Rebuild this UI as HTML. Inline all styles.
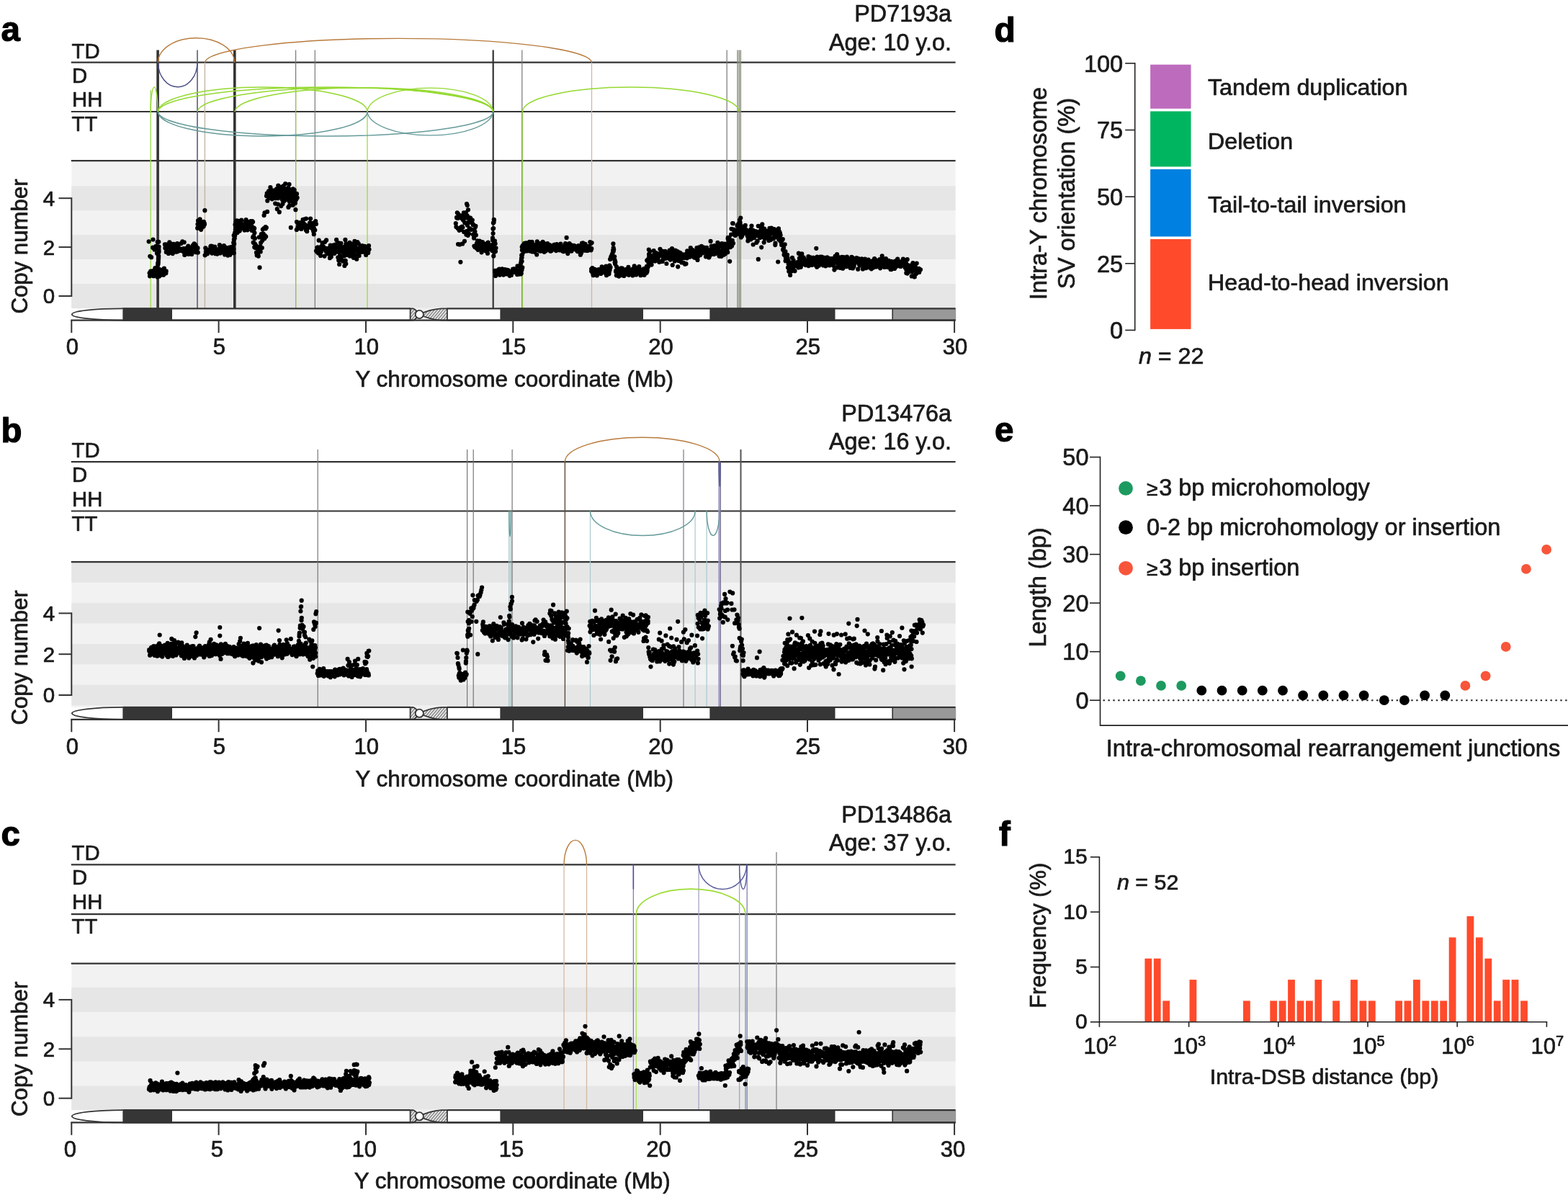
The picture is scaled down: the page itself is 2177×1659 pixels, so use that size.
<!DOCTYPE html>
<html lang="en"><head><meta charset="utf-8"><title>Figure</title>
<style>
html,body{margin:0;padding:0;background:#fff;}
body{width:2177px;height:1659px;overflow:hidden;}
svg{display:block;font-family:'Liberation Sans', Arial, Helvetica, sans-serif;}
text{stroke:#1a1a1a;stroke-width:.7px;stroke-linejoin:round;}
text.pl{stroke:#000;stroke-width:1.2px;}
</style></head><body>
<svg width="2177" height="1659" viewBox="0 0 2177 1659">
<defs>
<pattern id="hat" width="3.1" height="3.1" patternUnits="userSpaceOnUse" patternTransform="rotate(40)">
<rect width="3.1" height="3.1" fill="#ececec"/><line x1="0.8" y1="0" x2="0.8" y2="3.1" stroke="#7a7a7a" stroke-width="1.3"/>
</pattern>
</defs>
<rect width="2177" height="1659" fill="#fff"/>

<rect x="99.3" y="223.2" width="1227.3" height="205.1" fill="#f2f2f2"/>
<rect x="99.3" y="394" width="1227.3" height="34" fill="#e6e6e6"/>
<rect x="99.3" y="326.1" width="1227.3" height="33.9" fill="#e6e6e6"/>
<rect x="99.3" y="258.2" width="1227.3" height="33.9" fill="#e6e6e6"/>
<line x1="98.8" y1="86.7" x2="1326.6" y2="86.7" stroke="#333" stroke-width="2.2"/>
<line x1="98.8" y1="155" x2="1326.6" y2="155" stroke="#333" stroke-width="2.2"/>
<line x1="98.8" y1="223.2" x2="1326.6" y2="223.2" stroke="#333" stroke-width="2.2"/>
<line x1="209.2" y1="125" x2="209.2" y2="428.3" stroke="#a2dc55" stroke-width="1.4" opacity="1"/>
<line x1="274" y1="69.5" x2="274" y2="428.3" stroke="#5c5c72" stroke-width="1.6" opacity="1"/>
<line x1="284.4" y1="86.7" x2="284.4" y2="428.3" stroke="#c4b4a2" stroke-width="1.4" opacity="1"/>
<line x1="410.6" y1="69.5" x2="410.6" y2="428.3" stroke="#777" stroke-width="1.2" opacity="1"/>
<line x1="410.6" y1="121" x2="410.6" y2="428.3" stroke="#94d930" stroke-width="1.2" opacity="0.8"/>
<line x1="437.3" y1="69.5" x2="437.3" y2="428.3" stroke="#777" stroke-width="1.2" opacity="1"/>
<line x1="510" y1="155" x2="510" y2="428.3" stroke="#94d930" stroke-width="1.2" opacity="1"/>
<line x1="724.8" y1="69.5" x2="724.8" y2="428.3" stroke="#777" stroke-width="1.2" opacity="1"/>
<line x1="725.6" y1="155" x2="725.6" y2="428.3" stroke="#94d930" stroke-width="1.2" opacity="0.8"/>
<line x1="821.5" y1="86.7" x2="821.5" y2="428.3" stroke="#d0b8a0" stroke-width="1.3" opacity="1"/>
<line x1="1009.2" y1="69.5" x2="1009.2" y2="428.3" stroke="#777" stroke-width="1.2" opacity="1"/>
<line x1="1024" y1="69.5" x2="1024" y2="428.3" stroke="#8a9080" stroke-width="1.5" opacity="1"/>
<line x1="1026.3" y1="69.5" x2="1026.3" y2="428.3" stroke="#8a9080" stroke-width="1.5" opacity="1"/>
<line x1="1028.3" y1="69.5" x2="1028.3" y2="428.3" stroke="#8a9080" stroke-width="1.5" opacity="1"/>
<line x1="219.1" y1="69.5" x2="219.1" y2="428.3" stroke="#333" stroke-width="3.6" opacity="1"/>
<line x1="325.8" y1="69.5" x2="325.8" y2="428.3" stroke="#333" stroke-width="3.6" opacity="1"/>
<line x1="684.7" y1="69.5" x2="684.7" y2="428.3" stroke="#333" stroke-width="2.2" opacity="1"/>
<path d="M219.5,86.7 A53,34 0 0 1 325.5,86.7" fill="none" stroke="#b87a3c" stroke-width="1.4" opacity="1"/>
<path d="M284.4,86.7 A268.6,34 0 0 1 821.5,86.7" fill="none" stroke="#b87a3c" stroke-width="1.4" opacity="1"/>
<path d="M219.5,86.7 A27.2,34 0 0 0 274,86.7" fill="none" stroke="#484c84" stroke-width="1.4" opacity="1"/>
<path d="M209.2,155 A4.9,34 0 0 1 219,155" fill="none" stroke="#94d930" stroke-width="1.4" opacity="1"/>
<path d="M219.5,155 A232.6,34 0 0 1 684.7,155" fill="none" stroke="#94d930" stroke-width="1.4" opacity="1"/>
<path d="M274,155 A205.4,34 0 0 1 684.7,155" fill="none" stroke="#94d930" stroke-width="1.4" opacity="1"/>
<path d="M326,155 A179.4,34 0 0 1 684.7,155" fill="none" stroke="#94d930" stroke-width="1.4" opacity="1"/>
<path d="M219.5,155 A145.2,34 0 0 1 510,155" fill="none" stroke="#94d930" stroke-width="1.4" opacity="1"/>
<path d="M510,155 A87.4,34 0 0 1 684.7,155" fill="none" stroke="#94d930" stroke-width="1.4" opacity="1"/>
<path d="M725.6,155 A150.2,34 0 0 1 1026,155" fill="none" stroke="#94d930" stroke-width="1.4" opacity="1"/>
<path d="M219.5,155 A145.2,34 0 0 0 510,155" fill="none" stroke="#649a99" stroke-width="1.4" opacity="1"/>
<path d="M510,155 A87.4,34 0 0 0 684.7,155" fill="none" stroke="#649a99" stroke-width="1.4" opacity="1"/>
<path d="M219.5,155 A232.6,34 0 0 0 684.7,155" fill="none" stroke="#649a99" stroke-width="1.4" opacity="1"/>
<path d="M206.6,335.3h0M208.3,355.8h0M210.1,357.2h0M212.1,343.7h0M212.5,332.5h0M214.5,346.5h0M216.5,341.9h0M218,351.7h0M218.7,335.9h0M207.6,379h0M208,383.3h0M208.5,378.7h0M208.8,377.6h0M209.2,376.7h0M209.7,379h0M210,377h0M210.4,379.2h0M210.7,376.5h0M211.4,380.7h0M211.5,378.4h0M212.2,376.2h0M212.3,378.1h0M212.8,378.6h0M213.1,383.2h0M213.7,378.2h0M213.9,379.1h0M214.4,375.2h0M214.7,379.7h0M214.9,376.8h0M215.4,372.2h0M215.7,381.1h0M216.3,378.3h0M216.5,380.1h0M217.1,375.8h0M217.4,379.5h0M217.5,375.1h0M217.9,379.3h0M218.5,384.5h0M218.8,375.5h0M219.4,374.2h0M219.7,382.3h0M219.9,378.4h0M220.4,373.6h0M220.8,378.1h0M221.1,383.6h0M221.4,379.1h0M222,374.6h0M222.4,382.2h0M222.8,380.5h0M223,377.5h0M223.3,374.6h0M223.7,379.6h0M224.2,379.6h0M224.5,376.8h0M225,379.7h0M225.3,379.7h0M225.6,376.8h0M226.2,375.4h0M226.6,375.6h0M227,381.7h0M227.2,374.8h0M227.5,380.5h0M227.9,372.5h0M228.3,376.6h0M228.7,378.8h0M229,378.8h0M229.4,378.7h0M229.9,377.3h0M230.4,379.3h0M230.7,376.4h0M219.1,377.9h0M219.1,368.1h0M219.2,365.2h0M219.3,372.6h0M219.4,366.2h0M219.5,367h0M219.6,364.9h0M219.7,365h0M219.8,364.1h0M219.9,359.5h0M219.9,361h0M220,356.3h0M220.1,359h0M220.2,355h0M220.2,356.5h0M220.3,335.8h0M220.4,345.8h0M220.5,349.9h0M220.6,348.6h0M220.6,342.5h0M228.9,339.3h0M229.4,344.5h0M229.7,342.5h0M230.4,339.4h0M230.8,349.9h0M231.1,346.4h0M231.5,348h0M232,349.8h0M232.5,347.8h0M233.2,348.9h0M233.6,340.5h0M233.9,352h0M234.5,351.4h0M235.3,336.3h0M235.6,344.8h0M236.3,340.6h0M236.8,350.5h0M237.2,339.6h0M237.6,343.4h0M238.2,346.4h0M238.4,342.1h0M239,338.8h0M239.7,352.1h0M240,350.5h0M240.5,348.1h0M241.1,338.8h0M241.8,344.6h0M242.1,347.5h0M242.4,344.7h0M243.3,345.8h0M243.7,344.5h0M244.1,349.2h0M244.7,349.7h0M244.9,342.7h0M245.3,347h0M246.1,338.2h0M246.8,349.1h0M247.2,345.4h0M247.7,340.5h0M247.8,345.7h0M248.3,345.3h0M248.9,346.9h0M249.8,347.8h0M249.8,345.3h0M250.4,346.2h0M251.2,347.9h0M251.4,338h0M251.9,347.7h0M252.4,347.9h0M253.1,345.9h0M253.3,335.4h0M253.9,345.4h0M254.5,349.3h0M254.8,345.1h0M255.7,336.3h0M255.8,348.1h0M256.3,354h0M257,353.3h0M257.5,347.7h0M258,348.7h0M258.3,346.1h0M258.8,344.6h0M259.7,351.4h0M260,344.4h0M260.6,348.7h0M260.8,344.1h0M261.3,341.5h0M261.8,352.8h0M262.3,351h0M262.9,347.5h0M263.3,343.3h0M263.7,345.8h0M264.4,344.8h0M264.9,345.5h0M265.3,345h0M266.1,350.4h0M266.2,352.9h0M266.7,346.2h0M267.6,343.1h0M268.1,340.3h0M268.5,346.9h0M268.9,344.5h0M269.5,348.3h0M269.7,338.4h0M270.5,342.9h0M271,345.5h0M271.5,340.1h0M271.9,350.2h0M272.4,344.4h0M272.6,342.5h0M273.4,347.6h0M273.6,348.7h0M274.5,344.4h0M274.8,350.6h0M274.2,316.7h0M274.5,311.3h0M275,306.4h0M275.5,311.6h0M276.1,308.8h0M276.4,311h0M276.9,313h0M277.6,304.4h0M278.1,315h0M278.4,314.6h0M279.1,318.8h0M279.6,312.6h0M280.2,312.9h0M280.6,315.7h0M281.1,311.8h0M281.7,308.1h0M282.4,309.5h0M282.7,314.3h0M282.9,307.9h0M283.9,310.3h0M284,311.6h0M284.6,354.3h0M285.3,344.4h0M285.8,349.5h0M286.3,352.7h0M286.9,350.7h0M287.4,348.6h0M287.5,347.5h0M288,352.3h0M288.4,349.2h0M289.2,347.2h0M289.6,349.9h0M290,346.6h0M290.8,347.6h0M291.3,348.6h0M291.8,348.7h0M292.3,342.3h0M292.8,341.5h0M293.2,347.8h0M293.8,350.4h0M294.3,351.6h0M294.5,341.9h0M294.9,347.4h0M295.7,344.7h0M296.3,342.7h0M296.5,343h0M296.8,347.3h0M297.6,343.7h0M297.8,345h0M298.3,342.7h0M299.1,352.2h0M299.3,350.9h0M299.9,349.4h0M300.5,347.3h0M300.8,349.2h0M301.6,352.6h0M302.2,350.7h0M302.6,347.7h0M303.1,349.9h0M303.3,348.1h0M303.7,345.8h0M304.5,348.3h0M304.9,340.2h0M305.6,347.9h0M305.7,351.5h0M306.3,346.5h0M306.9,349.4h0M307.1,342.8h0M307.9,349.6h0M308.3,345.5h0M309,348.3h0M309.4,350.5h0M309.8,346.4h0M310.2,346.2h0M310.9,341.2h0M311.3,351.3h0M312.1,353.5h0M312.3,344.8h0M312.9,343.3h0M313.1,346.7h0M313.9,350h0M314,347.2h0M314.7,350h0M315.5,344.8h0M315.8,347.3h0M316.4,354.6h0M316.8,346.6h0M317.3,351.9h0M317.8,351h0M318.3,343.5h0M319,345h0M319.4,353.7h0M319.9,349.3h0M320.1,348.7h0M320.8,343.1h0M321,349.9h0M321.9,350.7h0M322,346.1h0M322.7,346.6h0M323.1,350.5h0M323.7,342h0M324.4,345.9h0M324.7,351.2h0M324.2,336.9h0M324.4,337.3h0M324.7,326.8h0M324.9,332.7h0M325.2,338.6h0M325.5,330.4h0M325.8,330.8h0M326,323.3h0M326.3,326.8h0M326.4,324.5h0M326.8,319h0M327.1,317.1h0M327.3,309.3h0M326.5,311.9h0M327.1,313.6h0M327.4,314.7h0M328,307.9h0M328.5,310.2h0M328.7,306.3h0M329.6,322.9h0M330,309h0M330.4,313.3h0M330.7,306.9h0M331.2,313.8h0M332,317.4h0M332.2,314.5h0M332.8,320.6h0M333.2,317.5h0M333.6,309.6h0M334.2,306.8h0M335,310.8h0M335.2,305.7h0M336,311.5h0M336.6,316.6h0M337,316.1h0M337.1,314h0M337.8,315.3h0M338.3,315.4h0M338.7,311.3h0M339.5,319.6h0M339.7,311.9h0M340.4,316.6h0M341,307.7h0M341.6,305.1h0M342,311h0M342.2,318.3h0M343,309.3h0M343.3,307.6h0M343.6,319.3h0M344.5,311h0M344.9,313.4h0M345.1,315.6h0M345.8,312h0M346.5,312.7h0M346.6,314.5h0M347.5,310.1h0M347.6,312.8h0M348.1,307h0M348.9,312.8h0M349.4,309.9h0M349.7,320h0M350.3,307.2h0M350.6,315.4h0M351.1,308.1h0M351.7,316.7h0M352.3,319.7h0M352.5,316.4h0M353.2,317h0M351,318.6h0M351.2,329.4h0M351.7,336.7h0M352.1,327.9h0M352.6,337.2h0M352.6,317.4h0M353.3,343.2h0M353.4,323.3h0M353.9,331h0M354.2,338.9h0M354.7,344.1h0M355,340.4h0M355.5,343.1h0M356,341.9h0M356,350.7h0M356.7,354.4h0M356.9,351.3h0M357.4,353.3h0M357.9,344.4h0M358.2,342.6h0M358.5,354.8h0M358.8,355.6h0M359.2,348.5h0M359.8,329.3h0M359.9,346.7h0M360.5,371.4h0M360.9,329.1h0M361.3,342h0M361.7,349.4h0M362.1,337h0M362.3,328.5h0M362.8,325h0M363.2,326h0M363.3,324.9h0M363.8,344h0M364.2,334h0M364.8,318.6h0M365.1,331.5h0M365.6,324.5h0M365.8,324.9h0M366.4,317.2h0M366.6,299h0M367.2,331.2h0M367.5,295.3h0M367.9,327h0M368,329.5h0M368.7,315.2h0M369,317.3h0M369.2,328.5h0M369.8,316.1h0M370,272.1h0M370.6,271h0M370.7,268.4h0M371.3,278.7h0M371.4,272.3h0M371.9,268h0M372.2,269.5h0M372.7,268.1h0M373,265.3h0M373.5,270h0M373.7,268.2h0M374.4,270h0M374.7,270.5h0M374.8,275h0M375.4,260.1h0M375.7,262.2h0M376.3,272.6h0M376.6,275.2h0M376.9,264.3h0M377.4,265.4h0M377.8,276.3h0M378.2,268.1h0M378.5,264.4h0M378.9,274.3h0M379.1,268.6h0M379.7,266h0M379.7,274.9h0M380.4,271.5h0M380.6,267.2h0M381.1,265.3h0M381.4,268h0M382,268.4h0M382.2,282.6h0M382.6,274.4h0M383,270.3h0M383.5,262.8h0M383.8,269.8h0M384,270.3h0M384.5,262.1h0M384.9,265h0M385.3,268.7h0M385.8,268.9h0M385.9,275.2h0M386.3,257.6h0M386.8,272.8h0M387.3,258.9h0M387.5,273.1h0M387.9,266.8h0M388.4,273.4h0M388.6,271.4h0M388.9,263.2h0M389.3,269.2h0M389.7,267.8h0M390.1,263.8h0M390.5,274h0M391.1,268.7h0M391.4,261.9h0M391.8,277h0M392.1,264.6h0M392.5,282.9h0M392.9,267.7h0M393,258.7h0M393.5,258.2h0M393.8,268.6h0M394.5,262.3h0M394.7,270.2h0M394.9,278.7h0M395.5,261.7h0M395.9,268.7h0M396.2,255h0M396.5,273.4h0M397,275.7h0M397.2,264.7h0M397.7,269.7h0M398.2,262.5h0M398.6,266.8h0M398.7,276.6h0M399.2,270.9h0M399.7,272.6h0M400.2,260.8h0M400.3,261.6h0M400.7,265.7h0M401.2,270.8h0M401.5,255.9h0M401.8,279.7h0M402.3,263.4h0M402.6,273h0M403.2,272.1h0M403.3,263.4h0M404,275.6h0M404.4,279.2h0M404.5,274.5h0M405.1,270.3h0M405.5,268.3h0M405.8,264.6h0M406.1,266.4h0M406.5,266.3h0M406.9,262.4h0M407.3,270.6h0M407.5,272.7h0M408.1,266.7h0M408.3,267.8h0M408.7,263.9h0M409.1,271.7h0M409.7,271.1h0M410,270.8h0M410.2,269.4h0M410.7,275.1h0M411.2,276.9h0M411.3,273.9h0M411.7,268.9h0M412,269.2h0M382.4,275.2h0M384.8,290.2h0M385.9,283.6h0M387.8,294.4h0M390.3,286.1h0M391.5,272.3h0M394.8,278.5h0M395.8,277.5h0M399.7,267.5h0M400.4,287.7h0M401.8,285.7h0M404.5,276h0M407.4,275.4h0M409.3,277.1h0M406.4,279.2h0M406.7,284.7h0M407.5,275.6h0M408.3,278.8h0M409.9,281.9h0M410.4,291.2h0M411,277.1h0M412,308h0M412.7,274.6h0M413.8,315.1h0M411.8,319h0M412.5,318h0M412.9,308.9h0M413.3,317.5h0M413.7,314.7h0M414.5,316.3h0M414.6,316.7h0M415.3,311.3h0M415.7,310h0M416.3,312.7h0M416.8,309.2h0M417.3,314.4h0M417.7,311.5h0M418.3,318h0M418.9,314.2h0M419.4,313.2h0M419.7,313.7h0M420.4,307.4h0M420.6,304.8h0M421.4,311h0M421.9,304.6h0M422.2,310.8h0M422.9,314.5h0M423.2,314.9h0M423.8,312h0M424.1,316.7h0M424.8,319.6h0M425,303.6h0M425.8,315.8h0M426.2,321.2h0M426.7,316.3h0M427.4,316.6h0M427.9,315.6h0M428.2,314.1h0M428.7,313.9h0M429,313h0M429.5,313.1h0M430,309.7h0M430.6,309h0M431.1,303.6h0M431.8,314h0M432.4,311.7h0M432.9,316h0M433.1,316.9h0M433.5,314.7h0M434.3,309.8h0M434.9,315h0M435.1,321h0M435.8,325.2h0M436,317h0M436.6,311.5h0M437.3,319.5h0M437.8,310.8h0M438.2,307.1h0M438.9,311h0M439,348.3h0M439.6,349.2h0M440.3,343.8h0M440.9,345h0M441.1,343.3h0M441.7,347.4h0M441.9,351.4h0M442.7,333.7h0M443.3,350.2h0M443.6,343.5h0M444.2,345.3h0M444.6,348h0M445.1,354.9h0M445.8,349.6h0M445.9,346.5h0M446.3,343.1h0M446.9,341.4h0M447.6,337.2h0M448.2,345.5h0M448.8,342h0M449.2,343.9h0M449.5,345.1h0M450.1,345.7h0M450.5,355.6h0M451,336h0M451.7,344.5h0M452.2,347.1h0M452.4,348.6h0M453.1,333.4h0M453.3,349.7h0M454,349.9h0M454.6,345.2h0M455.2,346h0M455.5,352.3h0M456,348.4h0M456.6,345.6h0M456.7,347.8h0M457.5,348.6h0M458,358.2h0M458.3,343h0M458.7,340.7h0M459.3,346h0M459.8,356.6h0M460.5,352.8h0M460.8,350h0M461.4,346h0M461.8,342.4h0M462.3,340.5h0M462.7,342.9h0M463.2,349h0M463.9,340h0M464.4,351.8h0M464.9,346.2h0M465.2,342.5h0M465.7,345.8h0M466.1,339.4h0M466.6,344.9h0M467.4,341.6h0M467.8,343.1h0M468.5,339.9h0M468.8,349.4h0M469.1,346.4h0M469.8,337.2h0M470,340.8h0M470.9,350.3h0M471.3,339.8h0M471.5,346.7h0M472.1,345.3h0M472.7,346.4h0M473.4,337.8h0M473.6,343h0M474.3,347.8h0M474.6,346.9h0M475.3,345.3h0M475.5,348.7h0M476.3,343.9h0M476.7,350.9h0M477,350.2h0M477.4,342.8h0M478.3,348.5h0M478.9,346.4h0M479.3,346.5h0M479.7,344.7h0M480.1,341.5h0M480.4,338.4h0M481.3,349.1h0M481.5,342.5h0M482.2,346h0M482.5,342.3h0M482.9,344.7h0M483.7,348.8h0M484.1,340.9h0M484.4,349.5h0M485.2,350.4h0M485.5,336.9h0M486.2,354.9h0M486.5,345.1h0M487.2,342.6h0M487.3,349.8h0M487.8,346.8h0M488.4,342.1h0M489.2,350.3h0M489.7,338.7h0M489.7,340.7h0M490.4,356.2h0M491,340.4h0M491.3,350.7h0M491.8,345.2h0M492.4,334.9h0M493.1,354.4h0M493.2,340.3h0M494.1,347.8h0M494.3,338.4h0M494.8,336.3h0M495.2,359.7h0M496.1,344.9h0M496.3,336.1h0M497,345.2h0M497.4,353.2h0M497.8,338.3h0M498.6,355h0M498.8,348.3h0M499.3,348.4h0M499.7,347.1h0M500.4,342.5h0M501,348h0M501.5,344h0M502.1,349.8h0M502.4,346.9h0M502.8,345.9h0M503,341.2h0M503.7,347.4h0M504.3,349h0M504.8,349.7h0M505.3,341.8h0M505.8,349.2h0M506.4,341.9h0M506.7,344.7h0M507.1,342.6h0M507.5,346.5h0M508.1,353.9h0M509,345.3h0M509.4,345.8h0M509.5,345.7h0M510.3,343.2h0M510.9,348.3h0M511.2,350.9h0M511.5,347.8h0M512,341.2h0M512.5,346.3h0M469.4,357.4h0M470.2,361.6h0M471.1,367h0M471.9,355h0M473.2,344.1h0M473.4,357.9h0M474.4,344.4h0M475.1,361.6h0M476.2,362.7h0M476.7,347.4h0M477.8,355.4h0M478.4,368.9h0M479.7,361.9h0M480.3,366.3h0M481.6,353.8h0M481.8,351.7h0M483,350.9h0M483.5,350.9h0M484.2,348.7h0M485.8,355.5h0M486.4,351.2h0M486.7,339.2h0M488.3,348.9h0M488.8,352.7h0M489.2,353.4h0M490.7,356.2h0M490.8,357.8h0M632.8,310.2h0M633.4,315.1h0M634,301.8h0M634.2,302.5h0M634.8,295.3h0M635.6,317h0M635.6,302.9h0M636.1,297.1h0M636.9,299h0M637.6,319.8h0M637.8,300.5h0M638.1,318.9h0M639,299h0M639.6,299.7h0M639.9,315.7h0M640.3,319h0M640.9,302.9h0M641.5,314.5h0M642,301.1h0M642.4,315.8h0M643,305.6h0M643.4,304h0M643.9,295.4h0M644.1,322h0M644.7,297.8h0M645.3,309.2h0M645.9,322.3h0M646.3,309.4h0M646.8,295.2h0M647.2,301.3h0M647.9,302.4h0M648.4,301.5h0M648.7,299.3h0M647.2,298.3h0M647.6,321.1h0M648,283.1h0M648.8,285.1h0M649,312.8h0M649.7,326.8h0M650,291.3h0M650.5,309.1h0M651.3,318.5h0M651.6,307.1h0M652,317.1h0M652.6,302.3h0M653.3,302.9h0M653.8,306.1h0M654.2,318.8h0M654.5,318.3h0M655,308.7h0M655.8,305.6h0M656.2,310.8h0M656.7,311.9h0M657,325.7h0M657.3,312h0M658,330.6h0M658.6,319.6h0M659,323.5h0M659.4,321.6h0M660.1,315h0M660.4,313.8h0M660.8,326.4h0M636,339h0M638.2,339.4h0M639.4,363.8h0M642.2,338.4h0M645,334.8h0M647.4,325.7h0M651,324.6h0M658.4,341.5h0M659.3,343.1h0M659.8,342.6h0M660.2,342.9h0M660.5,342.5h0M661,343h0M661.5,344.6h0M662,337.8h0M662.5,340.9h0M663,334.3h0M663.6,346.8h0M664.1,342h0M664.4,340.6h0M665.2,337.4h0M665.5,338.9h0M665.9,334.6h0M666.7,341.3h0M667.2,344.8h0M667.4,339.7h0M668,342.1h0M668.6,350.3h0M669.1,340.4h0M669.4,341h0M669.9,336.2h0M670.8,341.9h0M670.9,345.9h0M671.4,346h0M671.8,341.6h0M672.4,341.7h0M673,339.3h0M673.7,346.3h0M674.2,348.2h0M674.5,346h0M675.2,341.6h0M675.7,338.1h0M675.8,346.2h0M676.3,340.4h0M677,351.7h0M677.7,336.5h0M677.9,346.2h0M678.5,345.7h0M679,339.6h0M679.2,341.3h0M680,341.2h0M680.6,343.7h0M680.9,345.5h0M681.5,341.9h0M682,341.8h0M682.3,344.7h0M683.1,345.2h0M683.3,348h0M684.1,340.7h0M684.6,339.4h0M684.7,348.6h0M685.3,355.4h0M686,345.8h0M686.3,350h0M686.9,334.3h0M687.6,338.3h0M688,349h0M688.5,344.3h0M684,330.4h0M684,333.4h0M684.5,317.7h0M684.6,324h0M684.9,309.4h0M685.2,317h0M685.6,308.8h0M685.8,304.8h0M686,305.5h0M687.2,375.9h0M687.5,378h0M688,382.9h0M688.5,377.4h0M689,379.8h0M689.4,377.8h0M689.7,380.3h0M690,376.5h0M690.5,375.4h0M691,376.2h0M691.2,376.6h0M691.7,375.5h0M692,379.4h0M692.7,374.2h0M693.2,373.7h0M693.3,375h0M693.8,381.7h0M694.3,379.4h0M694.9,374.7h0M695.1,376.8h0M695.3,374.6h0M695.9,376.2h0M696.2,374.9h0M696.8,376.1h0M697.2,373.3h0M697.7,377.1h0M698,379.8h0M698.2,376.7h0M698.6,380h0M699,381.6h0M699.5,378.2h0M700.2,375h0M700.3,378.1h0M701,374.1h0M701.2,377.6h0M701.6,377.7h0M702.3,376.5h0M702.6,374.6h0M702.9,380.4h0M703.4,378.8h0M703.7,378.7h0M704.2,374.9h0M704.6,375.1h0M705,379h0M705.5,375.1h0M705.9,377.4h0M706.1,377.1h0M706.6,377.8h0M707.1,378.9h0M707.6,382.8h0M707.9,377.5h0M708.3,377h0M708.7,377.1h0M709.1,378.7h0M709.3,377.8h0M709.9,382h0M710.4,378.3h0M710.6,379h0M711.3,378.1h0M711.6,375.8h0M712.1,373.7h0M712.6,378h0M712.7,377.4h0M713.1,377h0M713.8,373.4h0M714.1,375.6h0M714.7,375.7h0M714.8,377.1h0M715.5,377.9h0M715.9,375.5h0M716.2,378.3h0M716.5,373.8h0M716.9,378.6h0M717.4,377.6h0M718,381.1h0M718.1,379.7h0M718.5,369.4h0M718.9,376.7h0M719.4,379.5h0M719.9,380.7h0M720.2,375.9h0M720.8,379.7h0M720.9,377.3h0M721.5,378.3h0M721.9,375.8h0M722.5,374.4h0M722.6,374.5h0M723.1,370.1h0M723.5,373h0M723.8,379.5h0M724.4,375.1h0M724.8,372.8h0M725.3,371.3h0M722.6,368.2h0M723,380.4h0M723.1,365.2h0M723.3,379.6h0M723.7,361.8h0M724,358.7h0M724.2,354.4h0M724.6,357.5h0M724.6,362.8h0M724.9,347.2h0M725.1,353.6h0M725.5,347.7h0M725.8,340.9h0M724.7,342.8h0M725.2,343h0M725.8,345.1h0M726.1,341h0M726.8,349.7h0M727.2,341.7h0M727.8,346.2h0M728.1,337.9h0M728.8,347.7h0M729.3,342.4h0M729.8,346.6h0M730.5,337.3h0M730.8,347.8h0M731.2,348.4h0M731.8,348h0M732.2,342.8h0M732.7,343.2h0M733.1,341h0M733.7,343.6h0M734.4,337.2h0M734.8,348.1h0M735.1,335.8h0M735.6,348.4h0M736.1,346.9h0M736.8,341.9h0M737,346.3h0M737.6,345.6h0M738,349.1h0M738.6,335.9h0M739.2,349.4h0M739.7,342.3h0M739.9,346.1h0M740.6,348.3h0M741,339.8h0M741.5,343.2h0M742,345.3h0M742.4,349.8h0M743.3,345.1h0M743.6,341.3h0M744,340.6h0M744.6,346.9h0M745.2,353.5h0M745.3,338.3h0M745.8,335.3h0M746.7,340.1h0M746.8,340.3h0M747.3,347.2h0M748,337.9h0M748.3,341.4h0M748.8,341.1h0M749.3,348.2h0M750.1,343.7h0M750.2,348.6h0M750.7,344.8h0M751.3,338.6h0M751.8,337.6h0M752.2,348.4h0M753,343.1h0M753.5,341.5h0M753.6,335.8h0M754.4,337h0M754.7,341.9h0M755.5,341.2h0M755.6,349.8h0M756.2,339h0M757,340.1h0M757.3,347h0M757.6,348.4h0M758.2,347.5h0M758.7,338.6h0M759.2,346.2h0M759.5,344.6h0M760.1,338.2h0M760.7,343h0M761.3,344.9h0M761.9,344.3h0M762.3,339.8h0M762.8,343.6h0M763.1,340h0M763.7,348.3h0M764.4,342.9h0M764.4,348.7h0M765.1,345.5h0M765.7,348.1h0M766,342.2h0M766.7,346.2h0M767.1,343.3h0M767.4,343.2h0M768,344.7h0M768.4,343.6h0M769.2,339.8h0M769.5,344.3h0M770.1,339.9h0M770.6,341.1h0M771.3,346.7h0M771.5,347.5h0M772.2,348.1h0M772.6,344.4h0M773,339.1h0M773.7,341.7h0M773.9,342.3h0M774.7,342.8h0M774.8,344.7h0M775.5,345.1h0M776.2,343.5h0M776.5,340.5h0M777,347.3h0M777.2,345.2h0M778,344.7h0M778.4,338.6h0M778.8,340.4h0M779.6,343.9h0M779.9,346.7h0M780.2,344.4h0M781,348.6h0M781.2,342.4h0M781.8,347.3h0M782.4,349.2h0M782.8,345.8h0M783.3,348.5h0M783.9,344.3h0M784.1,342.5h0M785,338.2h0M785.2,348.2h0M785.9,342.6h0M786.2,348.4h0M786.6,329.9h0M787.4,344h0M787.7,344.8h0M788.3,352.1h0M788.5,339.1h0M789.3,344.5h0M789.8,339.9h0M790,342.1h0M790.6,338.1h0M791.2,345.2h0M791.5,345.8h0M792.2,348.5h0M792.7,340.1h0M793.2,345.6h0M793.6,348.6h0M794,346.8h0M794.4,342.9h0M795.1,343h0M795.5,343.3h0M795.9,346h0M796.8,340.8h0M797.2,341.9h0M797.6,344h0M798.1,341.7h0M798.4,341.9h0M799.3,346.1h0M799.3,346.2h0M800,345.8h0M800.5,342.9h0M801.1,346h0M801.3,348.4h0M802,349.1h0M802.6,346h0M803.2,341h0M803.7,343.1h0M804.2,346.4h0M804.4,341.5h0M804.8,346.3h0M805.3,347.6h0M805.9,353.7h0M806.2,347h0M807,351.2h0M807.1,346.3h0M808,337.7h0M808.6,338.3h0M809,347.8h0M809.3,337.4h0M809.8,342.4h0M810.5,338.7h0M810.9,338.3h0M811.5,345h0M811.8,347.7h0M812.1,343.5h0M812.6,338.8h0M813.2,347h0M814,347.8h0M814.2,347.5h0M814.9,345.1h0M815.3,341.8h0M815.6,344.5h0M816.1,347.8h0M816.6,347.4h0M817.1,346.2h0M817.9,345.5h0M818,343.3h0M818.8,345.9h0M819.3,336.1h0M819.4,346.6h0M820.2,338.3h0M820.6,347.3h0M821.3,345.2h0M821.6,337.1h0M821.1,373.5h0M821.1,376.4h0M821.8,373.9h0M822.2,377.6h0M822.4,372.2h0M822.9,376.2h0M823.1,379.8h0M823.6,382.2h0M824.2,377.5h0M824.4,376.4h0M824.8,377.9h0M825.4,374.9h0M825.8,373.9h0M826,381.4h0M826.6,375.6h0M827,378.5h0M827.6,379.9h0M827.7,380.2h0M828.4,375.9h0M828.5,379.1h0M828.8,382.5h0M829.6,376.4h0M829.7,377h0M830.2,375.4h0M830.5,375.3h0M831.2,374.1h0M831.6,378.8h0M832.1,378.7h0M832.2,375.2h0M832.8,376.6h0M833.2,377.8h0M833.6,375.3h0M833.9,376.2h0M834.2,379.9h0M834.6,376.7h0M835.3,373.8h0M835.6,370.3h0M836,376.6h0M836.4,376.3h0M836.7,375.2h0M837.3,375.3h0M837.6,378.2h0M837.9,376.7h0M838.5,377h0M839,376h0M839.2,376.8h0M839.6,376.9h0M839.9,371.6h0M840.4,373.9h0M841,379.2h0M841.4,369.6h0M841.5,375.8h0M842,382.2h0M842.7,376.2h0M842.7,376.7h0M843.2,376.7h0M843.9,374.1h0M844,375.3h0M844.4,377.4h0M845,375h0M845.5,380.3h0M845.7,377.7h0M845.2,377.7h0M845.8,370.3h0M845.9,369h0M846.3,368.6h0M846.6,374.7h0M847.1,359.9h0M847.4,359.7h0M847.5,371.2h0M848.1,358h0M848.3,356.7h0M848.6,356h0M849.1,355.8h0M849.5,354h0M849.7,354.4h0M849.9,358.3h0M850.2,352.3h0M850.5,351.7h0M851.1,347.5h0M851.4,338.4h0M851.7,344.1h0M851.8,348.7h0M852.2,346.3h0M852.8,356.5h0M853.2,356.3h0M853.6,361.2h0M853.6,364.4h0M854.1,366.4h0M854.4,363.9h0M855,377h0M855.2,375.9h0M855.8,382.3h0M856,370.3h0M856.4,378h0M856.9,377.9h0M857.3,376.7h0M857.6,378.1h0M858.1,372.8h0M858.6,375.3h0M858.9,376.5h0M859.3,383.6h0M859.7,373.9h0M860,379.7h0M860.5,376.5h0M860.8,382.3h0M861.2,378.7h0M861.8,381h0M862.1,382.2h0M862.4,372.4h0M862.9,375.9h0M863.4,376.9h0M863.8,376.2h0M864,372.7h0M864.5,380.1h0M865,380.6h0M865.5,381h0M866,376.3h0M866.3,382.9h0M866.4,379.5h0M866.8,374.8h0M867.5,376.5h0M867.9,377.3h0M868.4,377.5h0M868.6,374.6h0M869.2,377.6h0M869.6,373.8h0M869.9,376.6h0M870.5,376.7h0M870.6,374.3h0M870.9,380.7h0M871.4,378h0M872.1,375.9h0M872.4,370.8h0M873,381.8h0M873.2,375.1h0M873.7,379.8h0M873.9,375.3h0M874.3,376.1h0M874.9,377.5h0M875.3,375.5h0M875.8,374.6h0M876,380.3h0M876.3,377.2h0M877.1,377.1h0M877.2,379.3h0M877.8,374.7h0M878,379.6h0M878.4,382.5h0M879,378.6h0M879.2,373.1h0M879.6,376.6h0M880.3,372.2h0M880.7,369.4h0M880.8,372h0M881.2,376.6h0M881.6,378.3h0M882,375.9h0M882.6,379.7h0M882.8,381h0M883.2,381.5h0M883.7,376.3h0M884.2,372.6h0M884.8,373.3h0M885.2,377.9h0M885.6,376.3h0M885.8,378.7h0M886.3,374.7h0M886.8,379h0M886.9,376.2h0M887.3,370.1h0M887.7,378.7h0M888.3,373.5h0M888.9,377.6h0M889,378h0M889.4,382.2h0M889.8,375.2h0M890.4,377.7h0M890.9,378.2h0M891.1,381.6h0M891.7,375.3h0M892,375h0M892.5,376h0M892.7,376.8h0M893.1,374.6h0M893.6,378.6h0M894,373.1h0M894.6,381.8h0M894.7,380.7h0M895.4,380.1h0M895.7,378.7h0M895.9,376.7h0M896.3,377.8h0M896.8,372.8h0M897.3,378h0M897.9,369.8h0M898,378h0M896.4,374.8h0M896.7,376.1h0M897.1,378.1h0M897.3,375h0M897.7,378.7h0M898.2,361.5h0M898.5,376.9h0M898.7,374.9h0M899,370.4h0M899.5,361.7h0M899.8,370.6h0M899.9,359.8h0M900.4,365.3h0M900.7,366.4h0M901.1,352.8h0M900.8,346.5h0M901.2,355.5h0M901.6,356.3h0M902,360.9h0M902.3,349.1h0M903.1,360.3h0M903.6,355.4h0M904.1,359.1h0M904.6,367.6h0M904.9,362.9h0M905.6,355.8h0M906.2,361.1h0M906.5,354.9h0M906.9,354.4h0M907.7,348.1h0M908.1,361.6h0M908.5,360.5h0M909.2,361.5h0M909.4,362.4h0M910.1,351.9h0M910.6,353h0M910.8,351h0M911.3,356.6h0M911.7,355.9h0M912.5,355.9h0M913.1,358.6h0M913.4,356.2h0M913.7,357.8h0M914.5,355.5h0M915,355.8h0M915.2,363.8h0M915.7,352.2h0M916.5,345.9h0M916.9,363.2h0M917.5,353.2h0M918,351.4h0M918.5,352.4h0M918.8,348.8h0M919.3,354.4h0M919.7,363h0M920.5,348.8h0M920.6,360h0M921,358.3h0M921.6,357.4h0M922.5,352.8h0M922.7,355.3h0M923.5,348.8h0M923.7,359h0M924.1,353.2h0M924.8,357.1h0M925.4,366h0M925.9,357h0M926.1,356.9h0M926.7,358.3h0M927.3,357h0M927.8,351.9h0M928,354.1h0M928.5,357.5h0M929.2,355.2h0M929.6,347.6h0M930,358.7h0M930.7,360.6h0M931,352.7h0M931.6,355h0M932,354h0M932.5,347.8h0M933,345.1h0M933.7,368h0M933.9,356.1h0M934.7,358.3h0M935,355.3h0M935.4,351.5h0M936.1,353.2h0M936.7,362.4h0M936.9,357.5h0M937.5,347.5h0M938.2,358.6h0M938.4,357.3h0M939.2,351.1h0M939.3,359.8h0M939.8,348.6h0M940.6,359.3h0M940.9,354.7h0M941.6,357.1h0M942.1,362h0M942.3,350h0M943.2,352.3h0M943.4,357.9h0M944.1,359.5h0M944.5,351h0M945.2,356h0M945.4,359.8h0M945.7,353.1h0M946.3,364.5h0M946.9,358.2h0M947.2,353h0M947.9,353.4h0M948.5,357h0M949,364.8h0M949.3,358.1h0M949.9,353.7h0M950.4,355h0M951,366.7h0M951.3,354.3h0M951.8,353.9h0M952.5,366.2h0M952.9,355.2h0M953.3,352.2h0M953.6,358.5h0M954.2,348.3h0M954.9,356.8h0M955.2,353.7h0M955.7,354h0M956.5,349h0M956.8,356.9h0M957.1,352.9h0M957.9,354.3h0M958.2,350.4h0M958.8,344.1h0M959.2,356h0M959.6,351.5h0M960.2,353.4h0M960.9,354.8h0M961.1,346.9h0M961.6,347h0M962.3,347.8h0M962.5,348.5h0M963.1,351.7h0M963.6,353.3h0M963.9,357.6h0M964.4,354.5h0M965.3,350.6h0M965.7,349.3h0M966,357.9h0M966.8,352.1h0M966.9,348.5h0M967.5,344.1h0M968.2,353.2h0M968.5,360.9h0M969.3,346.7h0M969.5,355.7h0M969.9,353.8h0M970.6,343.3h0M971,346h0M971.6,349.8h0M972.3,353.9h0M972.8,352.2h0M973.1,350.1h0M973.6,348.5h0M973.9,341.8h0M974.4,344.2h0M975.1,346.4h0M975.6,351.2h0M975.8,345.9h0M976.3,349.8h0M976.7,346.3h0M977.4,343.7h0M977.7,349.1h0M978.4,347h0M979,347.6h0M979.2,347.8h0M980,356.3h0M980.4,349.6h0M980.9,352.3h0M981.2,343.8h0M981.9,348.6h0M982.6,347.8h0M983.1,349.9h0M983.3,351h0M983.7,347h0M984.3,357.5h0M984.9,350.9h0M985.2,355.6h0M985.7,353.2h0M986.2,348.6h0M986.6,334.9h0M987.4,352.9h0M987.8,341.7h0M988.1,343.8h0M988.5,352.3h0M989.1,345.4h0M989.6,343.7h0M990.3,351.1h0M990.6,350.3h0M991.3,353h0M991.9,341.1h0M992.3,343.1h0M992.9,348.4h0M993.2,342.5h0M993.6,352h0M994.1,343.1h0M994.5,351h0M995.2,345.4h0M995.6,345h0M996.3,343.7h0M996.4,336.8h0M997.1,338.7h0M997.7,345.8h0M998.3,341.6h0M998.6,355.6h0M999.1,350.2h0M999.5,349.3h0M1000.1,353.6h0M1000.4,339.1h0M1001.2,348.4h0M1001.6,355.8h0M1002.2,338.1h0M1002.4,338.3h0M1003.1,342.4h0M1003.7,342.7h0M1004,346.3h0M1004.3,348h0M1005,353.7h0M1005.7,345h0M1006,338.7h0M1006.4,346.7h0M1007,348h0M1007.3,351.9h0M1008.2,344.7h0M1008.4,344.3h0M1009.1,340.1h0M1009.6,342.6h0M1009.8,345.2h0M1010.3,350.2h0M1009.1,339.1h0M1009.6,341.2h0M1010,341.1h0M1010.6,331.3h0M1010.8,329.8h0M1011.3,335.3h0M1012.1,338.3h0M1012.5,330.4h0M1013.2,362.8h0M1013.8,343.1h0M1014.2,343.1h0M1014.3,338h0M1015.1,325.6h0M1015.5,317.8h0M1016.1,341.6h0M1016.8,333.9h0M1017.1,310.1h0M1017.7,310.2h0M1018,337.8h0M1018.6,318.6h0M1019.2,321.1h0M1019.8,322.8h0M1020.3,319.3h0M1020.7,327h0M1021.1,324.8h0M1021.4,320.8h0M1022.1,323.6h0M1022.6,319.7h0M1022.9,321.9h0M1023.4,324.8h0M1024,320.9h0M1024.5,314h0M1024.8,320.9h0M1025.4,315.8h0M1025.9,322.9h0M1026.6,322.4h0M1026.9,323.1h0M1027.5,320.9h0M1028.1,312.5h0M1028.2,326.9h0M1028.9,329.4h0M1029.4,322.7h0M1030.1,327.7h0M1030.6,326.3h0M1030.9,316.5h0M1031.6,323.1h0M1032,320.5h0M1032.2,314.6h0M1033,317.3h0M1033.2,316.5h0M1033.7,323.6h0M1034.4,317.8h0M1034.8,312.9h0M1035.5,318.5h0M1035.8,318.8h0M1036.5,322.5h0M1037,322.1h0M1037.5,320.9h0M1037.7,327.5h0M1038.4,334.4h0M1038.9,330.5h0M1039.1,329.6h0M1039.9,323.3h0M1040.4,321.4h0M1041,323.5h0M1041,330.7h0M1041.7,321.3h0M1042.2,318.5h0M1042.5,332.3h0M1043.3,326.4h0M1043.5,313.6h0M1044.1,328.5h0M1044.9,322.3h0M1045.3,319.5h0M1045.4,324.7h0M1046,323.8h0M1046.5,320.8h0M1046.9,330.2h0M1047.7,324h0M1047.9,328.5h0M1048.7,321.2h0M1049,325.7h0M1049.5,322.8h0M1049.8,324.7h0M1050.4,336.8h0M1050.8,321.5h0M1051.7,334.6h0M1052.3,326.2h0M1052.6,324.5h0M1052.8,313.8h0M1053.7,327.9h0M1054.2,322.6h0M1054.5,327.8h0M1054.9,321.9h0M1055.3,329.9h0M1055.8,325.3h0M1056.2,319.8h0M1057,317.8h0M1057.6,318.2h0M1058.1,315.8h0M1058.3,311.4h0M1059.1,328.8h0M1059.4,323h0M1059.7,327h0M1060.2,329.2h0M1060.7,336.6h0M1061.2,317.5h0M1061.7,331.6h0M1062.1,325.7h0M1062.6,321.2h0M1063.1,324.2h0M1063.8,326.7h0M1064.4,326.1h0M1064.6,329.3h0M1065.2,328.6h0M1065.7,321.1h0M1066.3,324.7h0M1066.6,325.4h0M1067.4,333.9h0M1067.5,325.3h0M1068.5,316.8h0M1068.6,325.3h0M1069.3,322.7h0M1069.9,333h0M1070.1,321.4h0M1070.5,330.9h0M1071,316.6h0M1071.6,319.9h0M1072.1,319.2h0M1072.7,319.5h0M1073,323.9h0M1073.8,331.5h0M1074.2,329.9h0M1074.8,323.8h0M1074.9,318h0M1075.7,320h0M1076.3,340.1h0M1076.5,337.7h0M1076.9,327.7h0M1077.5,329.1h0M1078,328.6h0M1078.6,320.7h0M1078.8,322.4h0M1079.6,328.8h0M1079.9,322.8h0M1080.4,323h0M1080.9,329.7h0M1081.3,332.5h0M1082.1,328.3h0M1023.6,313.4h0M1024,312.4h0M1025.6,310.3h0M1027,305.5h0M1027.6,308.9h0M1028.3,302.5h0M1045.7,339.5h0M1052.8,359.9h0M1057.2,343.3h0M1060.4,321.1h0M1064.9,320.8h0M1069.3,329.8h0M1080.5,320.4h0M1080.8,321.1h0M1081,317.4h0M1081.5,326.1h0M1081.9,321.4h0M1082.3,327.1h0M1082.5,326.4h0M1083,323.6h0M1083.5,334.7h0M1083.6,326.4h0M1084.1,333.4h0M1084.5,336h0M1085.1,339.9h0M1085.3,339.4h0M1085.5,339.7h0M1086.1,333.2h0M1086.4,339.6h0M1086.8,332.1h0M1087.1,346.7h0M1087.5,345.7h0M1088.1,344.1h0M1088.4,348.8h0M1088.6,353.7h0M1089.2,349.5h0M1089.7,339.3h0M1090.1,351.5h0M1090.4,349h0M1090.6,362.2h0M1090.9,358.1h0M1091.4,355.3h0M1092,357.5h0M1092.2,361.7h0M1092.5,362.3h0M1093.1,353.8h0M1093.5,363h0M1093.6,358.4h0M1094,371.5h0M1094.6,361.9h0M1094.8,366.4h0M1095.4,370h0M1095.7,367.3h0M1096,364.4h0M1096.3,365.6h0M1094.7,366.6h0M1095.3,376.8h0M1095.6,376.8h0M1095.8,370.8h0M1096.2,375.8h0M1096.8,373.1h0M1097.1,382h0M1097.6,372.5h0M1098.2,372.7h0M1098.6,369.6h0M1098.9,374.4h0M1099.3,376.3h0M1099.7,368.4h0M1100,357.8h0M1100.5,364.3h0M1101.2,375.2h0M1101.5,371.9h0M1101.6,361.3h0M1102.4,375.6h0M1102.8,367h0M1103.1,365.4h0M1103.5,376.2h0M1104.1,368.3h0M1104.4,365.6h0M1104.9,368.8h0M1105.1,367.1h0M1105.5,365.1h0M1106.1,366h0M1106.4,366h0M1106.9,369.5h0M1107.2,367h0M1107.8,363.6h0M1108,369.1h0M1108.5,371.4h0M1109,366.1h0M1109.5,366.8h0M1109.8,364h0M1110,366.6h0M1110.7,368.7h0M1108.9,351.7h0M1109.5,365.7h0M1109.9,358.5h0M1110.7,364.2h0M1111.2,353.8h0M1111.4,359.3h0M1111.8,370.8h0M1112.7,365.7h0M1113.1,360.4h0M1113.3,352.4h0M1113.7,361.1h0M1114.5,366.8h0M1115.1,364.7h0M1115.6,357.4h0M1116.1,362.1h0M1116.3,359.2h0M1116.7,359.3h0M1117.3,365.9h0M1117.9,363h0M1118.5,368.1h0M1118.7,362.2h0M1119.1,366.1h0M1119.9,362.5h0M1120.1,367.8h0M1121,361.7h0M1121.1,361.3h0M1122,364.7h0M1122.4,356h0M1122.6,369.1h0M1123.2,366.2h0M1123.8,365.2h0M1124.4,362.2h0M1124.9,359.8h0M1125.2,357.3h0M1125.6,359.9h0M1126.3,358.4h0M1126.9,361.2h0M1127.2,367.9h0M1127.7,358h0M1128.2,360.5h0M1128.8,357.9h0M1128.9,365.5h0M1129.5,357.8h0M1130.3,361.3h0M1130.6,361.1h0M1131,359.4h0M1131.6,366.1h0M1132.2,363.5h0M1132.7,368.5h0M1133.2,366.5h0M1133.4,362.2h0M1134.2,370.7h0M1134.5,356.5h0M1135.2,365.7h0M1135.5,362.6h0M1136.1,365.3h0M1136.4,366.9h0M1136.9,368.7h0M1137.7,367h0M1138,367.1h0M1138.6,357.2h0M1139.1,356.6h0M1139.4,360.6h0M1140,363.6h0M1140.2,363.6h0M1140.7,356.7h0M1141.5,359.4h0M1141.7,359.4h0M1142.5,363.7h0M1143,368.4h0M1143.6,357.7h0M1143.8,366.3h0M1144.5,360.4h0M1144.9,363.3h0M1145.4,363.4h0M1145.7,363.2h0M1146.2,369.3h0M1146.6,365h0M1147.6,365.9h0M1147.8,367.3h0M1148.4,357.3h0M1148.9,362.8h0M1149.1,368.2h0M1149.6,358.2h0M1150,364.2h0M1150.6,361.5h0M1151.3,362h0M1152,368.3h0M1152.4,366.1h0M1152.5,359.3h0M1153.1,367.5h0M1153.8,361.5h0M1154.2,359.2h0M1154.5,361.5h0M1155.1,365.1h0M1155.7,364.3h0M1156.1,362.3h0M1156.6,362.3h0M1157.4,368.9h0M1157.5,358.6h0M1158.4,374.6h0M1158.5,358.5h0M1159.1,360.1h0M1159.7,355.6h0M1160,358.1h0M1160.8,360.8h0M1161.1,364h0M1161.5,361.3h0M1162.1,353.2h0M1162.8,371.4h0M1163.1,365.1h0M1163.4,366.4h0M1164.1,370.7h0M1164.5,357h0M1165.2,362h0M1165.3,360.1h0M1166.1,363.2h0M1166.5,360.9h0M1167,372h0M1167.5,366.8h0M1167.8,367.5h0M1168.6,364.9h0M1168.9,356.8h0M1169.5,362.5h0M1170.1,372.7h0M1170.3,360.3h0M1171,371.6h0M1171.2,357.2h0M1171.8,365.2h0M1172.3,362.1h0M1172.8,370h0M1173.6,358.4h0M1174,364.9h0M1174.4,367h0M1174.9,357.7h0M1175.5,370.1h0M1175.9,356.7h0M1176.4,362.1h0M1177,368.4h0M1177.5,359.2h0M1177.6,365.6h0M1178.1,363.9h0M1178.7,362.6h0M1179.3,363h0M1180,364.8h0M1180.2,362.3h0M1180.6,372h0M1181.3,364.9h0M1181.9,368.4h0M1182.4,356.8h0M1182.6,364.2h0M1183.4,357.5h0M1183.7,362h0M1184,372.5h0M1184.6,364.4h0M1185.1,359h0M1185.5,370.1h0M1186.1,367h0M1186.5,363.3h0M1186.9,362.8h0M1187.5,361.2h0M1188.2,362.4h0M1188.8,363.3h0M1189.1,361.9h0M1189.3,358h0M1189.9,362.3h0M1190.5,361.8h0M1191.2,373.7h0M1191.7,364.8h0M1191.8,359.2h0M1192.4,360.5h0M1193,367.5h0M1193.7,368.6h0M1193.7,365.2h0M1194.3,363.6h0M1195.2,360.1h0M1195.3,364.2h0M1196.1,361.7h0M1196.4,359.4h0M1197.1,360.8h0M1197.6,362.8h0M1197.9,373.4h0M1198.6,361.1h0M1199,368.2h0M1199.3,363.2h0M1200.1,363.3h0M1200.4,364.2h0M1201,359.7h0M1201.5,366h0M1201.8,372.2h0M1202.2,366h0M1202.9,366.4h0M1203.2,364.8h0M1203.9,363.5h0M1204.4,371.3h0M1204.7,366.9h0M1205.2,361.6h0M1205.7,360.6h0M1206.1,369.6h0M1206.6,371.2h0M1207.3,364.6h0M1207.7,370.4h0M1208.1,368.1h0M1208.9,366.7h0M1209,363.7h0M1209.8,373.3h0M1210.4,364.3h0M1210.5,364.4h0M1211.2,371.6h0M1211.9,363.5h0M1212.1,361.8h0M1212.5,371.5h0M1213.1,371h0M1213.4,366.1h0M1214.1,359.2h0M1214.4,365.7h0M1215,360.6h0M1215.4,367.1h0M1216.3,364.3h0M1216.5,370.5h0M1217,364.8h0M1217.7,363h0M1217.9,361.8h0M1218.3,366.8h0M1219.1,369.3h0M1219.5,364.1h0M1219.8,365.4h0M1220.5,368.6h0M1220.9,363.9h0M1221.4,360.1h0M1222.1,372.3h0M1222.6,363h0M1223.1,363.2h0M1223.3,366.2h0M1224.1,367.8h0M1224.3,366.4h0M1224.7,355.4h0M1225.6,366.9h0M1225.7,362.8h0M1226.2,369.2h0M1226.8,362.9h0M1227.1,359.9h0M1227.9,371h0M1228.2,363.2h0M1228.7,362.2h0M1229.2,364.7h0M1229.9,359.2h0M1230.2,360.8h0M1230.9,367.9h0M1231.4,370.6h0M1231.7,365.1h0M1232.1,362.6h0M1232.5,367.5h0M1233.1,370.9h0M1233.7,361.8h0M1234.1,364.9h0M1234.6,367h0M1235.4,370.7h0M1235.5,365.3h0M1236.2,367.3h0M1236.5,373.9h0M1237.2,362.8h0M1237.5,374.1h0M1238,363h0M1238.6,368.5h0M1239.3,365.9h0M1239.7,364.1h0M1240.2,364.6h0M1240.7,367.1h0M1240.9,371.4h0M1241.6,369.3h0M1242,372.9h0M1242.8,362.5h0M1243,366.6h0M1243.5,370.8h0M1244.1,369.9h0M1244.5,369.3h0M1245.2,369.3h0M1245.3,361.5h0M1246.2,359.7h0M1246.3,364.6h0M1247.1,362.9h0M1247.3,366.4h0M1247.9,367.1h0M1248.5,367.1h0M1248.9,363.7h0M1249.2,369.5h0M1249.8,363.3h0M1250.4,369.9h0M1250.8,367.2h0M1251.4,364.5h0M1251.7,365.2h0M1252.3,364.9h0M1253.1,366.4h0M1253.6,365.7h0M1253.9,359.7h0M1254.3,368.1h0M1254.8,362.5h0M1255.2,366.7h0M1255.8,363.2h0M1256.5,371.2h0M1256.9,365.6h0M1257.3,368.4h0M1258,365.5h0M1258.3,374.2h0M1258.6,372.1h0M1259.4,367.5h0M1259.7,360.2h0M1258.3,379h0M1258.8,371.8h0M1259.1,373.9h0M1259.7,379.6h0M1260.2,370.8h0M1260.6,372.5h0M1261.2,373.7h0M1261.6,373.9h0M1262,373.1h0M1262.5,377.1h0M1263.2,373.6h0M1263.8,368.7h0M1264.3,371.4h0M1264.9,371.4h0M1265,374.3h0M1265.8,383.4h0M1266.2,376.9h0M1266.8,369.5h0M1267,374.1h0M1267.5,365h0M1268.1,369.9h0M1268.8,373.4h0M1269.1,382.4h0M1269.8,384.4h0M1270.3,371.8h0M1270.9,370.8h0M1271.1,375.9h0M1271.4,371.8h0M1272,380.1h0M1272.7,365.6h0M1273.4,378.4h0M1273.6,375h0M1274,374.6h0M1274.5,375.4h0M1275.4,375.4h0M1275.7,372.9h0M1276.2,377.9h0M1276.9,373.9h0M1277,374.1h0M1277.5,374.8h0M1278,374.3h0M284.4,292.2h0M403.8,315.9h0M479.4,332.9h0M467.1,332.9h0M941.2,370.3h0M1133.3,344.8h0M1055.7,314.2h0M1080.2,363.5h0M371.1,293.9h0" stroke="#000" stroke-width="6.2" stroke-linecap="round" fill="none"/>
<rect x="170.4" y="428.3" width="1156.2" height="16.3" fill="#fff"/>
<rect x="170.4" y="428.3" width="67.8" height="16.3" fill="#363636" stroke="#333" stroke-width="1.6"/>
<rect x="695.2" y="428.3" width="197" height="16.3" fill="#363636" stroke="#333" stroke-width="1.6"/>
<rect x="986.2" y="428.3" width="172.5" height="16.3" fill="#363636" stroke="#333" stroke-width="1.6"/>
<rect x="1239.2" y="428.3" width="88" height="16.3" fill="#999"/>
<line x1="1239.2" y1="428.3" x2="1239.2" y2="444.6" stroke="#333" stroke-width="1.6"/>
<rect x="569.6" y="427.1" width="51.3" height="17.5" fill="#efefef"/>
<path d="M569.6,428.3 L573.6,428.3 Q577.3,429.3 582.3,436.5 Q577.3,443.6 573.6,444.6 L569.6,444.6 Z" fill="url(#hat)" stroke="#333" stroke-width="1.8"/>
<path d="M620.9,428.3 L612.9,428.3 Q596.3,429.3 582.3,436.5 Q596.3,443.6 612.9,444.6 L620.9,444.6 Z" fill="url(#hat)" stroke="#333" stroke-width="1.8"/>
<circle cx="582.3" cy="436.5" r="5.6" fill="#fff" stroke="#333" stroke-width="1.8"/>
<path d="M170.4,428.3 L569.6,428.3 M620.9,428.3 L1326.6,428.3 M170.4,444.6 L569.6,444.6 M620.9,444.6 L1326.6,444.6" stroke="#333" stroke-width="2.2" fill="none"/>
<path d="M170.4,428.3 A70.514,8.150 0 0 0 170.4,444.6" fill="#fff" stroke="#333" stroke-width="1.8"/>
<line x1="98.3" y1="444.6" x2="1326.6" y2="444.6" stroke="#333" stroke-width="2.2"/>
<line x1="99.3" y1="444.6" x2="99.3" y2="462" stroke="#333" stroke-width="2"/>
<text x="100.3" y="491.6" font-size="31" text-anchor="middle" font-weight="normal" font-style="normal" fill="#1a1a1a" >0</text>
<line x1="303.6" y1="444.6" x2="303.6" y2="462" stroke="#333" stroke-width="2"/>
<text x="304.4" y="491.6" font-size="31" text-anchor="middle" font-weight="normal" font-style="normal" fill="#1a1a1a" >5</text>
<line x1="508" y1="444.6" x2="508" y2="462" stroke="#333" stroke-width="2"/>
<text x="508.8" y="491.6" font-size="31" text-anchor="middle" font-weight="normal" font-style="normal" fill="#1a1a1a" >10</text>
<line x1="712.3" y1="444.6" x2="712.3" y2="462" stroke="#333" stroke-width="2"/>
<text x="713.1" y="491.6" font-size="31" text-anchor="middle" font-weight="normal" font-style="normal" fill="#1a1a1a" >15</text>
<line x1="916.7" y1="444.6" x2="916.7" y2="462" stroke="#333" stroke-width="2"/>
<text x="917.5" y="491.6" font-size="31" text-anchor="middle" font-weight="normal" font-style="normal" fill="#1a1a1a" >20</text>
<line x1="1121" y1="444.6" x2="1121" y2="462" stroke="#333" stroke-width="2"/>
<text x="1121.8" y="491.6" font-size="31" text-anchor="middle" font-weight="normal" font-style="normal" fill="#1a1a1a" >25</text>
<line x1="1325.1" y1="444.6" x2="1325.1" y2="462" stroke="#333" stroke-width="2"/>
<text x="1325.9" y="491.6" font-size="31" text-anchor="middle" font-weight="normal" font-style="normal" fill="#1a1a1a" >30</text>
<text x="714.2" y="537.3" font-size="31.6" text-anchor="middle" font-weight="normal" font-style="normal" fill="#1a1a1a" >Y chromosome coordinate (Mb)</text>
<line x1="99.3" y1="274.2" x2="99.3" y2="412" stroke="#333" stroke-width="2"/>
<line x1="81.5" y1="411" x2="99.3" y2="411" stroke="#333" stroke-width="2"/>
<text x="76.1" y="421.4" font-size="29.5" text-anchor="end" font-weight="normal" font-style="normal" fill="#1a1a1a" >0</text>
<line x1="81.5" y1="343.1" x2="99.3" y2="343.1" stroke="#333" stroke-width="2"/>
<text x="76.1" y="353.5" font-size="29.5" text-anchor="end" font-weight="normal" font-style="normal" fill="#1a1a1a" >2</text>
<line x1="81.5" y1="275.2" x2="99.3" y2="275.2" stroke="#333" stroke-width="2"/>
<text x="76.1" y="285.6" font-size="29.5" text-anchor="end" font-weight="normal" font-style="normal" fill="#1a1a1a" >4</text>
<text transform="translate(38.3,342) rotate(-90)" font-size="31.2" text-anchor="middle" fill="#1a1a1a" >Copy number</text>
<text x="99.6" y="80.5" font-size="29.3" text-anchor="start" font-weight="normal" font-style="normal" fill="#1a1a1a" >TD</text>
<text x="100.1" y="114.7" font-size="29.3" text-anchor="start" font-weight="normal" font-style="normal" fill="#1a1a1a" >D</text>
<text x="100.1" y="148.2" font-size="29.3" text-anchor="start" font-weight="normal" font-style="normal" fill="#1a1a1a" >HH</text>
<text x="99.6" y="182.2" font-size="29.3" text-anchor="start" font-weight="normal" font-style="normal" fill="#1a1a1a" >TT</text>
<text x="1.5" y="57.3" font-size="47.5" text-anchor="start" font-weight="bold" font-style="normal" fill="#000" class="pl">a</text>
<text x="1321" y="30.3" font-size="32.3" text-anchor="end" font-weight="normal" font-style="normal" fill="#1a1a1a" >PD7193a</text>
<text x="1321" y="69.7" font-size="32.3" text-anchor="end" font-weight="normal" font-style="normal" fill="#1a1a1a" >Age: 10 y.o.</text>
<rect x="99.3" y="780.2" width="1227.3" height="201.6" fill="#f2f2f2"/>
<rect x="99.3" y="950.8" width="1227.3" height="28.4" fill="#e6e6e6"/>
<rect x="99.3" y="894" width="1227.3" height="28.4" fill="#e6e6e6"/>
<rect x="99.3" y="837.2" width="1227.3" height="28.4" fill="#e6e6e6"/>
<rect x="99.3" y="780.4" width="1227.3" height="28.4" fill="#e6e6e6"/>
<line x1="98.8" y1="641.2" x2="1326.6" y2="641.2" stroke="#333" stroke-width="2.2"/>
<line x1="98.8" y1="709.5" x2="1326.6" y2="709.5" stroke="#333" stroke-width="2.2"/>
<line x1="98.8" y1="780.2" x2="1326.6" y2="780.2" stroke="#333" stroke-width="2.2"/>
<line x1="441.2" y1="624" x2="441.2" y2="981.8" stroke="#777" stroke-width="1.2" opacity="1"/>
<line x1="648.6" y1="624" x2="648.6" y2="981.8" stroke="#777" stroke-width="1.2" opacity="1"/>
<line x1="657.2" y1="624" x2="657.2" y2="981.8" stroke="#777" stroke-width="1.2" opacity="1"/>
<line x1="711.1" y1="624" x2="711.1" y2="981.8" stroke="#777" stroke-width="1.2" opacity="1"/>
<line x1="949" y1="624" x2="949" y2="981.8" stroke="#7a7a8a" stroke-width="1.2" opacity="1"/>
<line x1="706.8" y1="709.5" x2="706.8" y2="981.8" stroke="#9fc0c4" stroke-width="1.2" opacity="1"/>
<line x1="709.3" y1="709.5" x2="709.3" y2="981.8" stroke="#9fc0c4" stroke-width="1.2" opacity="1"/>
<line x1="819.5" y1="709.5" x2="819.5" y2="981.8" stroke="#a9c9cc" stroke-width="1.2" opacity="1"/>
<line x1="965.1" y1="709.5" x2="965.1" y2="981.8" stroke="#a9c9cc" stroke-width="1.2" opacity="1"/>
<line x1="981.2" y1="709.5" x2="981.2" y2="981.8" stroke="#a9c9cc" stroke-width="1.2" opacity="1"/>
<line x1="784.4" y1="641.2" x2="784.4" y2="981.8" stroke="#5a4a3a" stroke-width="1.4" opacity="1"/>
<line x1="998.2" y1="641.2" x2="998.2" y2="981.8" stroke="#9a96c0" stroke-width="1.6" opacity="1"/>
<line x1="1000.2" y1="641.2" x2="1000.2" y2="981.8" stroke="#77749a" stroke-width="1.6" opacity="1"/>
<line x1="1028.5" y1="624" x2="1028.5" y2="981.8" stroke="#555" stroke-width="2" opacity="1"/>
<path d="M784.4,641.2 A107.3,34 0 0 1 999,641.2" fill="none" stroke="#b87a3c" stroke-width="1.4" opacity="1"/>
<path d="M819.5,709.5 A72.8,34 0 0 0 965.1,709.5" fill="none" stroke="#649a99" stroke-width="1.4" opacity="1"/>
<path d="M981.2,709.5 A8.9,34 0 0 0 999,709.5" fill="none" stroke="#649a99" stroke-width="1.4" opacity="1"/>
<path d="M706.8,709.5 A1.2,34 0 0 0 709.3,709.5" fill="none" stroke="#649a99" stroke-width="1.4" opacity="1"/>
<path d="M998.2,641.2 A1,34 0 0 0 1000.2,641.2" fill="none" stroke="#484c84" stroke-width="1.4" opacity="1"/>
<path d="M207.2,902h0M207.2,903.8h0M207.9,903.9h0M208.1,909.7h0M208.6,907.8h0M208.9,906.9h0M209.4,908.7h0M210,899.1h0M210.4,907.8h0M210.5,904.6h0M210.8,898.7h0M211.3,902.6h0M211.8,899.3h0M212.2,906.6h0M212.5,899.6h0M212.9,902.8h0M213.4,897h0M213.7,903.4h0M214.4,901.4h0M214.8,910h0M215.1,902.4h0M215.6,907.2h0M216,899.6h0M216.3,897.3h0M216.6,908.2h0M217.2,904.3h0M217.4,901.4h0M218,906.8h0M218.4,908.7h0M218.8,902h0M219.1,906.4h0M219.3,903.1h0M219.9,898.7h0M220.1,895.3h0M220.8,907.3h0M221.1,893.4h0M221.4,909.5h0M221.9,904.1h0M222.1,902h0M222.8,898.4h0M223.1,896.3h0M223.5,899.8h0M224,900.8h0M224.1,896.8h0M224.7,903.8h0M225.2,900.4h0M225.3,911.6h0M225.7,904.5h0M226.1,900.1h0M226.7,906.4h0M226.8,905.1h0M227.5,901.4h0M227.7,902.4h0M228.3,903.6h0M228.4,903.7h0M228.9,895.6h0M229.3,904.9h0M229.7,907.3h0M230.4,902.7h0M230.6,902.4h0M231.1,903.5h0M231.4,905.5h0M231.7,910.3h0M232.3,901.1h0M232.8,903.1h0M233.1,911.9h0M233.4,902.4h0M233.8,897.2h0M234.1,911.6h0M234.5,900.6h0M235.1,907.4h0M235.3,900.2h0M236,903.7h0M236.2,897.6h0M236.5,905.6h0M236.9,904.2h0M237.3,902.4h0M237.9,901.7h0M238.3,893.5h0M238.9,904.4h0M239,906.4h0M239.5,902.3h0M239.9,901.3h0M240.2,909.7h0M240.6,903.8h0M240.9,903.4h0M241.4,898.1h0M241.8,899h0M242.1,902.1h0M242.6,900.6h0M243.1,906.9h0M243.5,902.6h0M243.8,894.3h0M244.4,909.4h0M244.6,909h0M244.9,903.8h0M245.4,906h0M245.7,903.8h0M246.4,906.8h0M246.8,899.5h0M247.1,906.4h0M247.4,891.5h0M247.7,904.1h0M248.2,905.2h0M248.8,903.7h0M249.1,904h0M249.5,906.3h0M249.9,903.1h0M250.1,904.3h0M250.9,899.4h0M250.9,903.3h0M251.5,906.2h0M251.8,910.3h0M252.3,901.7h0M252.5,902.1h0M253.2,902.2h0M253.6,897h0M253.7,905h0M254.4,902.2h0M254.7,910.1h0M255,910.7h0M255.4,901.3h0M255.9,913.9h0M256.4,901.9h0M256.9,901.5h0M257,906.4h0M257.5,903.6h0M258,898.9h0M258.5,910.1h0M258.5,907.4h0M259.1,901h0M259.5,903.4h0M259.7,895.6h0M260.5,898.7h0M260.8,900.9h0M261,900.8h0M261.6,905.3h0M261.9,907.5h0M262.2,913.5h0M262.8,906h0M263,910.1h0M263.4,904.1h0M264.1,909.8h0M264.3,901.8h0M264.9,902.2h0M265,908.8h0M265.5,897.7h0M266.1,902.3h0M266.2,908.3h0M266.7,903.7h0M267.2,897.2h0M267.5,906h0M268.1,906.8h0M268.4,897.2h0M268.8,901.6h0M269.2,905.8h0M269.5,909.2h0M270,913.5h0M270.1,909.9h0M270.9,901.9h0M271.2,903.1h0M271.7,904.1h0M272,910.6h0M272.5,909.1h0M272.6,900.5h0M273,910h0M273.6,905.8h0M274.1,904.8h0M274.2,906.8h0M274.6,906.3h0M275.2,906.2h0M275.7,902.8h0M275.8,898.5h0M276.5,903.3h0M276.8,903.2h0M277.2,908.3h0M277.5,903.9h0M277.8,898.4h0M278.2,903.3h0M278.9,906h0M279.3,908.6h0M279.7,899.8h0M280.1,901.7h0M280.3,901.5h0M280.7,903.5h0M281.2,902.8h0M281.7,906.9h0M281.9,899.4h0M282.3,900.9h0M282.8,906h0M283.2,912.5h0M283.4,905.6h0M284.1,905.4h0M284.5,897.6h0M284.8,909.8h0M285,898.3h0M285.6,907.4h0M286.1,900.1h0M286.5,905.9h0M286.7,906h0M287.2,903h0M287.8,900h0M287.8,901.6h0M288.3,907.2h0M288.7,899.2h0M289,901.2h0M289.6,905.7h0M290.1,894.6h0M290.4,909.6h0M290.7,910.9h0M291,903.2h0M291.7,900.6h0M291.9,908.1h0M292.3,897.4h0M292.9,906.3h0M293.3,906.6h0M293.5,896.3h0M294,910.1h0M294.5,896.7h0M294.9,905.6h0M295.3,896.8h0M295.8,906.2h0M295.9,907.9h0M296.3,907.8h0M296.8,898.5h0M297.1,893.8h0M297.6,901.2h0M298.2,905.1h0M298.2,899.5h0M298.7,902.7h0M299.4,898h0M299.6,908.2h0M300,902.7h0M300.4,895.3h0M300.7,904.9h0M301.1,905.2h0M301.8,901.4h0M301.9,902h0M302.3,906.2h0M302.7,901.8h0M303.1,903h0M303.5,897.5h0M304,903.2h0M304.3,904.9h0M305,910.1h0M305.1,900.2h0M305.6,901.2h0M306.1,906.6h0M306.5,914.9h0M306.8,894.3h0M307.2,906.1h0M307.8,905.9h0M308.1,907.9h0M308.6,906.2h0M309,900.8h0M309.2,907.3h0M309.6,901.4h0M310.2,902.8h0M310.3,897.4h0M311,905.8h0M311.1,906h0M311.4,896.2h0M311.9,904.9h0M312.3,901.3h0M312.9,893.9h0M313.3,897.2h0M313.5,900.8h0M314,905.3h0M314.5,900.1h0M314.7,899.5h0M315.1,896.5h0M315.6,907.2h0M316.1,901.7h0M316.4,905h0M316.7,901.9h0M317.1,902h0M317.5,902.5h0M318.1,899.3h0M318.6,897.8h0M318.8,907.2h0M319.4,902.3h0M319.8,901.7h0M320.1,902.3h0M320.4,899.4h0M320.8,907.2h0M321.4,901.5h0M321.8,907.8h0M322,905.2h0M322.6,900.3h0M322.9,903.6h0M323.3,904h0M323.7,904.3h0M323.9,901.5h0M324.5,898.1h0M324.9,903.7h0M325.3,910h0M325.5,902.3h0M326.2,911.2h0M326.5,900.6h0M326.7,902.7h0M327.3,906h0M327.8,904.1h0M328.3,899.5h0M328.4,906.2h0M328.8,900.4h0M329.2,909.3h0M329.8,907.4h0M330,905.2h0M330.6,909.4h0M330.7,901.6h0M331.4,904.7h0M331.6,894.1h0M332,907.5h0M332.5,904.4h0M333,901.2h0M333.4,896.4h0M333.8,907.8h0M334,901.9h0M334.5,903.5h0M334.9,900.6h0M335.2,908.8h0M335.6,902.3h0M336,910h0M336.4,908.6h0M336.9,908.2h0M337.4,910.8h0M337.6,901.2h0M338,895.5h0M338.3,901.4h0M338.8,905.4h0M339.2,903.6h0M339.6,896.5h0M340.1,910.4h0M340.3,899.5h0M340.9,901.7h0M341.3,901.6h0M341.6,898.2h0M342.3,901.1h0M342.6,911h0M343.1,903.2h0M343.2,906.7h0M343.9,892.9h0M344,905.9h0M344.5,911.7h0M345,906.5h0M345.2,903.8h0M345.5,904.5h0M346.2,905.4h0M346.5,913.8h0M346.9,899h0M347.3,905.5h0M347.6,901.3h0M348.1,902.6h0M348.7,905.1h0M349,897.1h0M349.3,901.2h0M349.7,899.3h0M350.1,900.4h0M350.6,909.2h0M351,906.6h0M351.2,898.6h0M351.6,902.6h0M352,905.7h0M352.6,898.6h0M353,901.5h0M353.3,904.1h0M353.6,905.6h0M354,907.4h0M354.5,905.9h0M355.1,907.5h0M355.3,908.5h0M355.8,895.2h0M356,902.5h0M356.7,907.3h0M357,900.3h0M357.3,911.9h0M357.9,899.5h0M358.3,902.8h0M358.3,910.9h0M359,917.6h0M359.5,898.7h0M359.8,900.9h0M360.1,910h0M360.4,899.7h0M360.8,912.6h0M361.5,909.5h0M361.8,905.9h0M362,894.5h0M362.4,901.2h0M362.9,912.2h0M363.5,899h0M363.6,899.7h0M364,903.2h0M364.5,902.9h0M365,904.6h0M365.2,897.3h0M365.8,907.6h0M366.3,904.1h0M366.4,907.6h0M366.9,901.3h0M367.5,908h0M367.7,905.6h0M368.1,896.1h0M368.6,905.7h0M368.8,905.2h0M369.3,904.6h0M369.6,906.6h0M370.2,914.6h0M370.6,903.4h0M371,898.8h0M371.3,903.7h0M371.9,900.4h0M372.3,900.8h0M372.4,908.7h0M372.9,897.2h0M373.4,913h0M373.8,904.6h0M374.3,906.3h0M374.5,900.7h0M375,907.3h0M375.4,908h0M376,904.4h0M376.3,907.8h0M376.7,900.9h0M377.1,909.5h0M377.2,912.2h0M377.8,906.7h0M378.4,906.7h0M378.8,907.9h0M379.1,899.6h0M379.5,908.3h0M379.7,897.6h0M380,906.5h0M380.6,908.7h0M381,895.7h0M381.4,904h0M382,907.3h0M382.3,905.2h0M382.7,898.3h0M383.1,907.2h0M383.4,898.8h0M383.6,902.2h0M384.4,907.1h0M384.7,899h0M384.9,901.5h0M385.2,906.6h0M385.8,911.2h0M386.2,897.9h0M386.4,902.3h0M387,903.2h0M387.5,899.8h0M387.8,902.2h0M388.4,894.8h0M388.7,905h0M389,902.4h0M389.3,897.6h0M389.7,900.7h0M390.3,908.2h0M390.6,904.3h0M391,898.4h0M391.3,896.6h0M391.7,913.3h0M392.1,900.8h0M392.5,909.7h0M393.1,902.7h0M393.5,894.9h0M393.8,901.1h0M394.2,899.7h0M394.6,902.2h0M395.1,900.8h0M395.6,900.1h0M395.9,908.3h0M396.1,901.7h0M396.4,896.9h0M396.9,902.9h0M397.3,906.1h0M397.8,903.1h0M398.4,903.9h0M398.6,907.7h0M398.9,905.5h0M399.6,899.9h0M400,896.5h0M400.2,901.9h0M400.5,903.8h0M401,896.5h0M401.4,899.9h0M402,903.6h0M402.4,902.4h0M402.5,905.3h0M403.1,902.3h0M403.4,903h0M403.8,902.2h0M404.4,901.6h0M404.7,900.8h0M405.1,901.3h0M405.6,909.1h0M405.7,902.5h0M406.1,903.9h0M406.5,902.6h0M407.2,908.4h0M407.6,897.8h0M407.8,905.1h0M408.4,903.7h0M408.7,906.2h0M408.9,897.3h0M409.5,902.7h0M410,903.3h0M410.4,905.7h0M410.8,905.5h0M411,907.7h0M411.3,911.1h0M411.7,911.1h0M412.4,900.2h0M412.8,905.8h0M412.9,905.1h0M413.6,898.1h0M413.9,895.1h0M414.3,898.1h0M414.8,902.9h0M414.9,899.6h0M415.3,907.4h0M415.9,901.7h0M416.4,908.3h0M416.7,895h0M417,899.1h0M417.5,893.6h0M417.7,905h0M418.2,907.2h0M418.8,902.8h0M419.1,900.1h0M419.6,896.5h0M420,899.2h0M420.1,906.5h0M420.8,908.4h0M421.1,905.3h0M421.4,898.7h0M421.9,905.1h0M422.2,902.2h0M422.6,907.7h0M423.2,900h0M423.4,907h0M423.8,904.7h0M424.1,893.8h0M424.8,905.8h0M425,902.2h0M425.4,901.7h0M425.9,898.9h0M426.4,903.2h0M426.8,903.3h0M427.2,903.1h0M427.4,904.3h0M427.8,901.1h0M428.2,903.5h0M428.7,900.3h0M429.2,905h0M429.5,899.3h0M430,902.1h0M430.2,915.7h0M430.8,904.9h0M431.1,898h0M431.5,904.1h0M431.7,901.9h0M432.5,899.8h0M432.5,906.5h0M433.2,908.2h0M433.6,903.4h0M433.8,901.8h0M434.4,895.7h0M434.9,913.8h0M435.3,898.7h0M435.5,901.4h0M435.7,905h0M436.4,900.1h0M436.8,899.4h0M437.2,902h0M437.3,896h0M437.9,899.1h0M438.2,906.6h0M214.2,900.1h0M218.3,910.7h0M223.1,910.1h0M225.7,904.2h0M229.2,899.2h0M232.7,892.8h0M240,910.9h0M242,889.1h0M249.9,896.1h0M252.3,892.4h0M259.9,903.1h0M261,904.6h0M264.9,911.2h0M271.3,884.1h0M277,896.6h0M279.9,899.8h0M285,897.2h0M290.8,891.4h0M292.8,900.3h0M299.8,903.9h0M302.2,896.4h0M309.8,905.4h0M315,899.5h0M316.8,899h0M324.2,905.2h0M326.5,908h0M333.2,890.1h0M336.2,903.7h0M338.6,893.5h0M346,898h0M351.2,896.4h0M352,913h0M356.6,898.3h0M363.7,896.9h0M369.9,895.6h0M373.3,900.3h0M377.9,902.3h0M380.5,904.4h0M388,889h0M391.1,904.7h0M393.3,899.1h0M398.8,893.1h0M403.3,903.5h0M407.7,907.6h0M415.6,880.5h0M418.8,898.2h0M423.6,900.4h0M429.3,887.6h0M430.8,889.8h0M349.2,909.4h0M351.4,920.4h0M354.3,916.5h0M357,907.7h0M360.3,911.4h0M363,919.3h0M366.4,907.2h0M369,912h0M414.9,889.8h0M415.5,883.5h0M415.9,878.7h0M416.6,871.8h0M416.8,868.5h0M417.4,848.5h0M417.8,842.6h0M418.1,842.2h0M418.7,833.7h0M418.5,861.2h0M418.8,857.8h0M419.5,867.9h0M420,873h0M420.7,871.3h0M421.5,869.8h0M422.1,877.4h0M422.9,881.9h0M423,877.5h0M424.1,884.3h0M424.8,892.7h0M425.3,902.1h0M432.4,894.1h0M433.3,889.4h0M434,900.3h0M434.7,896.7h0M435.3,873.9h0M436,863.4h0M436.6,864.4h0M437,866.5h0M437.6,869.9h0M438.4,852.2h0M439,864.9h0M439.2,849.1h0M427.2,910.6h0M427.8,911.3h0M429.9,905.5h0M431.2,912.8h0M432.5,904.3h0M434.2,925.5h0M434.9,902.2h0M436.2,908.1h0M438.2,911.5h0M440.7,934.9h0M441.3,931h0M442,937.9h0M442.2,937.5h0M442.7,937.4h0M443.3,933h0M443.7,928.8h0M444.2,935h0M444.9,935.6h0M445.2,937.5h0M445.8,932h0M446.3,930.5h0M446.6,937.1h0M447.2,933.2h0M447.7,934.4h0M448.1,934.8h0M448.5,933h0M449.2,928.1h0M449.7,938.8h0M450.2,933.1h0M450.6,935.1h0M451.2,933.7h0M451.6,935.8h0M451.9,937.5h0M452.6,932.1h0M452.8,934.3h0M453.3,934.5h0M454.1,932.1h0M454.6,934.8h0M454.8,936.1h0M455.2,933.7h0M455.9,938.5h0M456.2,935.4h0M456.8,932h0M457.2,933.7h0M458,932.1h0M458.3,934.4h0M458.8,940.2h0M459.5,933.4h0M459.6,936.4h0M460.3,932h0M460.8,933.3h0M461.2,934.8h0M461.9,933h0M462.3,932.4h0M462.5,935h0M463,934.1h0M463.6,933h0M464.2,937.2h0M464.7,939.3h0M465.2,929.5h0M465.7,932h0M466.2,933h0M466.8,934h0M467.2,934.6h0M467.4,935.1h0M467.8,934.7h0M468.7,937.2h0M469.1,933.5h0M469.6,935.7h0M470,932.6h0M470.4,934.1h0M470.9,929.1h0M471.6,935h0M472.1,936.3h0M472.4,928.8h0M473,933.6h0M473.5,931.5h0M473.9,935h0M474.4,932.3h0M475,935.3h0M475.6,933.8h0M475.7,933.3h0M476.4,932.4h0M476.6,927.7h0M477.5,937.3h0M477.7,929.2h0M478.1,934.7h0M479,935.7h0M479.4,933.9h0M479.8,930.8h0M480.4,934h0M480.7,930.5h0M481.2,936.3h0M481.6,934.7h0M482.1,930.7h0M482.5,933.9h0M483.1,933.4h0M483.4,937.6h0M484.1,938.5h0M484.5,932.3h0M485.3,933.6h0M485.6,934.2h0M486.1,937.4h0M486.4,937.7h0M487.2,928.9h0M487.4,933.5h0M487.8,931.1h0M488.6,940h0M489.1,935.3h0M489.5,932.6h0M490.1,934h0M490.3,931.3h0M490.8,933.6h0M491.2,934h0M491.7,933h0M492.5,937h0M493,931.2h0M493.1,936h0M493.6,934.9h0M494.2,933.1h0M494.7,927.2h0M495.4,934.4h0M495.7,934.6h0M496.3,933.3h0M496.6,938.4h0M497.2,934.7h0M497.8,931.5h0M498.2,939h0M498.6,931.4h0M499.1,935.7h0M499.8,929h0M500.1,939.3h0M500.5,933.8h0M501,931.6h0M501.8,934.3h0M501.9,934.4h0M502.4,931.5h0M503.2,934.2h0M503.4,931.7h0M503.9,928h0M504.5,936h0M505.2,934.2h0M505.7,933.5h0M506,931.6h0M506.5,936.7h0M506.9,937h0M507.7,934.4h0M507.9,933.6h0M508.5,931.6h0M509,929h0M509.4,934.1h0M509.8,932.4h0M510.5,935.3h0M510.6,937.3h0M511.5,935.1h0M511.9,937.4h0M482.6,914.9h0M483.4,923.8h0M484.9,919.1h0M486.6,929.6h0M487.3,924.7h0M489,923.6h0M489.6,929.9h0M492.2,922.5h0M493,917.7h0M493.7,923h0M495.8,923.1h0M497.2,914.9h0M506.5,918.9h0M507.1,921.5h0M507.8,919h0M508.4,919.7h0M509.3,906.9h0M509.5,911.4h0M510.3,911.9h0M511.1,911.1h0M511.6,903.8h0M512.3,903.5h0M634.3,906.8h0M634.8,907.2h0M635.5,913h0M635.9,921.2h0M636.4,923.1h0M637.4,926.9h0M637.7,928.6h0M638.3,934.2h0M636.8,937.9h0M637.3,940.7h0M637.7,935.2h0M637.9,937.5h0M638.2,937.2h0M638.6,939.5h0M639,936.8h0M639.2,936.5h0M639.7,944.4h0M640.2,944.6h0M640.3,937h0M640.6,938.3h0M641.1,939.3h0M641.2,940.8h0M641.7,940.3h0M642.2,937.9h0M642.5,935.8h0M642.8,936.7h0M643.2,941.3h0M643.5,943.4h0M643.8,936.4h0M644.2,940.7h0M644.5,938h0M644.8,941.6h0M645.3,941.3h0M645.7,936.2h0M645.9,935.1h0M646.1,934.1h0M646.5,935.7h0M646.9,937.4h0M647.4,937h0M647.7,936.1h0M646.1,933.6h0M646.8,920.6h0M646.9,918h0M647.3,913.2h0M647.8,906.8h0M648,904.3h0M648.3,902.6h0M648.8,903.8h0M649.1,881.6h0M649.4,883.7h0M649.8,875.4h0M650.2,874.3h0M650.5,876h0M650.9,865.4h0M649.3,849.6h0M649.7,862.9h0M650.3,878.2h0M651,861.1h0M651.2,872.6h0M651.9,851h0M652.4,851.8h0M653.1,881.5h0M653.6,849.3h0M654.3,844.4h0M654.5,863h0M655.1,847.4h0M655.8,856h0M656.4,826.3h0M656.7,845.1h0M657.5,843.9h0M657.8,841.6h0M658.6,839.7h0M658.8,833h0M661.7,834.8h0M662.3,833.5h0M662.9,832.7h0M663.6,827h0M665,826.5h0M665,826.2h0M665.8,828h0M666.5,826h0M667.6,822.4h0M668.3,819.2h0M669.1,815.6h0M669.8,875h0M670.2,866.9h0M670.6,870.3h0M670.9,863.4h0M671.2,871.5h0M671.9,877.7h0M672.1,869.7h0M672.7,872.7h0M673.1,878.8h0M673.6,879.5h0M673.9,871.1h0M674.3,869.9h0M674.8,873.3h0M675.1,872.1h0M675.7,870h0M676,874.7h0M676.6,870.9h0M677,871h0M677.3,871.6h0M677.7,876.7h0M678.1,875.9h0M678.7,873.5h0M679.1,872.4h0M679.3,880.8h0M679.9,869.2h0M680.2,878.3h0M680.7,869.5h0M681.2,883.5h0M681.7,872.7h0M681.8,875h0M682.4,876.6h0M683,875.5h0M683.3,877.2h0M683.8,889.5h0M684.2,879.8h0M684.7,880.6h0M685.1,878.5h0M685.3,866.2h0M685.9,872.2h0M686.4,877.4h0M686.7,875.9h0M686.9,878.6h0M687.4,884.9h0M688,882h0M688.4,880.2h0M688.9,871.2h0M689.4,880.1h0M689.6,868.9h0M690,870.4h0M690.6,873.7h0M691,884.3h0M691.4,872.6h0M691.9,887.9h0M692.2,880.1h0M692.6,875h0M693.2,880h0M693.4,871.7h0M694,870h0M694.3,878.3h0M694.8,857h0M695.3,881.5h0M695.5,872.2h0M695.9,871.5h0M696.4,882.6h0M696.9,877.4h0M697.4,876.3h0M698,877.9h0M698,881.1h0M698.6,882.8h0M699.2,879.6h0M699.4,864.3h0M699.9,866.8h0M700.5,884.7h0M700.8,882.6h0M701.3,884.4h0M701.7,885.5h0M702.2,878.7h0M702.3,873.7h0M702.9,883.3h0M703.3,878.4h0M703.9,876.1h0M704.2,875.1h0M704.7,875.1h0M704.9,866.7h0M705.6,888.1h0M705.9,871.1h0M706.4,872.5h0M706.9,864.8h0M707,878.3h0M707.7,877.1h0M708.1,867.7h0M708.4,880.4h0M708.9,873.2h0M709.3,874.6h0M709.8,875.8h0M709.9,874.7h0M710.5,883.7h0M711.1,867.1h0M711.6,875.3h0M711.9,883.9h0M712.1,875.2h0M712.7,882.6h0M713.1,885.4h0M713.7,872.2h0M713.8,871.3h0M714.2,880.7h0M714.9,871.3h0M715.2,879.5h0M715.6,873.2h0M716.1,869.3h0M716.6,877.5h0M717.1,878.5h0M717.3,878.4h0M717.8,873.6h0M718.3,873.5h0M718.6,885.3h0M719.1,879.6h0M719.3,879.1h0M720,870.6h0M720.5,879.2h0M720.6,880.2h0M721.3,878.3h0M721.6,876.2h0M722,879.1h0M722.4,880.4h0M723.1,872.8h0M723.3,878.2h0M723.8,876.6h0M724.3,879.5h0M724.6,888.5h0M725,865.2h0M725.7,886.4h0M725.7,877h0M726.2,878.4h0M726.9,870.5h0M727.1,880.7h0M727.6,877.1h0M727.9,871.6h0M728.6,872.4h0M729,877h0M729.4,876.2h0M729.7,879.6h0M730.3,879.3h0M730.4,887.5h0M730.9,879.4h0M731.6,871.5h0M732,871.7h0M732.4,882.4h0M732.9,873.8h0M733.3,868.2h0M733.4,880.4h0M734.1,873.8h0M734.4,872.2h0M734.9,871.6h0M735.3,865.8h0M735.6,873.8h0M735.9,881.2h0M736.6,881.2h0M736.8,867h0M737.4,874.4h0M737.6,877.6h0M738.2,876.4h0M738.8,874.7h0M739.2,870.1h0M739.4,876.9h0M740,876.8h0M740.3,891.3h0M740.9,868.4h0M741.1,873.9h0M741.6,880.7h0M742,868.3h0M742.5,861.5h0M742.8,874.7h0M743.3,877.9h0M743.6,860.4h0M744.2,872.2h0M744.7,872.4h0M744.9,871.4h0M745.6,862.8h0M746.1,874.9h0M746.2,876.3h0M746.6,872.3h0M747.2,886.6h0M747.6,877.3h0M747.9,878.4h0M748.3,874.2h0M748.8,874.4h0M749.5,877.5h0M749.9,868.3h0M750.1,875.8h0M750.7,871.6h0M751.2,870.3h0M751.5,875.2h0M752,878.9h0M752.2,879.1h0M752.9,869.3h0M753,877.3h0M753.5,866.4h0M754,868.6h0M754.6,860.6h0M754.8,864.3h0M755.2,875.9h0M755.5,877.1h0M756,883h0M756.4,878.4h0M757.1,863.3h0M757.5,876.9h0M758,879.6h0M758.3,868.9h0M758.8,878.8h0M759.3,867.1h0M759.7,876.5h0M759.9,877.2h0M760.3,871.7h0M761,877.4h0M761.1,871.9h0M761.8,870.4h0M762,877.9h0M762.6,872.3h0M762.9,880h0M763.3,883.3h0M764,877.3h0M764.2,868.3h0M764.6,877.3h0M765.2,875.1h0M765.7,868.8h0M766.1,871.3h0M766.4,880.6h0M766.9,875.1h0M767.3,861.6h0M767.6,886.2h0M767.9,883.1h0M768.4,874.3h0M769,876.7h0M769.3,875.5h0M769.7,873.8h0M770.1,881.2h0M770.7,883.6h0M770.9,887.7h0M771.4,877.4h0M772,874.7h0M772.3,871h0M772.9,879h0M773.2,876.4h0M773.4,876.3h0M774,882.4h0M774.5,879.4h0M774.9,870.6h0M775.4,870.6h0M775.9,862.6h0M776,871.9h0M776.7,877.8h0M776.9,868.6h0M777.5,883.8h0M777.9,875.3h0M778.2,883.2h0M778.8,870h0M779.3,879.4h0M779.5,883.3h0M779.9,872.9h0M780.5,874.5h0M780.8,879.1h0M781.4,877h0M781.8,875.7h0M782,887h0M782.7,873.2h0M783.1,871.5h0M783.2,875.1h0M784,874.8h0M784.3,872.4h0M784.8,876.9h0M785.3,882h0M785.6,865.6h0M785.7,873.2h0M786.6,882.2h0M786.7,879.2h0M787.4,880.1h0M787.5,870.1h0M788.2,871.5h0M788.6,881.8h0M789,885.1h0M789.2,879h0M789.7,872.6h0M706.8,862.7h0M707.2,854.9h0M707.5,856.5h0M708.4,842.3h0M708.8,845.7h0M709.4,838.4h0M709.8,838.1h0M710.9,828.9h0M711,834.5h0M763.4,851.7h0M764.1,847.6h0M765.2,855h0M765.5,848.2h0M766.4,859.8h0M766.7,870.5h0M767.5,860.2h0M768.1,839.7h0M768.8,864.4h0M769.7,853h0M770.3,851.3h0M771,877.4h0M771,861.3h0M772.1,857h0M772.3,858.9h0M773,865.3h0M773.7,855.4h0M774.2,863.8h0M775.2,860.5h0M775.7,849.5h0M776.5,865.5h0M776.7,859.6h0M777.8,858.8h0M778.3,853.6h0M779.1,864.1h0M779.4,854.1h0M780.1,850.4h0M780.8,864.6h0M781.2,864h0M782.2,851.8h0M782.9,856.9h0M783.5,864.1h0M783.7,863.1h0M784.3,851h0M785.1,855.1h0M786.1,860h0M786.3,858.8h0M786.8,848.7h0M787.5,858h0M755.9,908.8h0M756.4,905h0M757.5,916.8h0M758.3,909.1h0M759.2,909h0M759.9,911.8h0M760.6,917.2h0M788.1,903h0M788.7,898h0M788.9,889.5h0M789.3,892.5h0M790,903.6h0M790.3,903.6h0M790.7,897.9h0M791.3,898.4h0M791.6,897.4h0M791.9,898.6h0M792.3,899.2h0M793,893.1h0M793.3,902h0M793.7,899.5h0M793.9,900.1h0M794.4,902.8h0M795.1,888.1h0M795.4,896.9h0M796,901h0M796.3,898.5h0M796.6,899.2h0M797.2,899h0M797.7,903.2h0M798,900.8h0M798.3,889h0M798.8,901.6h0M799.4,899.3h0M799.7,888.7h0M799.9,902.8h0M800.6,903.8h0M800.8,906.6h0M801.4,890.9h0M801.8,901.6h0M802.1,902.8h0M802.6,904.2h0M803.1,896.7h0M803.3,903.2h0M804,892.8h0M804.4,894.8h0M804.6,899.4h0M805.1,902.1h0M805.6,887.5h0M806,898h0M806.6,899.4h0M806.8,904.5h0M807.2,901.4h0M807.6,898h0M808.2,911.1h0M808.6,908.8h0M808.9,898.5h0M809.4,904.1h0M810.1,908h0M810.3,898.1h0M810.9,903.9h0M811,909.7h0M811.7,902h0M811.8,904.6h0M812.5,906.5h0M813.1,905.4h0M813.2,905.6h0M813.7,900.8h0M814,908.2h0M814.7,906.7h0M815,919.2h0M815.5,903.3h0M815.6,907.8h0M816.4,912.9h0M816.8,913h0M817,907.5h0M817.6,897.1h0M818.1,905.9h0M818.3,907.1h0M818.6,868.8h0M819.3,862.9h0M819.5,877.3h0M820.1,869.4h0M820.4,872.4h0M820.6,868.2h0M820.9,863.8h0M821.3,870h0M821.7,864.3h0M822.2,861.8h0M822.6,870.5h0M823,874.2h0M823.4,862.3h0M823.6,870.6h0M824,872.8h0M824.4,882h0M825,863.2h0M825.1,872.4h0M825.8,870h0M826,847.7h0M826.4,872.1h0M826.7,868.6h0M827,872.9h0M827.5,869.1h0M827.9,857.8h0M828.3,875.6h0M828.8,879.7h0M829.1,861.6h0M829.5,861.9h0M829.9,876.8h0M830,861.8h0M830.5,872.6h0M830.8,873h0M831.2,861h0M831.5,871.5h0M832.2,865.6h0M832.3,871.4h0M833,880.9h0M833.3,870.5h0M833.7,878.8h0M834.1,887.5h0M834.3,869.7h0M834.7,871.6h0M835.1,859.4h0M835.4,876.3h0M836,867.7h0M836.1,861.4h0M836.6,865.2h0M836.8,872.4h0M837.2,867.6h0M837.8,864.1h0M838.1,868.3h0M838.6,867.1h0M838.9,877.2h0M839.4,880.8h0M839.6,871.8h0M839.9,864.4h0M840.4,871.1h0M840.8,875.5h0M841,868.5h0M841.5,860.9h0M841.9,864.5h0M842.1,873.5h0M842.6,862.7h0M843.2,869.4h0M843.2,865.9h0M843.6,870.1h0M844.1,867.8h0M844.7,869.1h0M844.9,857.4h0M845.2,869.7h0M845.6,867.9h0M845.9,862.6h0M846.4,863.1h0M846.7,865.1h0M847.4,863.6h0M847.7,868.9h0M847.9,866.8h0M848.5,867.1h0M848.7,846.7h0M849,863.1h0M849.5,865.6h0M849.8,876.7h0M850.2,860.6h0M850.4,856.3h0M850.8,860.6h0M851.3,875.5h0M851.7,886.1h0M852.2,877.6h0M852.5,876.6h0M852.8,877.7h0M853.1,870.6h0M853.7,874.7h0M854,866.2h0M854.3,881.7h0M854.7,852.5h0M855.1,862.1h0M855.6,867.8h0M855.9,874.3h0M856.3,882.3h0M856.8,864.7h0M857.1,871.5h0M857.2,877.8h0M857.9,879.5h0M858.3,878.8h0M858.4,873.1h0M858.8,864.6h0M859.4,865.8h0M859.5,866.9h0M860.2,873.2h0M860.6,858.7h0M860.9,865.2h0M861.2,859.4h0M861.6,866.4h0M862,862.8h0M862.1,860.1h0M862.6,871.7h0M863,860.5h0M863.4,864.5h0M863.7,868.8h0M864.3,873.4h0M864.7,854.7h0M865,872.1h0M865.4,872.6h0M865.9,872.2h0M866.3,872.2h0M866.3,866.9h0M866.8,884.8h0M867.3,861.8h0M867.8,862.8h0M867.8,865.7h0M868.2,863.4h0M868.6,857.9h0M869.1,869.8h0M869.6,877.7h0M869.8,883.3h0M870.3,862.1h0M870.8,870.5h0M871,874h0M871.3,865.1h0M871.7,870.8h0M872.2,880.4h0M872.4,875.9h0M873,872.3h0M873.2,859h0M873.6,863.7h0M874.2,865.3h0M874.5,869h0M874.8,874h0M875.3,863.5h0M875.4,852h0M875.9,872.5h0M876.5,863.4h0M876.7,877h0M877.2,877.9h0M877.4,872.6h0M877.8,866.8h0M878.3,866.4h0M878.6,865.9h0M879.1,853.7h0M879.4,871.9h0M879.8,869.8h0M880,879.4h0M880.5,869.4h0M881,863.1h0M881.2,873.7h0M881.5,869.5h0M882.1,865.9h0M882.3,863.1h0M882.7,864.8h0M883.1,871.2h0M883.4,870.8h0M883.9,875h0M884.2,866.9h0M884.7,859.8h0M885.1,867.1h0M885.4,868h0M885.9,873.3h0M886.3,869.3h0M886.4,877.7h0M887,867.8h0M887.4,870.2h0M887.8,859.9h0M887.9,869.9h0M888.3,857.9h0M889,865.5h0M889.1,869.9h0M889.7,866.7h0M889.9,869h0M890.4,853.4h0M890.7,866.9h0M891.2,869.8h0M891.5,870.6h0M891.8,870.4h0M892.1,873.8h0M892.6,863.9h0M893,872.8h0M893.5,871.7h0M893.6,873h0M894.2,875.3h0M894.4,866.4h0M894.9,854.8h0M895.2,862.7h0M895.5,872.9h0M896,863.2h0M896.6,854.4h0M896.8,868.6h0M897.3,867.2h0M897.7,860.2h0M897.7,875.8h0M898.2,875.3h0M898.5,864.9h0M899.2,877h0M899.6,865.1h0M899.7,862.4h0M900,856.8h0M845.2,890.9h0M847.1,902.5h0M847.6,916.8h0M848.6,903.9h0M849.6,911.4h0M851,902.4h0M851.9,904h0M853.1,904.7h0M853.8,898.8h0M855,918.2h0M855.7,915.1h0M857.2,914.3h0M890.6,862.7h0M893.5,890h0M894.2,886.2h0M896.5,884.6h0M898.1,889.8h0M900.3,899.1h0M900.6,905h0M901.1,908.2h0M901.6,905h0M901.7,905.7h0M902.3,912h0M902.6,911.3h0M903.1,915h0M903.5,925.6h0M903.9,913.1h0M904.4,916.2h0M905,910.9h0M905.2,916.4h0M905.8,917h0M906.1,915.4h0M906.6,910h0M906.9,901.6h0M907.4,901.7h0M907.8,907.9h0M908.3,911.7h0M908.7,909.3h0M909.1,907.6h0M909.3,902h0M910.1,908.8h0M910.6,912.1h0M911,914.1h0M911.4,906.5h0M911.5,910.5h0M912.1,911.5h0M912.3,918.5h0M912.9,908.4h0M913.3,911h0M913.7,908.5h0M914.1,910.5h0M914.5,908.2h0M915,904.1h0M915.4,905.9h0M916,918.2h0M916.4,913.8h0M916.7,911.3h0M917.3,912h0M917.7,906.5h0M917.9,912.9h0M918.6,906.2h0M918.8,901.2h0M919.5,906.9h0M919.9,908.7h0M920,911.4h0M920.6,915.7h0M920.9,910.1h0M921.5,900.1h0M921.7,908.5h0M922.2,909.4h0M922.6,914.9h0M923.3,911.3h0M923.4,917.8h0M924.1,910.5h0M924.4,912.6h0M924.8,912.7h0M925.4,904.2h0M925.9,909.6h0M926.3,904.3h0M926.6,894.5h0M926.8,908.1h0M927.6,916.3h0M927.7,908h0M928.1,914.2h0M928.6,908.7h0M929.2,921.6h0M929.6,914.3h0M929.9,908.5h0M930.2,908h0M931,907.5h0M931.4,912.7h0M931.5,898.1h0M932.2,905.3h0M932.7,906h0M933.1,913.4h0M933.5,917.2h0M933.8,904h0M934.3,915.5h0M934.6,907.3h0M934.9,922.6h0M935.5,913.6h0M936.1,919h0M936.3,918.6h0M937,908.7h0M937.1,900.3h0M937.5,909.3h0M937.9,910.7h0M938.7,909.7h0M938.7,904.9h0M939.3,907.5h0M939.9,909.5h0M940.4,911h0M940.4,912.8h0M940.9,907.4h0M941.3,908.7h0M941.8,914.5h0M942.5,912.4h0M942.6,908.3h0M943.1,903.2h0M943.6,907.3h0M944.1,911.8h0M944.7,909.5h0M945,912.5h0M945.4,911.5h0M945.8,910.6h0M946.2,911.8h0M946.8,907.5h0M946.9,917.2h0M947.5,911.7h0M948.1,913.6h0M948.2,904.7h0M948.9,907.8h0M949.2,910.4h0M949.8,904.9h0M950.2,915.6h0M950.3,908.2h0M950.9,906.4h0M951.4,913h0M951.7,912.9h0M952.2,917.7h0M952.4,908.4h0M952.9,910.3h0M953.3,912.6h0M954,915h0M954.1,909.3h0M954.6,909.5h0M955.3,913.8h0M955.5,905.1h0M955.9,909.9h0M956.4,910.1h0M957,912.2h0M957.3,904.4h0M957.6,906.4h0M957.9,900.6h0M958.4,911.7h0M958.8,909.6h0M959.5,907.8h0M960,915.7h0M960.4,910.3h0M960.8,914.7h0M961,911.7h0M961.3,907.1h0M962.1,908.2h0M962.3,919.5h0M962.9,913.1h0M963.2,912.1h0M963.5,906.3h0M963.9,917h0M964.6,910.2h0M965.1,911.4h0M965.6,914.6h0M965.6,909.3h0M966.3,910.2h0M966.4,913.2h0M967,908.4h0M967.5,914h0M968,906.9h0M968.2,903.5h0M968.9,920.5h0M969.2,908.1h0M969.6,914.8h0M914.8,887.7h0M916.2,878.7h0M918.6,889.7h0M921.4,895.9h0M924.4,882.4h0M929.1,896.9h0M930.2,872.5h0M932.2,885.5h0M935.1,897.3h0M939.5,887.9h0M942.5,898h0M946.1,891.2h0M948.9,877.5h0M949.8,887.3h0M953.7,892.2h0M956,889h0M959.3,899h0M960.4,881.7h0M964.9,896.2h0M968.1,882.6h0M968.6,865.8h0M968.8,853.9h0M969.6,857.9h0M969.8,870.8h0M970.6,853.6h0M970.9,856.2h0M971.3,860.3h0M971.6,871.8h0M972.2,873.4h0M972.7,850.9h0M973.1,852.1h0M973.5,856.2h0M974.3,871.9h0M974.7,865.1h0M975.1,886.3h0M975.3,873.4h0M976,867.6h0M976.7,850.6h0M977,865.6h0M977.1,873h0M977.7,860.9h0M978.5,847.7h0M979,860.8h0M979.2,854.7h0M979.5,862h0M980.4,868.9h0M980.7,864.1h0M981.1,868.9h0M981.8,865.1h0M982.2,851h0M982.7,873.4h0M982.8,861.6h0M983.3,871.4h0M984,869.3h0M998.7,846.1h0M999.2,858.3h0M999.9,852.8h0M1000.2,849.6h0M1001.1,841h0M1001.6,844.7h0M1001.9,837.6h0M1002.2,853.6h0M1002.8,855.3h0M1003.4,855h0M1003.8,863.9h0M1004.7,836.3h0M1005.4,856h0M1005.5,837.5h0M1006.1,824.9h0M1006.8,856.7h0M1007,847.9h0M1007.5,831.2h0M1008.1,836.8h0M1008.8,837.5h0M1009.5,836.8h0M1010.1,846.5h0M1010.3,860.3h0M1013.4,821.6h0M1015.4,837.9h0M1016.5,846.5h0M1017.2,823.4h0M1019.5,846.3h0M1020.1,865.2h0M1022.4,860.3h0M1016.9,896.8h0M1018.1,908.3h0M1018.8,906h0M1020.1,912.4h0M1020.7,911.6h0M1021.8,916.9h0M1022.9,917.5h0M1023.4,853.5h0M1023.7,854.1h0M1023.9,863.6h0M1024.5,861.4h0M1025,857.8h0M1025.6,867h0M1025.9,870.8h0M1026.6,872.7h0M1026.7,885.9h0M1027.3,903.2h0M1027.7,900.1h0M1028.2,897.5h0M1028.6,899h0M1029.1,890.4h0M1029.8,887.6h0M1030.1,895.5h0M1030.4,909.1h0M1031,900.6h0M1031.6,917.2h0M1031.9,910.1h0M1032.5,906.1h0M1032.8,930.9h0M1031.4,935.8h0M1031.6,930.7h0M1032.4,937.5h0M1032.9,931.7h0M1033,930.4h0M1033.5,939.2h0M1034.2,933.3h0M1034.6,934.3h0M1034.9,935.3h0M1035.4,933.6h0M1036.1,934.2h0M1036.2,931.2h0M1036.8,933.1h0M1037.2,931.5h0M1037.7,936.3h0M1038,936.2h0M1038.6,928.7h0M1039.1,934h0M1039.6,934.1h0M1039.9,933.2h0M1040.6,936.1h0M1040.8,932h0M1041.1,934.8h0M1041.9,934.1h0M1042.3,932.4h0M1042.5,932.6h0M1043,934.4h0M1043.6,931.3h0M1043.9,931.3h0M1044.8,934.7h0M1044.8,936.1h0M1045.4,938.3h0M1046,934.1h0M1046.2,929.8h0M1047,931.9h0M1047.1,934.7h0M1047.8,935.4h0M1048.1,930.7h0M1048.8,937.5h0M1049.1,937.3h0M1049.6,932.1h0M1050.1,938.5h0M1050.4,936.5h0M1050.8,936.9h0M1051.2,935.2h0M1051.9,935.1h0M1052,934.1h0M1052.5,934.5h0M1053,934.5h0M1053.7,932.7h0M1054.2,935h0M1054.7,934.9h0M1055.2,939.2h0M1055.5,930.1h0M1055.7,932.3h0M1056.6,933.5h0M1056.7,930.5h0M1057.4,936.4h0M1057.8,933.6h0M1057.9,929.3h0M1058.5,936.3h0M1059,930.1h0M1059.4,932.6h0M1059.9,932.6h0M1060.4,927h0M1060.9,933.7h0M1061.2,940.6h0M1061.6,939.4h0M1062,933.9h0M1062.9,930.4h0M1063.2,930.7h0M1063.8,931.3h0M1064.1,932.7h0M1064.6,930.5h0M1065,935.1h0M1065.4,930.8h0M1066,931.3h0M1066.5,930.6h0M1066.7,933.9h0M1067.2,931.8h0M1067.7,935.3h0M1068.1,934h0M1068.5,933.3h0M1069.1,931.4h0M1069.5,933.7h0M1069.8,933.2h0M1070.5,935h0M1070.8,935.1h0M1071.4,930.9h0M1071.8,931.7h0M1072.1,935h0M1072.7,934.3h0M1073.1,932.7h0M1073.8,931.3h0M1074.2,938.4h0M1074.6,934.1h0M1075,933.4h0M1075.4,931.7h0M1075.7,936.3h0M1076.4,935.3h0M1076.6,930.6h0M1077.3,935.8h0M1077.6,934.1h0M1078.3,935.5h0M1078.4,935.9h0M1079.3,933.7h0M1079.4,934.6h0M1080.1,934.3h0M1080.6,934.1h0M1080.8,934.8h0M1081.1,938.1h0M1081.6,931h0M1082,935.8h0M1082.5,931.6h0M1083.1,932.8h0M1083.5,936.4h0M1084.1,934.7h0M1051,913.2h0M1054.6,904.7h0M1082.4,937.9h0M1083.5,928.9h0M1084.1,935.6h0M1084.7,928.1h0M1085.4,929.7h0M1086.4,916.5h0M1086.5,928.2h0M1087.5,910.8h0M1088.3,916.1h0M1089.1,921.6h0M1089.7,920h0M1090.6,914h0M1090.8,907.2h0M1091.6,916.8h0M1092.4,913.1h0M1093.2,924.2h0M1094.1,912.7h0M1094.4,904.2h0M1095.5,912.7h0M1095.7,912.4h0M1096.7,903.5h0M1097.7,900.2h0M1097.9,902.4h0M1099,909.3h0M1099.6,901.4h0M1100,907.6h0M1088.6,911.2h0M1088.7,915.7h0M1089,905.3h0M1089.5,901.9h0M1089.7,892.8h0M1090.1,902.7h0M1090.3,907h0M1090.8,906.1h0M1091,899.6h0M1091.4,898.8h0M1091.5,915.8h0M1091.9,894.2h0M1092.3,902.1h0M1092.4,893.5h0M1092.9,903.6h0M1093.3,888.2h0M1093.5,903.6h0M1093.7,890.3h0M1093.9,901h0M1094.4,912.6h0M1094.6,897.2h0M1095,906.9h0M1095.2,914.4h0M1095.7,914.6h0M1095.9,888.4h0M1096.2,914.3h0M1096.4,906h0M1096.9,911.4h0M1097.1,887.3h0M1097.4,920.1h0M1097.9,907.4h0M1098.2,897.5h0M1098.5,911.2h0M1098.7,920.6h0M1098.9,905.8h0M1099.4,920.3h0M1099.7,905.1h0M1099.8,906.7h0M1100.3,907.6h0M1100.7,914.3h0M1101,907.9h0M1101.1,904.4h0M1101.6,907.2h0M1101.7,899.2h0M1102.1,911.8h0M1102.4,908h0M1102.6,928.2h0M1103.1,897.1h0M1103.2,894.3h0M1103.6,903.2h0M1103.9,892.4h0M1104.4,904.6h0M1104.8,910h0M1105,907.2h0M1105.2,919.7h0M1105.5,916.4h0M1105.9,881.7h0M1106.1,905.1h0M1106.5,893.6h0M1106.7,901.6h0M1107,901.2h0M1107.3,910.1h0M1107.8,895h0M1108,908.5h0M1108.2,901.5h0M1108.8,902.8h0M1108.9,894.6h0M1109.1,911.4h0M1109.4,916.1h0M1109.9,899h0M1110.2,910.2h0M1110.6,909h0M1110.8,922.8h0M1111.2,908.5h0M1111.4,901.5h0M1111.7,908.1h0M1111.9,885.8h0M1112.4,908.3h0M1112.8,897.8h0M1113,916h0M1113.2,918.5h0M1113.5,892.6h0M1114,896h0M1114.3,909.1h0M1114.5,907.4h0M1114.9,890.4h0M1115,911.9h0M1115.6,918.4h0M1115.6,905.6h0M1116.2,907.7h0M1116.5,917h0M1116.7,910.1h0M1116.9,900.3h0M1117.4,917.2h0M1117.7,911.8h0M1117.9,916.2h0M1118.2,904.5h0M1118.7,905.9h0M1118.8,913h0M1119.3,906.7h0M1119.4,897.1h0M1119.8,901.5h0M1120,900.5h0M1120.5,911.1h0M1120.8,910.9h0M1121.2,899.8h0M1121.4,908.4h0M1121.7,900h0M1122.1,900.2h0M1122.3,902.8h0M1122.6,905h0M1123,899.5h0M1123.1,927.1h0M1123.4,904.3h0M1123.9,915.3h0M1124.2,914.3h0M1124.3,886.4h0M1124.9,895.9h0M1124.9,911.6h0M1125.3,896.6h0M1125.5,903h0M1126.1,923.8h0M1126.2,907.4h0M1126.6,908h0M1126.8,906.5h0M1127.3,900.4h0M1127.6,890.5h0M1127.8,919.2h0M1128,909.7h0M1128.5,905.4h0M1128.8,906h0M1129.1,909.5h0M1129.5,909.7h0M1129.7,901.7h0M1129.9,923.2h0M1130.2,914.7h0M1130.8,900h0M1130.9,898.9h0M1131.4,892.8h0M1131.7,900.8h0M1131.8,911.1h0M1132.1,901.2h0M1132.4,922.8h0M1132.8,903.8h0M1133.1,905.8h0M1133.4,909.4h0M1133.9,903h0M1134.1,901.4h0M1134.2,912.3h0M1134.5,897.8h0M1134.9,911.2h0M1135.4,902.1h0M1135.7,910h0M1135.8,901.8h0M1136.3,902.7h0M1136.5,916.7h0M1136.7,896.4h0M1137.2,907.3h0M1137.3,913.4h0M1137.7,907.5h0M1137.9,903.7h0M1138.4,881h0M1138.5,906.2h0M1138.9,922.3h0M1139.2,914h0M1139.5,893.4h0M1139.8,907.6h0M1140.3,899.9h0M1140.6,899.8h0M1140.8,904.9h0M1141.1,908.2h0M1141.5,894.1h0M1141.8,907.4h0M1142.1,912.4h0M1142.5,900.8h0M1142.6,896.5h0M1143,907.5h0M1143.2,910.9h0M1143.6,921h0M1143.9,911.3h0M1144.4,905.7h0M1144.4,910.6h0M1145,921.9h0M1145.1,906.2h0M1145.6,905.8h0M1145.9,902.4h0M1146.2,907.3h0M1146.4,918.1h0M1146.7,925.4h0M1147.1,904.7h0M1147.3,905h0M1147.6,906.4h0M1147.9,917.3h0M1148.2,922.2h0M1148.6,902.8h0M1149,921.9h0M1149.2,901.8h0M1149.7,919h0M1149.9,894.4h0M1150.2,910.6h0M1150.4,901.7h0M1150.9,913.2h0M1151,916.9h0M1151.3,907.2h0M1151.6,911.1h0M1152,906.4h0M1152.2,906.5h0M1152.6,916.5h0M1152.9,895.4h0M1153.3,899.2h0M1153.5,904.5h0M1153.9,906.2h0M1154.3,905h0M1154.5,911.5h0M1154.7,902.9h0M1155,902.6h0M1155.5,923.7h0M1155.8,897h0M1156,911.2h0M1156.2,901.9h0M1156.7,913.7h0M1156.9,907.9h0M1157.2,905.3h0M1157.5,929.4h0M1157.9,903h0M1158.1,903.3h0M1158.6,904.3h0M1158.7,899.8h0M1159.2,906.6h0M1159.3,909h0M1159.9,919.9h0M1160.1,921.9h0M1160.3,908.6h0M1160.5,902.6h0M1161,904.6h0M1161.3,894.1h0M1161.7,915.1h0M1161.8,896.2h0M1162.2,903.1h0M1162.6,897.5h0M1162.9,916.7h0M1163,906.5h0M1163.6,909.3h0M1163.7,909.8h0M1164.2,898.7h0M1164.3,904.7h0M1164.6,936h0M1165,902.5h0M1165.2,904.7h0M1165.8,906.4h0M1166.1,907.1h0M1166.3,894.8h0M1166.5,906h0M1166.9,902.1h0M1167.1,906.9h0M1167.5,907.2h0M1167.9,912.1h0M1168.1,881.5h0M1168.4,904.2h0M1168.6,918.6h0M1169,914.6h0M1169.3,916.8h0M1169.7,915h0M1170,905.9h0M1170.4,911.7h0M1170.7,909.9h0M1170.8,907h0M1171.2,911.6h0M1171.6,909.6h0M1171.7,901.1h0M1172.3,909.8h0M1172.5,903.7h0M1172.7,901.6h0M1172.9,914.6h0M1173.2,900.4h0M1173.6,914.9h0M1174.1,919.5h0M1174.2,912h0M1174.5,901.2h0M1175.1,917.5h0M1175.2,912.2h0M1175.5,897.7h0M1176,915.7h0M1176.2,886.7h0M1176.4,899.6h0M1176.7,916.2h0M1177.1,899.5h0M1177.4,907.6h0M1177.6,909.9h0M1178,906.6h0M1178.2,916.8h0M1178.7,914.4h0M1178.8,893.4h0M1179.1,905.8h0M1179.7,911.2h0M1179.9,909.5h0M1180.3,905.6h0M1180.3,912.4h0M1180.8,912h0M1181,915.5h0M1181.3,907.7h0M1181.6,904.6h0M1181.9,896.1h0M1182.2,899.8h0M1182.8,897.7h0M1182.9,911.2h0M1183.2,906.4h0M1183.5,912.8h0M1184,915.3h0M1184.3,887.3h0M1184.5,898.1h0M1184.9,897.1h0M1185.2,908.4h0M1185.5,895.6h0M1185.9,902.3h0M1186.2,896.3h0M1186.4,905.1h0M1186.8,900h0M1187,903h0M1187.3,906.8h0M1187.7,901.1h0M1188.1,912.3h0M1188.2,896.9h0M1188.5,894.4h0M1189,908.9h0M1189.3,919.9h0M1189.5,906.2h0M1189.9,896.9h0M1190.2,903.6h0M1190.4,898.6h0M1190.7,904.5h0M1191.2,904h0M1191.3,901.2h0M1191.6,921h0M1192,898h0M1192.2,897.8h0M1192.5,910.1h0M1193,899.6h0M1193.1,896.6h0M1193.5,906.5h0M1193.8,913.5h0M1194.2,907.7h0M1194.4,921.5h0M1194.9,915.5h0M1194.9,907.8h0M1195.4,920.7h0M1195.8,902.2h0M1195.9,917.4h0M1196.4,898.3h0M1196.7,911.3h0M1197,902.2h0M1197.3,902.5h0M1197.5,911.8h0M1197.9,906.8h0M1198.2,903.6h0M1198.4,913.6h0M1198.8,909.7h0M1199.2,901.1h0M1199.2,902.4h0M1199.7,896.9h0M1200.2,920.1h0M1200.2,898.2h0M1200.7,898.2h0M1201.1,909.4h0M1201.2,911.6h0M1201.6,906.9h0M1202,923.4h0M1202.3,913.9h0M1202.5,917h0M1202.9,919.3h0M1203,893.7h0M1203.4,912.3h0M1203.8,898.1h0M1204,917.3h0M1204.4,904h0M1204.7,907.5h0M1204.9,910.8h0M1205.3,899.6h0M1205.5,916.7h0M1205.8,903h0M1206.1,902.7h0M1206.6,921.6h0M1206.8,897.3h0M1207.2,917h0M1207.4,922.5h0M1207.7,899.3h0M1208,916.5h0M1208.5,905.8h0M1208.7,901.2h0M1209.1,907.5h0M1209.3,906.5h0M1209.7,908.2h0M1209.9,907.9h0M1210.4,910.5h0M1210.4,894.4h0M1210.9,909.6h0M1211.3,906.9h0M1211.4,913.6h0M1211.8,906.5h0M1212,893.4h0M1212.6,896.8h0M1212.6,904.4h0M1213.2,908.9h0M1213.2,900.4h0M1213.7,894.9h0M1213.9,903.3h0M1214.4,928.6h0M1214.5,895.6h0M1215,925.7h0M1215.2,898h0M1215.6,907.1h0M1215.9,906.6h0M1216.1,916.4h0M1216.5,909.2h0M1216.6,903.2h0M1217.1,903.6h0M1217.4,906h0M1217.7,903.3h0M1218,905.1h0M1218.4,890.3h0M1218.4,897.3h0M1219,909.9h0M1219.2,898.5h0M1219.5,909h0M1219.8,897.6h0M1220.2,911h0M1220.5,903.4h0M1220.6,901.1h0M1221.1,902h0M1221.3,894.1h0M1221.7,911.2h0M1222,908h0M1222.4,905.4h0M1222.6,900.2h0M1222.8,911.9h0M1223.3,902h0M1223.6,907.6h0M1223.7,915.1h0M1224.1,911.6h0M1224.6,915.9h0M1224.9,905.8h0M1225.2,904.6h0M1225.6,902.9h0M1225.8,904.4h0M1226.2,930.4h0M1226.4,902.9h0M1226.6,894.6h0M1227,916.3h0M1227.3,904.8h0M1227.6,919.3h0M1227.7,900h0M1228.1,911.6h0M1228.6,912.4h0M1228.8,908.2h0M1229.2,913.6h0M1229.5,922.2h0M1229.7,907.2h0M1230.1,908.1h0M1230.5,894h0M1230.8,908.4h0M1230.9,907.1h0M1231.2,904.5h0M1231.7,885.9h0M1231.9,902h0M1232.3,903.6h0M1232.6,908.4h0M1233,918.5h0M1233.1,900.7h0M1233.4,903.7h0M1233.9,900.9h0M1234,918h0M1234.5,899.9h0M1234.7,891.1h0M1234.9,920.8h0M1235.4,899.2h0M1235.7,883.4h0M1235.9,903.6h0M1236.4,907.5h0M1236.5,917.2h0M1237,901h0M1237.3,912.9h0M1237.6,909.8h0M1237.8,911.3h0M1238.1,895.8h0M1238.4,906.7h0M1238.9,908h0M1239.2,904.6h0M1239.4,913.2h0M1239.6,914.5h0M1240,911.8h0M1240.2,889.2h0M1240.6,888.6h0M1240.8,902.8h0M1241.1,906.4h0M1241.5,911h0M1241.7,908.7h0M1242.2,903.5h0M1242.4,918.8h0M1242.6,895.3h0M1243.1,889.9h0M1243.3,904.3h0M1243.8,913.9h0M1244.1,895.6h0M1244.3,904.1h0M1244.6,897.7h0M1244.8,893.5h0M1245.1,901.1h0M1245.4,902.5h0M1245.7,893.6h0M1246.2,902.7h0M1246.5,904.4h0M1246.8,913.5h0M1247.2,907.5h0M1247.4,901.4h0M1247.7,907.4h0M1248.1,901.9h0M1248.4,912.3h0M1248.6,903.5h0M1249.1,895h0M1249.4,898.6h0M1249.7,904.7h0M1250,906.8h0M1250.1,908.1h0M1250.5,907.1h0M1250.9,895.2h0M1251.1,898.8h0M1251.4,906.3h0M1251.7,900.2h0M1252.1,896.6h0M1252.4,913.4h0M1252.8,909.3h0M1253,901.2h0M1253.4,904.6h0M1253.6,907.9h0M1253.9,913.1h0M1254.2,920.6h0M1254.6,907.3h0M1254.8,889.3h0M1255.3,904.4h0M1255.5,929.3h0M1255.9,893.3h0M1256.2,917h0M1256.3,900.7h0M1256.6,914.3h0M1256.9,905.3h0M1257.2,904.7h0M1257.6,910h0M1257.8,918.1h0M1258.2,898.8h0M1258.6,890.1h0M1259,902h0M1259.2,906.2h0M1259.5,898h0M1259.6,904.1h0M1260.2,905.2h0M1260.5,913.5h0M1260.6,902.4h0M1261,910.4h0M1261.5,913.2h0M1261.8,907.9h0M1262,889.2h0M1262.2,914.2h0M1262.4,903.9h0M1262.9,913.5h0M1263.2,896.3h0M1263.5,907.8h0M1263.7,907.8h0M1264.1,909.9h0M1264.4,911.6h0M1264.7,895.4h0M1265.2,910.4h0M1265.5,901h0M1265.6,925.5h0M1265.9,914.3h0M1094.4,880.4h0M1100.1,877.4h0M1110.2,885.5h0M1113.4,857.8h0M1121.9,882.1h0M1131,876.6h0M1139.4,876.4h0M1141.4,892.6h0M1150.5,879.8h0M1157.7,881.7h0M1161.9,880.1h0M1173.7,880.3h0M1179.5,885.9h0M1185.8,886.7h0M1189.7,868.8h0M1200.5,875.5h0M1204.8,880.3h0M1211.8,895.8h0M1218.2,885h0M1223.9,876h0M1231.4,881.7h0M1238.8,878.1h0M1249,883.1h0M1252.4,871.7h0M1264.4,884.3h0M1265.1,890.3h0M1265.4,875.6h0M1266.1,886.4h0M1266.4,882.7h0M1267,876.8h0M1268.1,876.1h0M1268.5,890.1h0M1269.2,883.6h0M1269.8,867.8h0M1269.9,877.2h0M1270.9,877.4h0M1271.4,867.4h0M1272.1,875.4h0M1272.5,891h0M1273.1,878.6h0M1273.5,870.9h0M1274,867.5h0M1274.6,868.6h0M1275.5,871.2h0M1276,870.6h0M1276.7,860.4h0M1277,865.7h0M1277.7,869.2h0M1277.9,873.4h0M1279,862.6h0M1279.3,861.1h0M1279.7,862.5h0M1280.4,863.9h0M1280.8,878.6h0M1281.3,869.4h0M1282.1,867.5h0M221.7,881.5h0M272.6,878.4h0M305.3,871h0M305.3,882.6h0M360.1,872.1h0M386.6,875.3h0M333.9,885.8h0M292.6,887.8h0M238.3,886.9h0M397.7,888.3h0M403.8,886.9h0M642.9,902.5h0M661.3,862.8h0M663.3,908.2h0M941.2,862.8h0M951.4,874.1h0M1096.5,858.5h0M1190.5,859.9h0M1178.3,865.6h0" stroke="#000" stroke-width="6.2" stroke-linecap="round" fill="none"/>
<rect x="170.4" y="981.8" width="1156.2" height="17" fill="#fff"/>
<rect x="170.4" y="981.8" width="67.8" height="17" fill="#363636" stroke="#333" stroke-width="1.6"/>
<rect x="695.2" y="981.8" width="197" height="17" fill="#363636" stroke="#333" stroke-width="1.6"/>
<rect x="986.2" y="981.8" width="172.5" height="17" fill="#363636" stroke="#333" stroke-width="1.6"/>
<rect x="1239.2" y="981.8" width="88" height="17" fill="#999"/>
<line x1="1239.2" y1="981.8" x2="1239.2" y2="998.8" stroke="#333" stroke-width="1.6"/>
<rect x="569.6" y="980.6" width="51.3" height="18.2" fill="#efefef"/>
<path d="M569.6,981.8 L573.6,981.8 Q577.3,982.8 582.3,990.3 Q577.3,997.8 573.6,998.8 L569.6,998.8 Z" fill="url(#hat)" stroke="#333" stroke-width="1.8"/>
<path d="M620.9,981.8 L612.9,981.8 Q596.3,982.8 582.3,990.3 Q596.3,997.8 612.9,998.8 L620.9,998.8 Z" fill="url(#hat)" stroke="#333" stroke-width="1.8"/>
<circle cx="582.3" cy="990.3" r="5.6" fill="#fff" stroke="#333" stroke-width="1.8"/>
<path d="M170.4,981.8 L569.6,981.8 M620.9,981.8 L1326.6,981.8 M170.4,998.8 L569.6,998.8 M620.9,998.8 L1326.6,998.8" stroke="#333" stroke-width="2.2" fill="none"/>
<path d="M170.4,981.8 A70.514,8.500 0 0 0 170.4,998.8" fill="#fff" stroke="#333" stroke-width="1.8"/>
<line x1="98.3" y1="998.8" x2="1326.6" y2="998.8" stroke="#333" stroke-width="2.2"/>
<line x1="99.3" y1="998.8" x2="99.3" y2="1016.2" stroke="#333" stroke-width="2"/>
<text x="100.3" y="1046.6" font-size="31" text-anchor="middle" font-weight="normal" font-style="normal" fill="#1a1a1a" >0</text>
<line x1="303.6" y1="998.8" x2="303.6" y2="1016.2" stroke="#333" stroke-width="2"/>
<text x="304.4" y="1046.6" font-size="31" text-anchor="middle" font-weight="normal" font-style="normal" fill="#1a1a1a" >5</text>
<line x1="508" y1="998.8" x2="508" y2="1016.2" stroke="#333" stroke-width="2"/>
<text x="508.8" y="1046.6" font-size="31" text-anchor="middle" font-weight="normal" font-style="normal" fill="#1a1a1a" >10</text>
<line x1="712.3" y1="998.8" x2="712.3" y2="1016.2" stroke="#333" stroke-width="2"/>
<text x="713.1" y="1046.6" font-size="31" text-anchor="middle" font-weight="normal" font-style="normal" fill="#1a1a1a" >15</text>
<line x1="916.7" y1="998.8" x2="916.7" y2="1016.2" stroke="#333" stroke-width="2"/>
<text x="917.5" y="1046.6" font-size="31" text-anchor="middle" font-weight="normal" font-style="normal" fill="#1a1a1a" >20</text>
<line x1="1121" y1="998.8" x2="1121" y2="1016.2" stroke="#333" stroke-width="2"/>
<text x="1121.8" y="1046.6" font-size="31" text-anchor="middle" font-weight="normal" font-style="normal" fill="#1a1a1a" >25</text>
<line x1="1325.1" y1="998.8" x2="1325.1" y2="1016.2" stroke="#333" stroke-width="2"/>
<text x="1325.9" y="1046.6" font-size="31" text-anchor="middle" font-weight="normal" font-style="normal" fill="#1a1a1a" >30</text>
<text x="714.2" y="1091.7" font-size="31.6" text-anchor="middle" font-weight="normal" font-style="normal" fill="#1a1a1a" >Y chromosome coordinate (Mb)</text>
<line x1="99.3" y1="850.4" x2="99.3" y2="966" stroke="#333" stroke-width="2"/>
<line x1="81.5" y1="965" x2="99.3" y2="965" stroke="#333" stroke-width="2"/>
<text x="76.1" y="975.4" font-size="29.5" text-anchor="end" font-weight="normal" font-style="normal" fill="#1a1a1a" >0</text>
<line x1="81.5" y1="908.2" x2="99.3" y2="908.2" stroke="#333" stroke-width="2"/>
<text x="76.1" y="918.6" font-size="29.5" text-anchor="end" font-weight="normal" font-style="normal" fill="#1a1a1a" >2</text>
<line x1="81.5" y1="851.4" x2="99.3" y2="851.4" stroke="#333" stroke-width="2"/>
<text x="76.1" y="861.8" font-size="29.5" text-anchor="end" font-weight="normal" font-style="normal" fill="#1a1a1a" >4</text>
<text transform="translate(38.3,912.9) rotate(-90)" font-size="31.2" text-anchor="middle" fill="#1a1a1a" >Copy number</text>
<text x="99.6" y="635" font-size="29.3" text-anchor="start" font-weight="normal" font-style="normal" fill="#1a1a1a" >TD</text>
<text x="100.1" y="669.2" font-size="29.3" text-anchor="start" font-weight="normal" font-style="normal" fill="#1a1a1a" >D</text>
<text x="100.1" y="702.7" font-size="29.3" text-anchor="start" font-weight="normal" font-style="normal" fill="#1a1a1a" >HH</text>
<text x="99.6" y="736.7" font-size="29.3" text-anchor="start" font-weight="normal" font-style="normal" fill="#1a1a1a" >TT</text>
<text x="1.5" y="614.3" font-size="47.5" text-anchor="start" font-weight="bold" font-style="normal" fill="#000" class="pl">b</text>
<text x="1321" y="584.8" font-size="32.3" text-anchor="end" font-weight="normal" font-style="normal" fill="#1a1a1a" >PD13476a</text>
<text x="1321" y="624.2" font-size="32.3" text-anchor="end" font-weight="normal" font-style="normal" fill="#1a1a1a" >Age: 16 y.o.</text>
<rect x="99.3" y="1337.7" width="1227.3" height="203.4" fill="#f2f2f2"/>
<rect x="99.3" y="1507.6" width="1227.3" height="33.5" fill="#e6e6e6"/>
<rect x="99.3" y="1439.2" width="1227.3" height="34.2" fill="#e6e6e6"/>
<rect x="99.3" y="1370.8" width="1227.3" height="34.2" fill="#e6e6e6"/>
<line x1="98.8" y1="1200.4" x2="1326.6" y2="1200.4" stroke="#333" stroke-width="2.2"/>
<line x1="98.8" y1="1269.2" x2="1326.6" y2="1269.2" stroke="#333" stroke-width="2.2"/>
<line x1="98.8" y1="1337.7" x2="1326.6" y2="1337.7" stroke="#333" stroke-width="2.2"/>
<line x1="783.1" y1="1200.4" x2="783.1" y2="1541.1" stroke="#d4b8a2" stroke-width="1.3" opacity="1"/>
<line x1="814.5" y1="1200.4" x2="814.5" y2="1541.1" stroke="#d4b8a2" stroke-width="1.3" opacity="1"/>
<line x1="879.4" y1="1200.4" x2="879.4" y2="1541.1" stroke="#7d7dc0" stroke-width="1.3" opacity="1"/>
<line x1="879.4" y1="1200.4" x2="879.4" y2="1234.4" stroke="#4a4aa0" stroke-width="1.5" opacity="1"/>
<line x1="883.3" y1="1269.2" x2="883.3" y2="1541.1" stroke="#b0e060" stroke-width="1.4" opacity="1"/>
<line x1="970.1" y1="1200.4" x2="970.1" y2="1541.1" stroke="#a3a3c4" stroke-width="1.3" opacity="1"/>
<line x1="1026.6" y1="1200.4" x2="1026.6" y2="1541.1" stroke="#a3a3c4" stroke-width="1.3" opacity="1"/>
<line x1="1035" y1="1269.2" x2="1035" y2="1541.1" stroke="#7f9f9f" stroke-width="1.4" opacity="1"/>
<line x1="1037.2" y1="1200.4" x2="1037.2" y2="1541.1" stroke="#8080b8" stroke-width="1.3" opacity="1"/>
<line x1="1078" y1="1182.9" x2="1078" y2="1541.1" stroke="#8a8a8a" stroke-width="1.4" opacity="1"/>
<path d="M783.1,1200.4 A15.7,34 0 0 1 814.5,1200.4" fill="none" stroke="#b87a3c" stroke-width="1.4" opacity="1"/>
<path d="M970.1,1200.4 A33.2,34 0 0 0 1036.6,1200.4" fill="none" stroke="#56569a" stroke-width="1.4" opacity="1"/>
<path d="M1026.6,1200.4 A5.3,34 0 0 0 1037.2,1200.4" fill="none" stroke="#56569a" stroke-width="1.4" opacity="1"/>
<path d="M883.3,1269.2 A75.8,35 0 0 1 1034.9,1269.2" fill="none" stroke="#9cdc34" stroke-width="1.7" opacity="1"/>
<path d="M206.9,1512.3h0M207.3,1510.4h0M207.6,1509.2h0M208,1509.4h0M208.2,1508.7h0M208.6,1500.2h0M209,1513.7h0M209.1,1509h0M209.6,1507.2h0M210,1512.2h0M210.3,1505.1h0M210.6,1507.7h0M210.8,1503.9h0M211.2,1508.4h0M211.6,1506.2h0M212,1512.7h0M212.2,1508.6h0M212.7,1512.5h0M213,1508.2h0M213.1,1508.6h0M213.6,1513.2h0M213.8,1507.9h0M214.1,1511.5h0M214.5,1507.7h0M214.8,1505.9h0M215.3,1511.9h0M215.6,1505.2h0M215.7,1509.7h0M216.2,1503.4h0M216.5,1510.8h0M216.8,1508.1h0M217.1,1504.2h0M217.3,1504.2h0M217.9,1507.2h0M217.9,1508.5h0M218.3,1512.2h0M218.7,1508.7h0M218.9,1515.2h0M219.4,1505h0M219.7,1508.1h0M220.2,1506h0M220.5,1509.8h0M220.6,1505.9h0M220.9,1507.5h0M221.2,1512.6h0M221.6,1507.2h0M221.8,1507.6h0M222.5,1511.1h0M222.8,1511.6h0M223,1507.1h0M223.4,1512.3h0M223.7,1511.4h0M224.1,1512.3h0M224.4,1509.4h0M224.5,1511.8h0M224.9,1501.7h0M225.3,1506.3h0M225.6,1509h0M225.8,1512.3h0M226.1,1511.9h0M226.6,1513.4h0M226.9,1508.3h0M227.3,1509.2h0M227.4,1509.8h0M227.9,1507h0M228.2,1509.7h0M228.6,1510.3h0M228.8,1506.7h0M229.1,1511.2h0M229.5,1510.5h0M229.9,1505.5h0M230.2,1508.5h0M230.4,1508.2h0M230.7,1504h0M231.1,1513.2h0M231.3,1507.3h0M231.7,1511.8h0M232.1,1504.4h0M232.6,1507.8h0M232.8,1506.8h0M233.2,1511h0M233.3,1508.4h0M233.8,1507.2h0M234.2,1504.2h0M234.3,1510h0M234.8,1503.9h0M235.2,1509.9h0M235.3,1507.8h0M235.8,1509.4h0M236,1506.4h0M236.4,1514.4h0M236.6,1505.5h0M236.9,1503.4h0M237.5,1511h0M237.7,1502.7h0M237.9,1511h0M238.4,1506.7h0M238.7,1512.6h0M238.9,1510.1h0M239.2,1507.2h0M239.7,1510.1h0M239.8,1503.8h0M240.4,1511.2h0M240.8,1515h0M241.1,1509.3h0M241.4,1509.1h0M241.5,1510.2h0M242,1504.8h0M242.2,1505.2h0M242.5,1510.3h0M242.8,1506.7h0M243.3,1511.3h0M243.5,1507.7h0M244,1505.5h0M244.1,1507.1h0M244.7,1515.1h0M245,1504.8h0M245.3,1508.6h0M245.4,1509.1h0M245.9,1506.5h0M246.2,1513.7h0M246.4,1507.9h0M246.7,1507.7h0M247,1507.7h0M247.7,1508h0M247.8,1509.7h0M248.1,1509.8h0M248.5,1506.3h0M248.8,1509.9h0M249.1,1507.3h0M249.3,1513h0M249.8,1510.3h0M250,1507.5h0M250.5,1506.2h0M250.9,1512.4h0M251.1,1505.1h0M251.4,1511h0M251.8,1506.2h0M252.1,1509.7h0M252.3,1511.6h0M252.7,1509h0M253,1509.7h0M253.4,1503.7h0M253.7,1513.2h0M254.2,1508h0M254.4,1510.8h0M254.6,1506.9h0M255.2,1512.5h0M255.5,1510.9h0M255.7,1512.6h0M255.9,1508.8h0M256.2,1508.7h0M256.8,1507.3h0M256.9,1508.2h0M257.4,1508.3h0M257.8,1507.9h0M257.8,1506.1h0M258.4,1512.1h0M258.8,1513h0M258.8,1510.9h0M259.4,1513h0M259.5,1508.8h0M260,1507.5h0M260.2,1508.9h0M260.6,1507.4h0M260.8,1510.3h0M261.2,1512h0M261.5,1511.6h0M261.9,1510.5h0M262.2,1506.8h0M262.4,1516.1h0M262.8,1508.4h0M263.3,1506h0M263.6,1504.7h0M263.9,1511.7h0M264.2,1508.7h0M264.6,1507.6h0M264.9,1507.3h0M265.3,1511.4h0M265.6,1508.7h0M265.7,1508.5h0M266.2,1506.4h0M266.4,1507.8h0M266.9,1503.9h0M267.1,1509.1h0M267.6,1511.1h0M267.8,1508.5h0M268,1506.3h0M268.4,1509.6h0M268.7,1507.1h0M269,1508h0M269.6,1509.8h0M269.7,1510.9h0M270.2,1510.1h0M270.5,1511.3h0M270.8,1509.4h0M271.2,1512h0M271.5,1505.5h0M271.7,1507.9h0M272.1,1506.1h0M272.4,1502.7h0M272.6,1509.6h0M272.9,1508.3h0M273.4,1506.3h0M273.8,1506.4h0M274.1,1509.4h0M274.3,1512.3h0M274.5,1506h0M274.8,1506.9h0M275.3,1510.2h0M275.7,1508.3h0M275.9,1508.4h0M276.3,1510.1h0M276.6,1507.9h0M277.1,1510.9h0M277.1,1505.8h0M277.5,1508.8h0M278,1509.3h0M278.4,1502.4h0M278.5,1504.1h0M279,1507.9h0M279.3,1510.4h0M279.6,1507.2h0M280,1510.1h0M280.4,1509.7h0M280.4,1511.2h0M280.9,1510.7h0M281.2,1504.3h0M281.5,1506.3h0M281.9,1504.2h0M282.1,1504.7h0M282.4,1510.6h0M283,1506.3h0M283.2,1505.9h0M283.5,1511.8h0M283.8,1509.3h0M284.1,1507.4h0M284.5,1506.9h0M284.9,1512.5h0M285.1,1509.2h0M285.4,1512.2h0M285.6,1504h0M286.1,1507.8h0M286.4,1503h0M286.7,1510.8h0M287.2,1505.8h0M287.4,1507h0M287.7,1509h0M287.9,1504h0M288.5,1504.6h0M288.6,1506.7h0M289.1,1505h0M289.5,1507.8h0M289.6,1511.7h0M290,1506.6h0M290.4,1504.5h0M290.6,1507.8h0M290.8,1502.8h0M291.4,1502.3h0M291.6,1512.2h0M292,1511.3h0M292.5,1509.8h0M292.7,1509.5h0M293,1502.3h0M293.3,1507.7h0M293.7,1507.9h0M294,1511.2h0M294.3,1507.5h0M294.5,1508.5h0M294.9,1507.8h0M295.3,1511.2h0M295.7,1506.4h0M296,1504.3h0M296.3,1503.8h0M296.4,1509h0M296.8,1506h0M297.2,1505.3h0M297.7,1508.7h0M297.9,1503.8h0M298.2,1503.4h0M298.7,1508.6h0M298.8,1512.2h0M299.3,1502.4h0M299.5,1510h0M299.9,1508.9h0M300,1507.4h0M300.3,1507h0M300.8,1505.9h0M301.2,1510.5h0M301.5,1508.2h0M301.7,1512.2h0M302.1,1506.4h0M302.3,1503.8h0M302.7,1510.2h0M303.1,1511.3h0M303.3,1508.2h0M303.6,1506.2h0M304,1502.6h0M304.4,1506.8h0M304.6,1505.6h0M305,1507.1h0M305.3,1506.9h0M305.6,1508.5h0M305.9,1507.4h0M306.4,1511.2h0M306.6,1505h0M307,1507.9h0M307.5,1507h0M307.6,1504.7h0M307.9,1505.6h0M308.4,1508.2h0M308.5,1506.2h0M309.1,1508.2h0M309.3,1502.4h0M309.8,1508h0M309.9,1505.3h0M310.4,1509.2h0M310.5,1509.3h0M311,1503.5h0M311.1,1508.1h0M311.5,1505.8h0M311.8,1506.4h0M312.1,1510.8h0M312.5,1512.4h0M313.1,1512.4h0M313.4,1506.5h0M313.7,1504.9h0M313.9,1506.7h0M314.4,1505.2h0M314.7,1506h0M314.8,1509.2h0M315.3,1505.6h0M315.7,1505.1h0M315.9,1503h0M316.3,1513.4h0M316.5,1509.3h0M316.8,1506.5h0M317.2,1502.2h0M317.4,1505h0M317.9,1503.1h0M318.2,1509.7h0M318.4,1505h0M318.9,1504h0M319.2,1506.7h0M319.5,1505.4h0M319.9,1505.9h0M320.2,1502.9h0M320.4,1511.1h0M320.9,1507.4h0M321,1509.7h0M321.3,1512.9h0M321.6,1502.8h0M322.1,1506.2h0M322.4,1506.3h0M322.6,1505.5h0M323.1,1506.6h0M323.4,1505h0M323.9,1506.9h0M323.9,1509.8h0M324.5,1508.2h0M324.7,1506.2h0M324.9,1510.5h0M325.2,1502.3h0M325.5,1504.4h0M325.8,1505.1h0M326.5,1507.4h0M326.5,1509h0M327.1,1506.5h0M327.3,1510h0M327.8,1510.7h0M327.9,1509.4h0M328.2,1508.8h0M328.7,1511.3h0M328.8,1509.9h0M329.3,1511.4h0M329.5,1505.9h0M329.9,1508h0M330.3,1506.8h0M330.7,1510.6h0M330.9,1504.9h0M331.1,1512.5h0M331.5,1499.2h0M331.9,1505.1h0M332.1,1505.8h0M332.7,1507.7h0M333,1512.6h0M333.2,1503.6h0M333.5,1508.3h0M334,1501h0M334.2,1510.8h0M334.6,1515h0M335,1501.3h0M335.1,1505.1h0M335.3,1507.5h0M335.9,1507.7h0M336.2,1503.4h0M336.3,1506.8h0M336.8,1509.1h0M337.1,1507h0M337.4,1511.5h0M337.6,1507.6h0M338,1503.9h0M338.3,1506.4h0M338.9,1511.2h0M339.2,1504.7h0M339.3,1508.6h0M339.7,1510.1h0M340.1,1505.9h0M340.3,1505.3h0M340.7,1508.5h0M341.2,1505.8h0M341.3,1508.9h0M341.8,1505.1h0M342,1506.5h0M342.4,1506.2h0M342.6,1505.8h0M343.1,1514.4h0M343.4,1504.9h0M343.8,1504.8h0M343.8,1506.2h0M344.3,1507.1h0M344.7,1505.8h0M344.8,1507.4h0M345.4,1504.5h0M345.6,1506.6h0M345.9,1505.7h0M346.3,1509.4h0M346.7,1512.2h0M346.8,1503.3h0M347.3,1502.9h0M347.6,1504.7h0M347.8,1509.7h0M348.1,1502.4h0M348.7,1506h0M349,1510.6h0M349.4,1505.6h0M349.6,1508.8h0M349.9,1508.2h0M350.1,1504.7h0M350.7,1502.5h0M350.9,1508.7h0M351.2,1505h0M351.6,1513.4h0M351.7,1504.3h0M352.1,1509.3h0M352.6,1506.8h0M352.9,1502.8h0M353,1508h0M353.5,1509.5h0M353.7,1507.4h0M354.2,1505.2h0M354.5,1507.1h0M354.7,1512.4h0M355.3,1506.9h0M355.5,1504.1h0M355.7,1500.2h0M356,1505.1h0M356.3,1508.5h0M356.9,1503.9h0M357,1507.2h0M357.3,1504.8h0M357.9,1504.7h0M357.9,1506h0M358.2,1504.4h0M358.7,1506.5h0M359.1,1511.7h0M359.5,1503.9h0M359.8,1506.2h0M359.9,1506.6h0M360.3,1502.9h0M360.7,1504.2h0M361.1,1505.6h0M361.2,1504.7h0M361.8,1507.2h0M362,1507.1h0M362.2,1507.5h0M362.7,1505.3h0M363.1,1504.5h0M363.4,1499.2h0M363.6,1503.9h0M363.9,1503.9h0M364.4,1504.3h0M364.5,1505h0M364.8,1504.9h0M365.2,1505.1h0M365.5,1506.7h0M366,1498.1h0M366.1,1506.2h0M366.5,1502.9h0M366.9,1507.1h0M367.1,1503.4h0M367.6,1505.7h0M368,1509h0M368.2,1507.4h0M368.5,1511.4h0M368.7,1507.2h0M369.2,1500.9h0M369.4,1508.3h0M370,1505.1h0M370.1,1507.5h0M370.4,1498.5h0M370.8,1503.4h0M371.3,1505.6h0M371.6,1505.7h0M371.9,1501.6h0M372.1,1506.2h0M372.5,1503h0M372.7,1504h0M373,1508h0M373.4,1507.4h0M373.7,1507h0M374.1,1503.4h0M374.6,1500.6h0M374.8,1508.1h0M375,1503.6h0M375.3,1506.2h0M375.7,1506.2h0M376.1,1508.5h0M376.3,1502.8h0M376.7,1506.5h0M377,1499.9h0M377.4,1511.8h0M377.7,1506.6h0M378,1506.6h0M378.4,1505.6h0M378.8,1506.8h0M378.9,1503.1h0M379.2,1506.1h0M379.6,1503.5h0M380.1,1507.8h0M380.4,1507.3h0M380.6,1503.9h0M380.9,1508.7h0M381.4,1502.8h0M381.6,1504.5h0M381.9,1504.1h0M382.3,1505h0M382.5,1504.8h0M382.8,1502.2h0M383.4,1505h0M383.6,1506.1h0M384,1511.1h0M384.3,1509.7h0M384.4,1504.1h0M385,1508h0M385.3,1503.4h0M385.4,1503.7h0M385.9,1500.7h0M386,1503h0M386.3,1505.2h0M386.9,1504.7h0M387.1,1503.5h0M387.5,1509.3h0M387.9,1503.9h0M388.1,1499h0M388.5,1501h0M388.7,1510.1h0M389.3,1503.8h0M389.3,1502.3h0M389.7,1505.4h0M390.2,1504.4h0M390.4,1507.8h0M390.8,1504.1h0M391,1506.8h0M391.3,1506h0M391.9,1506h0M392.1,1506.6h0M392.3,1506.1h0M392.7,1503.3h0M393,1508.3h0M393.5,1507.3h0M393.6,1508.5h0M394,1504.2h0M394.4,1506.4h0M394.7,1508.5h0M395.1,1501.6h0M395.4,1505.6h0M395.5,1507.4h0M396,1506.1h0M396.4,1503.7h0M396.5,1502.4h0M396.8,1511.5h0M397.4,1507h0M397.5,1504.2h0M397.8,1508.2h0M398.4,1505.3h0M398.7,1502.6h0M398.9,1504.3h0M399.2,1505.4h0M399.6,1503.1h0M399.9,1503.8h0M400.2,1504h0M400.6,1505.2h0M400.8,1500.9h0M401.3,1506.7h0M401.6,1506.4h0M401.8,1509.1h0M402.2,1506.2h0M402.5,1500.5h0M403,1503.5h0M403.2,1507.3h0M403.6,1506.3h0M403.9,1504.3h0M404.3,1500h0M404.4,1501.9h0M404.7,1505.3h0M405.2,1507.7h0M405.5,1501.3h0M405.7,1510.7h0M406.1,1506.2h0M406.5,1503.1h0M406.8,1507.6h0M407.1,1504.3h0M407.3,1506.9h0M407.8,1507.5h0M408.2,1505.9h0M408.5,1513.4h0M408.8,1507.4h0M409.1,1505.2h0M409.5,1504.7h0M409.8,1507.1h0M410.1,1502.5h0M410.3,1506.3h0M410.7,1508.6h0M410.9,1507.5h0M411.4,1505.9h0M411.6,1506.6h0M412,1503.9h0M412.4,1504.3h0M412.7,1504.5h0M412.9,1506.8h0M413.2,1505.1h0M413.7,1499.9h0M414,1507.7h0M414.3,1502.9h0M414.6,1504.1h0M415.1,1499.8h0M415.3,1500.3h0M415.6,1505.6h0M415.8,1497.6h0M416.3,1506.9h0M416.5,1505.1h0M417.1,1503.8h0M417.4,1509.5h0M417.4,1506.3h0M417.8,1509.5h0M418.2,1502.4h0M418.6,1505.3h0M418.8,1506h0M419.2,1506.9h0M419.5,1501.6h0M419.9,1508.3h0M420.2,1509.5h0M420.4,1502.6h0M420.9,1507.3h0M421,1506.3h0M421.4,1506.1h0M421.9,1506.4h0M422.2,1499.5h0M422.6,1506.5h0M422.8,1501.3h0M423.2,1503.8h0M423.6,1504.3h0M423.9,1503.2h0M424.2,1509.5h0M424.3,1504.3h0M424.8,1506.7h0M425,1508.2h0M425.3,1509h0M425.6,1509h0M425.9,1500.4h0M426.4,1502.2h0M426.7,1500.8h0M427,1504.9h0M427.4,1502.4h0M427.8,1504.7h0M427.9,1501.3h0M428.3,1504h0M428.8,1500.5h0M429,1501.6h0M429.4,1508.7h0M429.6,1503.2h0M429.9,1509.6h0M430.3,1503.1h0M430.6,1505.8h0M430.9,1504h0M431.3,1508.4h0M431.6,1505.7h0M431.8,1502h0M432.2,1504.2h0M432.6,1505.1h0M433,1499.7h0M433.3,1504.9h0M433.6,1508.1h0M433.9,1499.9h0M434.2,1502.6h0M434.4,1501.2h0M434.9,1506.2h0M435.2,1496.6h0M435.4,1496.5h0M435.8,1503.1h0M436.2,1504.5h0M436.5,1504.4h0M436.8,1498h0M437,1504.8h0M437.6,1504.4h0M438,1503.7h0M438.2,1505h0M438.4,1506.9h0M438.8,1504.1h0M439,1505.3h0M439.6,1505.3h0M439.7,1502.6h0M440,1504.9h0M440.5,1509.3h0M440.8,1505.4h0M441.2,1500.7h0M441.4,1502.3h0M441.9,1503.3h0M442.2,1504.4h0M442.6,1508.4h0M442.8,1502.2h0M443,1508.2h0M443.3,1503.5h0M443.7,1504.5h0M444.1,1506.6h0M444.3,1507h0M444.8,1501.1h0M445.2,1506.2h0M445.3,1504h0M445.6,1504.1h0M446.1,1500.5h0M446.3,1503.8h0M446.6,1503.1h0M447,1504.5h0M447.4,1498.3h0M447.6,1505h0M448.1,1503.9h0M448.4,1507.3h0M448.6,1500.8h0M448.9,1504h0M449.3,1502.3h0M449.7,1504.4h0M450,1505.5h0M450.3,1506.7h0M450.6,1501.9h0M450.8,1507.5h0M451.3,1501.6h0M451.7,1502.1h0M452,1498.5h0M452.3,1502.6h0M452.7,1504.4h0M453,1501.4h0M453.4,1501.5h0M453.5,1500.3h0M453.9,1509.1h0M454.1,1503h0M454.5,1498.8h0M454.8,1510.3h0M455.1,1501.8h0M455.4,1501.7h0M455.8,1504.9h0M456.3,1504.3h0M456.6,1502.9h0M456.7,1502.9h0M457.1,1497.4h0M457.6,1505.3h0M457.7,1501.9h0M458.1,1506.7h0M458.5,1505.1h0M458.7,1500.5h0M459.2,1509.7h0M459.5,1502h0M459.7,1503.1h0M460,1497.9h0M460.5,1505.2h0M460.8,1501.7h0M460.9,1501.9h0M461.5,1504.2h0M461.9,1501.6h0M462,1501.8h0M462.4,1505.1h0M462.6,1501.6h0M463,1505.7h0M463.4,1505.7h0M463.6,1505.1h0M464,1498.1h0M464.3,1503h0M464.6,1504.6h0M464.9,1502.6h0M465.3,1506h0M465.6,1502.4h0M466,1503.3h0M466.4,1506.9h0M466.6,1502.6h0M467.1,1502.6h0M467.3,1506.4h0M467.7,1501.5h0M467.9,1505.6h0M468.1,1501.7h0M468.6,1507.1h0M468.9,1503.4h0M469.2,1504.2h0M469.7,1505.6h0M469.8,1502.6h0M470.3,1505.1h0M470.5,1500.6h0M471,1502.1h0M471.3,1498h0M471.4,1509.3h0M471.8,1500h0M472.2,1500.7h0M472.6,1500.7h0M472.9,1513.9h0M473.3,1504.8h0M473.6,1504h0M473.7,1499h0M474.1,1500.9h0M474.5,1501.7h0M474.9,1503.3h0M475,1510.4h0M475.4,1504.1h0M475.9,1503.8h0M476.2,1507.6h0M476.5,1501.8h0M476.8,1503.5h0M477.2,1502.8h0M477.3,1499.9h0M477.9,1506.9h0M478.1,1502.4h0M478.3,1504.3h0M478.8,1508.7h0M479,1503.4h0M479.5,1501.8h0M479.7,1506.2h0M480.1,1501.3h0M480.3,1506.1h0M480.8,1499.3h0M481,1497.6h0M481.4,1500.6h0M481.7,1509.5h0M482,1499.4h0M482.2,1501.3h0M482.7,1501.9h0M482.9,1499.5h0M483.3,1504.8h0M483.7,1506.7h0M484,1505.8h0M484.3,1508.9h0M484.5,1503.1h0M485,1505.1h0M485.1,1498.1h0M485.6,1507.7h0M485.8,1501.8h0M486.2,1500.9h0M486.6,1500.7h0M486.7,1502.6h0M487.4,1501.7h0M487.5,1505.6h0M487.9,1504.3h0M488.3,1503.4h0M488.5,1503.5h0M488.9,1498.5h0M489.1,1501.9h0M489.5,1506h0M489.8,1506h0M490.3,1505.9h0M490.4,1503.6h0M490.8,1505.6h0M491.1,1500.6h0M491.3,1501.7h0M491.7,1502.9h0M492.3,1505.1h0M492.5,1504.3h0M492.8,1498.8h0M493,1501.4h0M493.6,1501.8h0M493.7,1501.4h0M494.2,1501.6h0M494.3,1506.7h0M494.7,1503.5h0M495.2,1504.2h0M495.5,1499.1h0M495.8,1505h0M496.2,1503.4h0M496.3,1500.7h0M496.6,1502.8h0M497.1,1504.4h0M497.3,1499.7h0M497.8,1506.5h0M498.1,1501h0M498.3,1502.5h0M498.7,1506h0M499.1,1508.3h0M499.5,1504h0M499.7,1505.7h0M500.1,1502h0M500.3,1505.6h0M500.7,1502.3h0M500.8,1497.2h0M501.3,1505h0M501.6,1502.9h0M501.9,1497.2h0M502.3,1504.5h0M502.7,1501.8h0M503,1504.2h0M503.4,1498.2h0M503.5,1503.3h0M503.8,1504.1h0M504.3,1504.6h0M504.6,1501.8h0M504.8,1505.4h0M505.4,1504.4h0M505.6,1505.4h0M505.9,1505.1h0M506.1,1505.7h0M506.7,1499.3h0M506.8,1506.1h0M507.1,1503.6h0M507.6,1508.2h0M507.7,1503.6h0M508.1,1506.4h0M508.5,1506.9h0M508.9,1501.6h0M509.3,1500h0M509.6,1500.5h0M509.8,1507.8h0M510,1505.6h0M510.5,1505.6h0M510.7,1505.5h0M511.1,1500.4h0M511.4,1500.4h0M511.9,1501.7h0M512.2,1505.9h0M512.4,1504.5h0M512.9,1503.1h0M351.1,1499.6h0M351.7,1499.8h0M351.8,1502.1h0M352.4,1498.2h0M353.2,1490.2h0M353.7,1496.8h0M354.6,1496.3h0M354.9,1483.5h0M355.3,1487.8h0M356,1487.8h0M356.9,1481.7h0M357.5,1480.6h0M365.7,1495.2h0M367.2,1476.2h0M473.9,1501.3h0M474.7,1501h0M476.3,1497.7h0M476.5,1497.9h0M477.6,1496.8h0M478.5,1499.7h0M480.2,1491.2h0M480.9,1486.8h0M482.4,1494.6h0M483.3,1497.9h0M483.9,1495h0M485.2,1493.6h0M486.1,1496.9h0M486.7,1487.1h0M487.9,1489.6h0M488.8,1489.9h0M489.2,1489.7h0M489.9,1487.8h0M490.3,1488.9h0M491.3,1490h0M491.8,1486.2h0M492.1,1492h0M492.8,1487.7h0M493.4,1486.9h0M494.5,1477.7h0M495.2,1490.6h0M495.6,1477.8h0M496.3,1487.7h0M492,1499.3h0M492.7,1500.5h0M493.7,1494.1h0M494.7,1494.4h0M495.7,1498.8h0M496.7,1502.3h0M497.6,1501h0M498.3,1499h0M499.2,1499.7h0M499.8,1504.2h0M500.2,1500.4h0M501.6,1497.2h0M501.9,1500h0M503.5,1501.1h0M503.8,1498.1h0M505.2,1506.6h0M505.7,1501.7h0M506.8,1503.5h0M507,1497.3h0M507.9,1503.9h0M509.5,1501.3h0M509.7,1499.6h0M510.4,1501.8h0M512,1495.4h0M512.6,1496.8h0M632.1,1502.3h0M632.3,1495.7h0M632.7,1493.2h0M633,1496.1h0M633.4,1499.8h0M633.8,1497.8h0M634,1497.9h0M634.5,1494.6h0M635,1489.7h0M635.1,1490.2h0M635.7,1497.8h0M635.9,1496.2h0M636.1,1503.1h0M636.6,1500.8h0M637,1499h0M637.4,1494.3h0M637.5,1504.5h0M638.1,1504.1h0M638.2,1504.3h0M638.6,1492.6h0M639.1,1497.6h0M639.4,1500.8h0M639.8,1494.2h0M640.3,1504.8h0M640.4,1498.8h0M640.9,1503.1h0M641.3,1501.8h0M641.4,1491.3h0M641.8,1498.6h0M642.2,1494.8h0M642.7,1495.7h0M643,1495.8h0M643.1,1499.6h0M643.6,1504.7h0M643.9,1497.6h0M644.4,1501h0M644.8,1499.8h0M644.9,1500.3h0M645.2,1499.6h0M645.7,1504.2h0M646,1498.9h0M646.6,1497.7h0M646.6,1500.8h0M647.3,1500.1h0M647.4,1497.3h0M647.9,1496.6h0M648.3,1494.7h0M648.5,1504.8h0M649,1507.6h0M649.3,1501.4h0M649.6,1501.5h0M650,1503.3h0M650.4,1501.6h0M650.5,1501.8h0M650.8,1511h0M651.3,1497.2h0M651.8,1499.3h0M652.1,1493.5h0M652.2,1496.6h0M652.9,1502.6h0M653.3,1489.8h0M653.3,1501.5h0M653.9,1498.1h0M654,1497.6h0M654.6,1498.7h0M654.8,1501.8h0M655.2,1495.4h0M655.5,1496h0M655.9,1501.2h0M656.4,1499.9h0M656.8,1497.3h0M656.9,1493.6h0M657.3,1505.3h0M657.6,1492.9h0M658,1494.9h0M658.3,1498.9h0M658.9,1497.6h0M659,1506.3h0M659.5,1502.6h0M659.8,1502.9h0M660.3,1498.9h0M660.6,1503.9h0M661,1502.1h0M661.1,1497.8h0M661.7,1495.4h0M661.9,1491.4h0M662.1,1493.1h0M662.6,1493.2h0M663.1,1501.7h0M663.2,1498.5h0M663.5,1504.8h0M664.1,1500.1h0M664.4,1502h0M664.9,1503.3h0M665.2,1498.2h0M665.4,1492.8h0M665.9,1501.8h0M666.2,1499.4h0M666.5,1495.4h0M666.8,1505.3h0M667.1,1503.4h0M667.7,1503.4h0M668.1,1500.5h0M668.2,1503.9h0M668.5,1505.7h0M668.9,1500.4h0M669.4,1505.4h0M669.6,1500.1h0M670,1504.1h0M670.2,1499.2h0M670.7,1498.1h0M671.1,1501.8h0M671.3,1498.9h0M671.9,1498.7h0M672.2,1500.5h0M672.5,1503.4h0M672.7,1487.5h0M673,1498.1h0M673.6,1502.5h0M673.8,1504.8h0M674.1,1495.3h0M674.4,1504.1h0M674.9,1504.9h0M675.1,1510.3h0M675.6,1508.6h0M675.9,1508.4h0M676.2,1508.3h0M676.6,1507.3h0M677,1499.9h0M677.4,1504h0M677.7,1494.1h0M678,1501.7h0M678.3,1502.8h0M678.9,1508.1h0M679.3,1501.6h0M679.7,1503.8h0M679.8,1507.4h0M680.2,1504.4h0M680.4,1500.1h0M680.8,1504.3h0M681.2,1510.4h0M681.6,1509.6h0M681.8,1508.9h0M682.4,1508.5h0M682.8,1503.7h0M683.1,1505.3h0M683.3,1503.9h0M683.7,1506.2h0M684.1,1503.4h0M684.3,1504.5h0M684.7,1510.4h0M685.2,1506.8h0M685.4,1504.5h0M685.7,1514h0M686.3,1501.1h0M686.6,1503.4h0M686.8,1502.6h0M687.2,1506h0M687.6,1506.2h0M687.9,1510h0M688.3,1512.7h0M688.7,1506.4h0M689,1500.9h0M689.2,1511h0M689.6,1506.3h0M653.3,1486.6h0M654.3,1492.5h0M655.4,1493h0M656.5,1488.3h0M657.5,1486.1h0M658.8,1481.1h0M659.3,1490.3h0M661.2,1488.4h0M662.2,1480.5h0M662.6,1480h0M688.7,1462h0M689.3,1475.8h0M689.6,1463.3h0M690,1469.7h0M690.4,1463.4h0M690.6,1475.8h0M691,1474.7h0M691.4,1470.6h0M692,1465h0M692.2,1474.5h0M692.7,1466.2h0M692.8,1461.3h0M693.5,1471.5h0M693.6,1471.5h0M694.2,1475.7h0M694.3,1467.4h0M695,1473.3h0M695.3,1466.9h0M695.7,1472.4h0M696,1467.7h0M696.2,1469.3h0M696.6,1460.6h0M697,1466.5h0M697.5,1472.5h0M697.9,1469.7h0M698.4,1472.8h0M698.5,1466.7h0M699.1,1472.1h0M699.3,1469h0M699.8,1473.3h0M700.1,1465.1h0M700.4,1475.7h0M701,1465.9h0M701.2,1470.1h0M701.8,1466.7h0M702.1,1469.5h0M702.6,1469.6h0M702.7,1461.2h0M703.3,1474h0M703.4,1469.2h0M704,1470.1h0M704.1,1472.5h0M704.5,1469.8h0M705.2,1453.9h0M705.6,1469h0M705.8,1471.3h0M706.4,1460.8h0M706.7,1480h0M707,1468.1h0M707.3,1478.8h0M707.5,1469.2h0M708,1468.3h0M708.5,1469.5h0M708.7,1465.6h0M709.2,1474.9h0M709.8,1469.6h0M709.8,1469h0M710.5,1467.2h0M710.8,1473.5h0M710.9,1475.8h0M711.6,1472.1h0M711.8,1463.5h0M712.3,1470.1h0M712.5,1465.5h0M713.1,1471.4h0M713.3,1468.2h0M713.8,1473.1h0M714.2,1464.7h0M714.5,1467.8h0M715,1472.6h0M715.4,1469.9h0M715.5,1469.1h0M716.1,1464.1h0M716.4,1474.3h0M716.8,1464.4h0M717.3,1464.9h0M717.4,1475.6h0M717.9,1474.5h0M718.2,1468.4h0M718.8,1461.7h0M719.2,1474.9h0M719.5,1464.6h0M719.7,1468.8h0M720,1473.4h0M720.3,1470.1h0M720.7,1476.3h0M721.1,1470.2h0M721.8,1466.2h0M721.9,1473.8h0M722.4,1471.8h0M722.9,1473.9h0M723.2,1466.9h0M723.5,1464.6h0M724,1458.8h0M724.3,1475.1h0M724.6,1468.8h0M724.9,1478.1h0M725.3,1471.6h0M726,1480.2h0M726.3,1457.6h0M726.5,1466.8h0M727.1,1459.9h0M727.4,1473.8h0M727.8,1471.8h0M728.2,1467.1h0M728.6,1472.1h0M729,1469.5h0M729.1,1469.2h0M729.6,1477.8h0M730,1464.4h0M730.4,1465.8h0M730.8,1464.5h0M731.3,1466.1h0M731.5,1471h0M732,1467.5h0M732.1,1468h0M732.7,1472.1h0M733.1,1462.7h0M733.5,1462.4h0M733.9,1467.3h0M734.2,1463.5h0M734.5,1475.2h0M735,1471h0M735.2,1469.5h0M735.8,1471.6h0M736.1,1464.6h0M736.5,1467.7h0M736.8,1473.8h0M737,1468.1h0M737.5,1466.5h0M737.9,1463.3h0M738.1,1466.2h0M738.6,1464h0M738.9,1468.1h0M739.6,1474.4h0M739.8,1462.6h0M740.1,1467h0M740.5,1472h0M741,1462h0M741.1,1469.2h0M741.7,1460.6h0M742,1471.5h0M742.3,1469.9h0M742.7,1461.5h0M743.3,1469.6h0M743.6,1462.2h0M743.8,1475.2h0M744.2,1469.7h0M744.7,1476.8h0M745,1477h0M745.3,1475h0M745.8,1469.2h0M746.4,1467.4h0M746.6,1463.9h0M746.8,1473.7h0M747.3,1467.6h0M747.8,1457.2h0M748,1470h0M748.4,1467.2h0M748.7,1469.5h0M749.1,1463.8h0M749.6,1470.3h0M749.8,1458.5h0M750.4,1478.3h0M750.9,1472.5h0M751,1470.5h0M751.4,1466.4h0M751.7,1465.5h0M752.1,1462h0M752.7,1474.2h0M752.9,1474.3h0M753.5,1467.2h0M753.7,1474.6h0M754.3,1469.4h0M754.4,1464.4h0M755,1468.9h0M755.1,1470.6h0M755.5,1470.7h0M756.1,1465h0M756.4,1466h0M756.7,1468.6h0M757.1,1477.6h0M757.6,1468.7h0M757.9,1475h0M758.3,1469.4h0M758.6,1475.8h0M759.1,1470.2h0M759.6,1473.8h0M759.7,1474.4h0M760.2,1470.8h0M760.4,1470h0M760.9,1470.9h0M761.3,1471.9h0M761.9,1477.3h0M761.9,1464.7h0M762.4,1471.7h0M762.6,1466.9h0M763.1,1471.4h0M763.5,1468.6h0M763.9,1465.3h0M764.3,1473.7h0M764.9,1463.2h0M765.2,1473.7h0M765.5,1464.2h0M765.9,1471.3h0M766.3,1467.2h0M766.6,1472.9h0M766.8,1463.6h0M767.4,1459.4h0M767.6,1476h0M768.2,1468.5h0M768.5,1471.4h0M768.7,1468.7h0M769.1,1467.9h0M769.7,1475.8h0M770.2,1473.1h0M770.2,1463.5h0M770.8,1476.7h0M771,1466.8h0M771.4,1464.7h0M771.8,1471.9h0M772.1,1474.6h0M772.5,1476h0M773.1,1468.9h0M773.4,1463h0M773.7,1473.5h0M774.2,1471h0M774.4,1472.5h0M774.8,1470.4h0M775.2,1476.2h0M775.6,1463.6h0M776,1466.2h0M776.5,1468h0M776.9,1470.1h0M777,1456.3h0M777.4,1471.9h0M777.8,1463h0M778.4,1461.2h0M778.8,1467.5h0M779.1,1472.9h0M779.4,1471.2h0M779.9,1464.8h0M780.1,1474.3h0M780.7,1471.1h0M780.9,1473.9h0M781.3,1466.2h0M781.8,1466.8h0M781.9,1467.2h0M782.4,1450.7h0M782.9,1460h0M783.4,1452.7h0M783.5,1458.2h0M784,1453.6h0M784.2,1447.9h0M784.7,1455.1h0M785,1458.2h0M785.6,1450.7h0M785.9,1444.4h0M786.4,1460h0M786.5,1455.5h0M786.8,1451h0M787.2,1455.3h0M787.9,1460.6h0M788.3,1455.7h0M788.6,1454.4h0M789,1450.1h0M789.4,1453.6h0M789.7,1450.4h0M789.9,1451.7h0M790.3,1460.9h0M790.8,1455.9h0M791.2,1455.2h0M791.7,1461.7h0M791.9,1451.8h0M792.5,1457.1h0M792.5,1459.5h0M793,1448.6h0M793.4,1453.8h0M793.8,1454.8h0M794.2,1451.3h0M794.6,1449.6h0M795.2,1449.1h0M795.5,1451.5h0M795.8,1454.4h0M796,1448.4h0M796.6,1456h0M797,1452.2h0M797.4,1452h0M797.8,1454.7h0M797.9,1453.2h0M798.5,1455.2h0M798.9,1458.1h0M799.3,1445.4h0M799.8,1453.2h0M800.1,1449.5h0M800.4,1457h0M800.6,1451.6h0M801.1,1460.5h0M801.3,1451.3h0M802,1448.9h0M802.2,1451.3h0M802.5,1455.7h0M802.9,1455.4h0M803.3,1444.7h0M803.7,1455.5h0M804.3,1458.2h0M804.6,1450.6h0M804.9,1457.8h0M805.3,1441.3h0M805.7,1454.1h0M806.1,1444.3h0M806.5,1448.8h0M806.8,1450.3h0M807.3,1448.2h0M807.5,1453.6h0M808,1447.1h0M808.2,1448.6h0M808.8,1451.1h0M809.1,1449.3h0M809.4,1452.6h0M810,1451h0M810.2,1439.1h0M808.5,1434.5h0M809.3,1443.9h0M810.1,1450.6h0M810.3,1455.3h0M811.5,1443.4h0M811.6,1436.1h0M812.5,1447.4h0M813,1449.4h0M813.4,1454.8h0M814.1,1449.9h0M814.8,1440.5h0M815.4,1455.8h0M816.6,1442.5h0M814.6,1462.1h0M815.3,1460.8h0M815.7,1449.9h0M816,1451.5h0M816.1,1450.2h0M816.5,1447.4h0M817,1457.9h0M817.3,1459.4h0M817.8,1452.9h0M818.1,1445.3h0M818.6,1461.6h0M819,1450.2h0M819.4,1447.6h0M819.6,1456.8h0M820.1,1455h0M820.3,1460.3h0M820.6,1444.8h0M821,1459h0M821.4,1450.3h0M821.9,1451.8h0M822.5,1465.5h0M822.8,1448.2h0M823,1450.8h0M823.2,1452.4h0M823.9,1458.1h0M824.3,1453.9h0M824.5,1448h0M824.8,1447.2h0M825.2,1453h0M825.6,1451.2h0M826,1463h0M826.3,1453.1h0M826.7,1458.1h0M827.3,1449.7h0M827.6,1456.1h0M828.1,1459h0M828.2,1454.3h0M828.6,1445.1h0M829,1460.5h0M829.5,1450.1h0M829.8,1444.4h0M830.3,1456.1h0M830.7,1454.2h0M831.1,1452.2h0M831.3,1453.3h0M831.8,1447.3h0M832.3,1454.7h0M832.6,1454.7h0M833,1447.4h0M833.3,1463.3h0M833.5,1454.2h0M834,1461.5h0M834.5,1454.9h0M834.7,1460.4h0M835,1452.8h0M835.7,1446.6h0M835.9,1455.9h0M836.3,1459.5h0M836.6,1452.3h0M837.2,1456.8h0M837.5,1451h0M837.6,1458.7h0M838.3,1448h0M838.5,1439.3h0M838.8,1449.1h0M839.3,1471.7h0M839.7,1455.4h0M840,1455.4h0M840.3,1448.6h0M841,1463.9h0M841.1,1455h0M841.7,1450.6h0M842.2,1456.5h0M842.3,1457.1h0M842.7,1468.2h0M843.3,1459.4h0M843.7,1450.5h0M843.9,1451.2h0M844.3,1453.3h0M844.6,1444.2h0M845,1450.6h0M845.6,1457h0M845.8,1451.6h0M846.3,1448.2h0M846.4,1458.8h0M846.9,1455h0M847.1,1448.9h0M847.5,1445.3h0M848,1458.8h0M848.5,1443.8h0M848.9,1451.8h0M849.3,1460.4h0M849.7,1451.9h0M849.9,1452.1h0M850.5,1453.3h0M850.6,1447.6h0M850.9,1451.7h0M851.4,1454.1h0M851.8,1459.1h0M852.4,1446.6h0M852.4,1463.6h0M853.2,1458h0M853.5,1456.1h0M853.6,1453.4h0M854,1455h0M854.5,1461h0M855,1459.9h0M855.1,1455.7h0M855.8,1460.1h0M856.1,1456.2h0M856.5,1458h0M856.7,1453.4h0M857.3,1449h0M857.5,1463h0M857.8,1453.6h0M858.1,1462.9h0M858.7,1449.9h0M858.9,1461.3h0M859.5,1464.6h0M859.7,1438.4h0M860.3,1450.6h0M860.5,1455.6h0M861,1463.1h0M861.3,1458.1h0M861.6,1460.4h0M862,1456.3h0M862.4,1467.1h0M862.7,1455.5h0M863.2,1445.4h0M863.4,1451.8h0M863.8,1460.7h0M864.4,1466.9h0M864.8,1456h0M865.2,1451.1h0M865.6,1459.4h0M865.9,1457.9h0M866.3,1458.9h0M866.5,1453.1h0M867,1458.4h0M867.5,1450.1h0M867.7,1465.9h0M868,1450.5h0M868.6,1456.1h0M868.9,1462.6h0M869.3,1453h0M869.8,1458.8h0M870,1457.6h0M870.3,1453.5h0M870.7,1458.7h0M871.2,1462.6h0M871.7,1445.2h0M871.9,1464.6h0M872.3,1451.6h0M872.7,1459.8h0M873.1,1449.2h0M873.6,1462.2h0M873.7,1447.3h0M874.1,1454.4h0M874.4,1442.3h0M874.9,1465.1h0M875.4,1454.1h0M875.6,1463.3h0M876,1450h0M876.3,1455.9h0M876.7,1456.2h0M877.1,1453.2h0M877.6,1460.8h0M878,1454.8h0M878.2,1457.2h0M878.7,1458.1h0M879.1,1458.6h0M879.5,1451.3h0M879.7,1454.1h0M880.4,1452.7h0M880.7,1456h0M880.9,1461.1h0M881.6,1458.7h0M881.8,1458.6h0M843.6,1466.2h0M844.9,1472.4h0M845.7,1481.3h0M847.2,1477.5h0M848.2,1464.5h0M849,1483.1h0M850.1,1467.8h0M850.6,1480.1h0M851.7,1462.6h0M852.7,1472.9h0M853.6,1470.7h0M855.4,1469.9h0M855.4,1456.5h0M856.7,1476.4h0M858.4,1470.6h0M859.4,1471.2h0M880.3,1491.4h0M880.6,1495.7h0M880.7,1494.2h0M881.3,1496.2h0M881.6,1499.1h0M881.9,1497.6h0M882.4,1490.4h0M882.7,1496h0M883.2,1491.2h0M883.7,1490.8h0M884,1486.4h0M884.2,1488h0M884.5,1487.2h0M884.9,1486.6h0M885.4,1489.4h0M885.6,1495.5h0M886.2,1488.5h0M886.4,1490h0M886.9,1500.7h0M887.3,1494.5h0M887.8,1493.5h0M888,1499.6h0M888.4,1502.6h0M888.8,1498.3h0M889.1,1490.4h0M889.6,1495.6h0M890.1,1492.5h0M890.5,1496.7h0M890.9,1494.6h0M891.1,1489.5h0M891.4,1499.6h0M892,1498.7h0M892.4,1497.4h0M892.6,1494h0M893.1,1493.8h0M893.4,1494.1h0M893.9,1493.7h0M894.1,1488.4h0M894.7,1503.2h0M894.9,1488.6h0M895.5,1497.5h0M895.9,1497.1h0M896.3,1490.8h0M896.4,1494.1h0M896.9,1494.4h0M897.2,1494.6h0M897.6,1495.5h0M898.1,1502.6h0M898.5,1501.2h0M898.9,1485.7h0M899.2,1497.4h0M899.5,1498.8h0M899.8,1496.1h0M900.3,1500h0M900.5,1493.6h0M901.2,1498.3h0M901.4,1490.6h0M901.8,1493.4h0M902.2,1507.1h0M902.8,1481.6h0M902.9,1473.7h0M903.5,1475.4h0M903.8,1475.3h0M904,1473.5h0M904.5,1475.9h0M904.8,1477.4h0M905.2,1473.3h0M905.5,1481.4h0M905.9,1478h0M906.5,1474.2h0M906.8,1481h0M907,1471.9h0M907.7,1477.1h0M907.7,1486.3h0M908.1,1475.4h0M908.7,1478.5h0M909.2,1469.6h0M909.6,1477.4h0M909.8,1479.9h0M910.2,1478.9h0M910.5,1474.7h0M910.9,1488.1h0M911.2,1471.1h0M911.8,1473.2h0M912,1471.8h0M912.4,1480.5h0M912.7,1477.5h0M913.2,1474.4h0M913.6,1468.9h0M914,1478.8h0M914.1,1480.6h0M914.6,1473.6h0M915.3,1481.7h0M915.4,1483.2h0M916,1473.1h0M916.2,1482.5h0M916.5,1477.4h0M917.1,1473.5h0M917.2,1480.8h0M917.9,1485.9h0M918.1,1476h0M918.3,1477.9h0M919,1480.2h0M919.1,1478.1h0M919.5,1477.5h0M920.1,1475.8h0M920.2,1476.5h0M920.6,1481.4h0M921.3,1478.2h0M921.6,1489.2h0M922.1,1478.2h0M922.2,1476.7h0M922.6,1485.4h0M923.2,1470.6h0M923.6,1476.2h0M923.9,1480.2h0M924.2,1484.7h0M924.4,1480.9h0M925.1,1474.9h0M925.5,1473.5h0M925.9,1478.7h0M926.2,1471.7h0M926.3,1477h0M926.7,1485.1h0M927.1,1475.1h0M927.5,1484h0M927.8,1477.2h0M928.2,1473.5h0M928.9,1477.5h0M929,1477.6h0M929.6,1485h0M930,1473.7h0M930.4,1476.2h0M930.7,1477.1h0M931.1,1478.8h0M931.4,1476.3h0M931.7,1484.2h0M932.2,1466.4h0M932.7,1476h0M933,1482.7h0M933.3,1484.3h0M933.6,1486.3h0M934.2,1489.3h0M934.5,1475.7h0M934.7,1474.2h0M935.2,1472.2h0M935.6,1481.9h0M935.9,1476.1h0M936.5,1474.4h0M936.9,1482.2h0M937,1484h0M937.3,1476.9h0M937.7,1477.7h0M938.4,1480.9h0M938.4,1479.5h0M938.8,1475.2h0M939.3,1477.6h0M939.6,1476.9h0M940,1471h0M940.4,1477.3h0M940.9,1481.8h0M941.2,1478.1h0M941.5,1478.5h0M942.1,1479.7h0M942.3,1471h0M942.6,1482.7h0M943,1475.3h0M943.5,1482h0M944,1475.7h0M944.4,1481.4h0M944.8,1475.5h0M945.1,1484.7h0M945.4,1478.4h0M945.9,1486.5h0M946.1,1482.5h0M946.4,1473.5h0M947,1482.8h0M947.4,1477.2h0M947.8,1482.5h0M948.1,1480.4h0M948.3,1476.2h0M948.7,1479.7h0M949.3,1473.8h0M934.3,1493.8h0M934.3,1489.9h0M936.4,1495.5h0M937.3,1488.9h0M938.9,1495.7h0M939.9,1487.7h0M941.6,1482.9h0M942.5,1491.5h0M944,1500.1h0M945.5,1488.7h0M946.2,1488h0M948,1489.2h0M948.9,1486.4h0M947.7,1472.9h0M948,1477.1h0M948.2,1476.5h0M948.7,1464.9h0M948.9,1476.3h0M949.3,1460.9h0M949.9,1464.5h0M950.3,1474.8h0M950.4,1467.8h0M950.8,1472.8h0M951.3,1464.1h0M951.8,1464.8h0M952.2,1472.5h0M952.4,1468.9h0M952.7,1456.9h0M953,1460.3h0M953.5,1466.8h0M954.1,1461.5h0M954.4,1469.1h0M954.6,1460.6h0M955,1468.8h0M955.3,1459.2h0M955.7,1461.6h0M956.3,1458.5h0M956.7,1463.1h0M957,1470.2h0M957.3,1469.2h0M957.9,1456.8h0M958.1,1453.8h0M958.4,1459.2h0M958.9,1446.2h0M959.2,1471.7h0M959.7,1459.7h0M959.9,1448.7h0M960.5,1463.1h0M960.8,1460.8h0M961.3,1462.5h0M961.6,1451.9h0M961.8,1447.9h0M962.1,1453.8h0M962.6,1459.2h0M962.9,1463.4h0M963.5,1456.4h0M963.9,1448.2h0M964.1,1460.5h0M964.7,1453.4h0M964.9,1448.7h0M965.2,1456.2h0M965.6,1454.3h0M965.8,1456.8h0M966.5,1450.1h0M966.7,1448.4h0M967,1442.6h0M967.7,1454h0M968,1451h0M968.5,1452.5h0M968.7,1442.5h0M969.2,1446.9h0M969.4,1449h0M969.9,1454.4h0M970.2,1444.4h0M970.4,1435.4h0M970.9,1444.1h0M971.3,1456h0M971.8,1449.7h0M969.9,1493.4h0M970.4,1493.5h0M970.9,1496.5h0M971.3,1492.8h0M971.6,1489.5h0M971.9,1495.4h0M972.4,1493.4h0M972.5,1493.2h0M973.2,1493.8h0M973.5,1493.9h0M973.9,1483.2h0M974.1,1490.2h0M974.6,1494.2h0M974.9,1497.1h0M975.3,1499.1h0M975.9,1499.5h0M976.3,1491.9h0M976.4,1497h0M977,1490.6h0M977.4,1494.6h0M977.6,1489.5h0M978.2,1491.9h0M978.4,1490.6h0M978.9,1499.4h0M979.1,1492h0M979.5,1494h0M979.8,1498.6h0M980.4,1488.4h0M980.9,1497.1h0M980.9,1494.8h0M981.4,1490.6h0M982,1495h0M982.1,1492.5h0M982.8,1495.4h0M982.8,1489.3h0M983.4,1491h0M983.8,1497.8h0M984,1490.2h0M984.4,1493.8h0M984.7,1490.8h0M985.1,1497.8h0M985.6,1494.5h0M986.1,1496.3h0M986.2,1487.7h0M986.9,1489.5h0M987.2,1495.9h0M987.7,1492.3h0M987.9,1492h0M988.4,1497.1h0M988.6,1494.1h0M989,1492.3h0M989.5,1494.2h0M989.7,1491.7h0M990.3,1495.5h0M990.5,1496h0M991.1,1496.3h0M991.3,1497.3h0M991.6,1493.5h0M992.3,1494.3h0M992.4,1491.6h0M992.9,1489.4h0M993.4,1495.9h0M993.5,1488.8h0M993.9,1497.1h0M994.2,1496.4h0M994.8,1491.6h0M995.2,1492.9h0M995.5,1490.6h0M995.8,1497.6h0M996.2,1491.5h0M996.5,1493.4h0M997.2,1494.7h0M997.5,1493.2h0M997.9,1492.8h0M998,1493.1h0M998.6,1497.5h0M998.8,1493.6h0M999.4,1495.9h0M999.9,1494.9h0M1000,1494.4h0M1000.4,1490.3h0M1000.8,1498.7h0M1001.3,1495.7h0M1001.5,1490h0M1002.2,1495.3h0M1002.4,1491.1h0M1002.7,1490.4h0M1003.3,1490.8h0M1003.5,1493.8h0M1003.9,1490.4h0M1004.2,1497.3h0M1004.5,1494.1h0M1005,1492.2h0M1005.5,1495.4h0M1005.6,1496.9h0M1006.2,1493h0M1006.4,1490.7h0M1007.1,1490.8h0M1007.3,1490.5h0M1007.9,1496.5h0M1007.9,1491.4h0M1008.4,1495.2h0M1006.8,1507h0M1007.4,1479.6h0M1007.7,1488.5h0M1007.9,1483.8h0M1008.3,1486.7h0M1008.6,1482.9h0M1009,1482.2h0M1009.6,1481.7h0M1010,1495.4h0M1010.4,1493.6h0M1010.5,1478.4h0M1011,1480.9h0M1011.6,1472.4h0M1011.9,1479.4h0M1012,1479.3h0M1012.4,1491.9h0M1013,1489h0M1013.1,1476.8h0M1013.7,1476h0M1014,1476.9h0M1014.4,1480.1h0M1015,1473.5h0M1015.2,1480.5h0M1015.7,1473.8h0M1015.8,1470.2h0M1016.5,1474.1h0M1016.7,1475.7h0M1017.2,1473.7h0M1017.4,1468.9h0M1018,1478.2h0M1018.4,1467.8h0M1018.7,1471.8h0M1018.8,1463.2h0M1019.2,1479.9h0M1019.6,1464.8h0M1020.2,1470.8h0M1020.6,1458.2h0M1021,1466.8h0M1021.4,1462.7h0M1021.8,1468.4h0M1022,1457.6h0M1022.4,1465h0M1022.6,1450.5h0M1023.2,1451.9h0M1023.7,1468.8h0M1024,1457.3h0M1024.2,1461.8h0M1024.6,1450h0M1025.3,1449.3h0M1025.6,1453h0M1025.9,1453.5h0M1026.3,1452.3h0M1026.6,1451.5h0M1027.1,1451.4h0M1027.2,1456.4h0M1027.7,1438.3h0M1028.3,1447h0M1028.3,1450.2h0M1029,1458.9h0M1025.5,1498.9h0M1026,1487.1h0M1026.1,1488.2h0M1027.1,1498.8h0M1027.7,1486.8h0M1028.3,1498.2h0M1028.8,1496.6h0M1029.3,1490.1h0M1029.9,1483.6h0M1030.5,1483.9h0M1030.6,1495.7h0M1031.5,1488h0M1031.8,1481h0M1032.6,1495.1h0M1033.2,1484.6h0M1033.7,1486h0M1033.9,1489.7h0M1034.7,1505h0M1035.2,1488.8h0M1035.5,1494.5h0M1036.4,1487.6h0M1037,1485.8h0M1037.4,1490.7h0M1037.8,1483.6h0M1038.6,1488h0M1039.2,1484.2h0M1037.3,1446.1h0M1037.7,1454.1h0M1038.2,1451.2h0M1038.7,1449.5h0M1039,1455.7h0M1039.4,1455.7h0M1039.7,1448.9h0M1040.2,1460.2h0M1040.3,1445.9h0M1040.8,1454.7h0M1041.1,1449.5h0M1041.6,1450.2h0M1042.2,1461.7h0M1042.3,1455.2h0M1042.7,1449.5h0M1043,1451.6h0M1043.3,1459.6h0M1043.9,1457.2h0M1044.2,1452h0M1044.7,1445.6h0M1044.9,1453.8h0M1045.2,1455.7h0M1045.7,1449.8h0M1046.1,1454.4h0M1046.7,1450.3h0M1047.1,1456h0M1047.3,1467.3h0M1047.7,1462h0M1048.2,1450.6h0M1048.5,1451.4h0M1048.7,1461.7h0M1049.3,1450.4h0M1049.4,1456.5h0M1049.7,1453.7h0M1050.2,1450.1h0M1050.6,1455.3h0M1051.2,1450.6h0M1051.3,1440.5h0M1051.8,1452.8h0M1052.3,1454.3h0M1052.4,1453h0M1053.1,1447.8h0M1053.2,1451.9h0M1053.8,1461.7h0M1054,1446.4h0M1054.5,1446.7h0M1055,1454.9h0M1055,1449.6h0M1055.8,1458h0M1056,1454.4h0M1056.2,1443.8h0M1056.7,1454.2h0M1056.9,1457.6h0M1057.6,1450.2h0M1057.8,1444.7h0M1058.1,1450.4h0M1058.5,1458.5h0M1059.1,1448.7h0M1059.5,1454.4h0M1059.6,1452h0M1060,1461.7h0M1060.5,1457.9h0M1060.8,1446h0M1061.2,1456.9h0M1061.5,1458.9h0M1062,1451.2h0M1062.3,1457.4h0M1062.9,1446.3h0M1063.1,1441.3h0M1063.4,1456.3h0M1063.9,1466.5h0M1064.2,1453.7h0M1064.7,1453.7h0M1065.1,1456.9h0M1065.5,1448h0M1065.9,1459.8h0M1066.1,1466.3h0M1066.7,1457.9h0M1067,1458h0M1067.2,1463.6h0M1067.8,1448.4h0M1068.1,1450.1h0M1068.4,1465.4h0M1068.7,1452.3h0M1069.2,1455.1h0M1069.4,1464.4h0M1069.8,1456.8h0M1070.3,1461.6h0M1070.9,1449.3h0M1071.1,1449.2h0M1071.4,1452.3h0M1071.7,1450.8h0M1072.2,1458.7h0M1072.5,1464.9h0M1072.8,1456.9h0M1073.3,1455h0M1073.7,1452.4h0M1074.2,1469.1h0M1074.6,1467.3h0M1075,1455.7h0M1075.4,1463.4h0M1075.8,1454.3h0M1075.9,1459.7h0M1076.5,1448.6h0M1076.9,1453.5h0M1077,1460h0M1077.6,1454.4h0M1078,1448.8h0M1078.4,1452.3h0M1078.6,1449.8h0M1079,1455.2h0M1079.3,1449.9h0M1079.9,1459.5h0M1080.2,1455.5h0M1080.4,1442.9h0M1081.1,1453.6h0M1081.3,1458.9h0M1081.6,1468.8h0M1082,1451.7h0M1052.6,1467.5h0M1054.1,1469.3h0M1055.7,1461.1h0M1058.2,1473.9h0M1059.4,1464h0M1060.1,1472.7h0M1063.1,1472.7h0M1063.9,1474h0M1066,1461.1h0M1067.6,1476.5h0M1069.6,1474.3h0M1070.6,1463.9h0M1082.5,1456.7h0M1082.6,1462.7h0M1082.9,1463.1h0M1083.4,1475.7h0M1083.8,1465.8h0M1084.1,1471h0M1084.2,1455.8h0M1084.6,1458.2h0M1085.2,1464.1h0M1085.2,1459.1h0M1085.8,1468.3h0M1085.8,1465.3h0M1086.3,1452.2h0M1086.5,1462.8h0M1087.1,1460.8h0M1087.3,1467.7h0M1087.7,1469.9h0M1088.1,1462.4h0M1088.2,1464.7h0M1088.6,1464.3h0M1089.1,1471.7h0M1089.2,1458.1h0M1089.5,1473.7h0M1089.9,1456.5h0M1090.1,1471.6h0M1090.6,1466.4h0M1090.9,1466.9h0M1091.1,1455.1h0M1091.5,1463.2h0M1091.8,1462.3h0M1092.3,1469.4h0M1092.4,1460.2h0M1092.8,1469.6h0M1093.1,1477.1h0M1093.6,1457h0M1094,1466.1h0M1094.1,1463.6h0M1094.4,1467h0M1094.7,1454.2h0M1095.1,1464.1h0M1095.4,1464.8h0M1095.9,1468.8h0M1096,1452.4h0M1096.5,1466.1h0M1096.9,1456.1h0M1097,1476.4h0M1097.4,1466.4h0M1097.8,1458.2h0M1098.2,1467.9h0M1098.3,1457.7h0M1098.7,1457.3h0M1099.1,1462h0M1099.4,1459.5h0M1099.7,1469.7h0M1100.2,1467.6h0M1100.4,1462.2h0M1100.8,1464.9h0M1100.9,1460.1h0M1101.4,1472h0M1101.6,1457h0M1102,1462.2h0M1102.2,1461.3h0M1102.7,1465.3h0M1103.1,1470.8h0M1103.4,1458.9h0M1103.6,1470.9h0M1103.9,1463.1h0M1104.2,1469.3h0M1104.8,1456.6h0M1105.1,1468h0M1105.1,1463.4h0M1105.5,1472.5h0M1105.9,1470.4h0M1106.3,1476.5h0M1106.4,1469.3h0M1106.8,1467.4h0M1107.1,1468.8h0M1107.5,1466.9h0M1107.9,1460.9h0M1108.3,1467.6h0M1108.6,1464.5h0M1108.8,1476.3h0M1109.3,1458.9h0M1109.6,1461.8h0M1110,1469.9h0M1110.3,1457.4h0M1110.4,1464.8h0M1110.7,1476.1h0M1111.1,1477.6h0M1111.6,1459.1h0M1111.7,1467.2h0M1112,1463h0M1112.4,1453h0M1112.7,1469.9h0M1113.2,1469.1h0M1113.6,1469.8h0M1113.7,1465.3h0M1114.3,1462h0M1114.5,1467.4h0M1114.9,1464.1h0M1115.2,1455.3h0M1115.5,1475.4h0M1115.7,1463.9h0M1116.2,1468h0M1116.3,1476.2h0M1116.6,1460.5h0M1117,1462.6h0M1117.5,1470.6h0M1117.8,1464.1h0M1118,1458.2h0M1118.4,1466.7h0M1118.6,1471.9h0M1119.1,1461.4h0M1119.5,1457.5h0M1119.7,1457.9h0M1119.9,1462.8h0M1120.2,1464.1h0M1120.7,1461.6h0M1121.1,1478.9h0M1121.2,1459.9h0M1121.6,1468.4h0M1122,1458.5h0M1122.2,1470.4h0M1122.6,1462.6h0M1122.8,1465.2h0M1123.2,1466.6h0M1123.5,1473.3h0M1124,1460.7h0M1124.4,1468.7h0M1124.4,1468.7h0M1124.8,1460.9h0M1125.2,1469.1h0M1125.5,1467.3h0M1125.8,1462h0M1126.2,1467.3h0M1126.4,1464.8h0M1126.7,1473.7h0M1127.3,1463.7h0M1127.5,1473.6h0M1127.9,1471.8h0M1128.2,1460h0M1128.6,1458.1h0M1128.8,1467.6h0M1129,1468.9h0M1129.4,1471.1h0M1129.7,1467.1h0M1130.3,1466.9h0M1130.3,1470h0M1130.9,1457.1h0M1131.2,1469.9h0M1131.6,1466.5h0M1131.8,1468.4h0M1132.1,1468.6h0M1132.5,1467.2h0M1132.8,1466.7h0M1133,1457.3h0M1133.5,1480.4h0M1133.7,1462.5h0M1133.9,1457.3h0M1134.3,1461.8h0M1134.8,1471.1h0M1135,1465.4h0M1135.5,1471.6h0M1135.7,1467.2h0M1136.1,1474.6h0M1136.3,1463h0M1136.6,1460.9h0M1136.9,1461.2h0M1137.2,1463.1h0M1137.8,1460.7h0M1138,1466.8h0M1138.3,1459.1h0M1138.5,1463.2h0M1139.1,1472.4h0M1139.3,1465.1h0M1139.5,1448.8h0M1139.8,1463.6h0M1140.2,1463.1h0M1140.7,1461.5h0M1140.8,1460.4h0M1141.2,1461h0M1141.5,1462.7h0M1142,1462h0M1142.2,1466.1h0M1142.6,1463.7h0M1143,1466.1h0M1143.2,1475.1h0M1143.6,1466h0M1143.8,1462.8h0M1144.1,1473.1h0M1144.4,1462.5h0M1145,1455.6h0M1145.1,1467.9h0M1145.4,1467.2h0M1145.9,1471.9h0M1146.2,1468.2h0M1146.5,1469.5h0M1147,1462.6h0M1147,1469.2h0M1147.4,1468h0M1147.7,1461h0M1148,1459.6h0M1148.4,1472h0M1148.7,1471.1h0M1149.1,1471h0M1149.6,1456.6h0M1149.8,1464.8h0M1150.3,1472.1h0M1150.5,1463.4h0M1150.8,1468.4h0M1151.1,1470.4h0M1151.3,1478h0M1151.6,1470.1h0M1152.2,1467.8h0M1152.5,1476.9h0M1152.8,1464.9h0M1153.2,1470h0M1153.5,1467.5h0M1153.6,1458.4h0M1154.1,1459.5h0M1154.5,1463.8h0M1154.8,1453h0M1155.1,1456.2h0M1155.3,1465.3h0M1155.5,1473.1h0M1155.9,1453.5h0M1156.3,1458.7h0M1156.6,1471.8h0M1156.9,1473.4h0M1157.4,1468.6h0M1157.7,1461.4h0M1158,1455.4h0M1158.3,1462.4h0M1158.7,1461.2h0M1158.9,1470.3h0M1159.3,1458.2h0M1159.7,1474.1h0M1159.8,1460.5h0M1160.1,1468.1h0M1160.7,1470.5h0M1160.8,1472.7h0M1161.1,1456.8h0M1161.7,1467.3h0M1161.8,1465h0M1162.1,1466.6h0M1162.5,1459.5h0M1162.8,1463.2h0M1163.1,1466.6h0M1163.4,1454.4h0M1163.7,1466.6h0M1164,1470.5h0M1164.4,1470.3h0M1164.8,1465.6h0M1165.1,1464.4h0M1165.4,1470.6h0M1166,1460.9h0M1166.2,1471.3h0M1166.4,1468.8h0M1166.7,1458.8h0M1167.2,1478h0M1167.4,1467.7h0M1167.9,1471.6h0M1168.2,1465.6h0M1168.6,1464.5h0M1168.8,1464.2h0M1169.2,1478h0M1169.3,1466.8h0M1169.8,1461.1h0M1170.1,1466.1h0M1170.5,1463.6h0M1170.8,1461.6h0M1170.9,1466.1h0M1171.3,1461h0M1171.6,1466.2h0M1171.9,1463.5h0M1172.5,1467.5h0M1172.7,1470.2h0M1173,1462.1h0M1173.2,1469.8h0M1173.7,1468.4h0M1174,1461.3h0M1174.2,1453.1h0M1174.7,1468.8h0M1175,1476.5h0M1175.3,1475.7h0M1175.5,1462.6h0M1176,1463.5h0M1176.3,1472.5h0M1176.7,1465.9h0M1177,1472.2h0M1177.4,1470.1h0M1177.7,1469.8h0M1177.9,1468.2h0M1178.3,1468.7h0M1178.6,1463.5h0M1178.7,1469.5h0M1179.2,1475.3h0M1179.5,1463.2h0M1180,1466.2h0M1180.4,1468.4h0M1180.4,1467.3h0M1180.9,1464.7h0M1181.3,1468.1h0M1181.7,1459.5h0M1181.9,1467.6h0M1182.3,1460.6h0M1182.6,1475h0M1182.7,1466.4h0M1183.1,1466.7h0M1183.4,1468.8h0M1183.8,1463.5h0M1184.2,1466.8h0M1184.3,1481.3h0M1184.8,1467h0M1185.2,1460.6h0M1185.4,1464.4h0M1185.7,1469.5h0M1186.1,1467.1h0M1186.4,1468.7h0M1186.9,1471.7h0M1187,1463.8h0M1187.3,1473.7h0M1187.7,1468.8h0M1188,1460.2h0M1188.3,1451.7h0M1188.7,1467.6h0M1189,1463.8h0M1189.3,1475h0M1189.7,1466.8h0M1190,1469.5h0M1190.2,1468.8h0M1190.6,1468h0M1190.9,1476.2h0M1191.2,1453.9h0M1191.6,1466.2h0M1191.9,1471.4h0M1192.3,1470.6h0M1192.5,1470.2h0M1192.8,1468.3h0M1193.3,1461.7h0M1193.5,1477.9h0M1193.9,1469.3h0M1194.3,1466.9h0M1194.7,1481.2h0M1195,1471.4h0M1195.4,1472.1h0M1195.5,1469.6h0M1195.9,1465.3h0M1196.4,1468.4h0M1196.7,1468.5h0M1196.7,1465.4h0M1197,1461.3h0M1197.6,1473.7h0M1197.9,1481.9h0M1198.2,1467.1h0M1198.6,1462.6h0M1198.9,1465h0M1199.2,1461.1h0M1199.4,1469h0M1199.8,1472.5h0M1200,1466.2h0M1200.4,1468.3h0M1200.8,1472.1h0M1201.1,1468h0M1201.4,1474h0M1201.7,1469.7h0M1202.2,1473h0M1202.4,1458.4h0M1202.9,1467.8h0M1203.2,1459.3h0M1203.4,1465.4h0M1203.6,1475h0M1204.1,1469.6h0M1204.5,1466.4h0M1204.8,1465.1h0M1205,1469.2h0M1205.4,1469.7h0M1205.7,1465.5h0M1206,1474.4h0M1206.3,1467.7h0M1206.7,1469.8h0M1207,1472.2h0M1207.5,1466.2h0M1207.8,1478.3h0M1208,1462.6h0M1208.3,1477.1h0M1208.7,1475.8h0M1208.9,1467.4h0M1209.4,1471.2h0M1209.6,1462.7h0M1210,1456.3h0M1210.3,1469.9h0M1210.5,1476.2h0M1210.9,1470.4h0M1211.4,1470.9h0M1211.7,1461.5h0M1211.8,1480h0M1212.4,1462h0M1212.6,1470.7h0M1212.8,1475.6h0M1213.4,1458.9h0M1213.5,1477.6h0M1213.9,1463.3h0M1214.3,1479h0M1214.4,1470.6h0M1214.7,1473.3h0M1215.2,1463.9h0M1215.5,1465.9h0M1215.8,1471.4h0M1216.2,1462.2h0M1216.4,1467.8h0M1216.7,1463.1h0M1217.2,1464.7h0M1217.6,1471h0M1217.8,1478.3h0M1218.1,1465.2h0M1218.5,1466.5h0M1218.8,1469.5h0M1219.1,1476h0M1219.5,1468.3h0M1219.7,1455.3h0M1220.2,1474.9h0M1220.5,1467.9h0M1220.8,1470.4h0M1221.1,1472.6h0M1221.4,1460.5h0M1221.9,1464.9h0M1222.1,1465.7h0M1222.3,1461.9h0M1222.6,1462.6h0M1222.9,1472.1h0M1223.4,1479.8h0M1223.7,1471.3h0M1224.1,1455.8h0M1224.5,1472.8h0M1224.7,1469.7h0M1225,1471h0M1225.2,1471h0M1225.7,1466.4h0M1226,1466h0M1226.3,1461.3h0M1226.7,1483.9h0M1227,1475.9h0M1227.3,1465h0M1227.7,1473.2h0M1227.9,1469h0M1228.4,1450.4h0M1228.7,1465.1h0M1228.9,1469.6h0M1229.2,1464.4h0M1229.7,1473.6h0M1229.9,1473.9h0M1230.2,1465.2h0M1230.6,1464.3h0M1230.7,1467.8h0M1231.2,1469.3h0M1231.5,1473.4h0M1231.9,1469.9h0M1232.1,1458.2h0M1232.7,1476.9h0M1232.9,1463.5h0M1233.2,1462.6h0M1233.6,1479.1h0M1233.8,1466.4h0M1234,1458.5h0M1234.4,1453.5h0M1234.7,1461.5h0M1235.2,1456.3h0M1235.5,1458.9h0M1235.6,1465.6h0M1236.2,1474h0M1236.3,1466.5h0M1236.8,1464.5h0M1237.2,1473.7h0M1237.3,1471.9h0M1237.7,1463.5h0M1238.3,1469.3h0M1238.5,1469.1h0M1238.6,1475.7h0M1239,1460.4h0M1239.3,1466.2h0M1239.9,1472.7h0M1239.9,1451.9h0M1240.4,1461.3h0M1240.7,1467.8h0M1241.2,1474h0M1241.3,1464.7h0M1241.8,1474.5h0M1242.2,1468.2h0M1242.3,1472.4h0M1242.8,1473.1h0M1243,1467.8h0M1243.2,1462.2h0M1243.5,1465.6h0M1243.9,1473.6h0M1244.3,1459.6h0M1244.6,1471.7h0M1245,1472.1h0M1245.2,1478.1h0M1245.8,1463h0M1246.1,1468.8h0M1246.2,1471h0M1246.6,1474.1h0M1247,1464.8h0M1247.1,1471.1h0M1247.7,1470.5h0M1248,1474.5h0M1248.4,1478.4h0M1248.7,1471.4h0M1248.9,1461.5h0M1249.2,1470.5h0M1249.5,1469h0M1249.7,1461.6h0M1250,1476.4h0M1250.6,1463.4h0M1250.9,1475.3h0M1251.2,1473.6h0M1251.4,1466.1h0M1251.8,1468h0M1252.1,1463.5h0M1252.4,1465.3h0M1252.8,1469.8h0M1253.2,1470.9h0M1253.5,1468.2h0M1253.7,1468.1h0M1254.1,1474.8h0M1254.4,1471.8h0M1254.6,1471.9h0M1255.2,1469.7h0M1255.5,1455.8h0M1255.8,1465.7h0M1255.9,1467.5h0M1256.4,1478.6h0M1256.7,1473.3h0M1257.2,1463.3h0M1257.4,1476.2h0M1257.9,1470.2h0M1258.2,1469.8h0M1258.2,1473.6h0M1258.8,1465.5h0M1259.1,1486.9h0M1259.5,1475.1h0M1259.7,1473.7h0M1260.1,1468.1h0M1260.4,1464.7h0M1260.8,1473.1h0M1260.8,1473.3h0M1261.4,1456h0M1261.5,1472.4h0M1262,1466.5h0M1262.4,1474.7h0M1262.5,1473.6h0M1262.9,1461.2h0M1263.3,1474.3h0M1263.6,1470.9h0M1263.8,1469.2h0M1101.9,1451.1h0M1106,1457.5h0M1110.5,1469.2h0M1115,1451.5h0M1120.6,1464.3h0M1122.9,1460.9h0M1127.9,1451.5h0M1133.2,1448.9h0M1136.3,1463.7h0M1137.4,1471.4h0M1143.8,1462h0M1147.2,1455.4h0M1149.8,1459.7h0M1155.3,1461.8h0M1158.2,1453.2h0M1164.2,1458.9h0M1166.1,1460.7h0M1170.2,1451.4h0M1177.8,1460.1h0M1180.1,1460.5h0M1182.9,1470.2h0M1187.3,1453h0M1193.9,1469.4h0M1198.6,1458.2h0M1199.4,1461.3h0M1204.8,1475.6h0M1207.8,1457.9h0M1211.1,1467.3h0M1218.7,1451.6h0M1219.9,1449.7h0M1225.1,1465.3h0M1229.6,1460.2h0M1235.4,1463.7h0M1239.3,1450.2h0M1240.2,1447.2h0M1246.2,1470.9h0M1247.9,1460.2h0M1253.9,1454.4h0M1256,1450.4h0M1256.3,1470.9h0M1257,1470.6h0M1257.2,1460.8h0M1257.6,1471.7h0M1257.9,1463.9h0M1258.3,1466h0M1258.8,1460.3h0M1259.2,1463.6h0M1259.6,1471.1h0M1259.8,1464.9h0M1260.4,1460.7h0M1260.8,1465.5h0M1261,1467.8h0M1261.5,1460.6h0M1261.9,1468.2h0M1262,1459.7h0M1262.7,1453.3h0M1262.9,1465.9h0M1263.2,1460.6h0M1263.7,1462.5h0M1264.1,1465.1h0M1264.5,1466.3h0M1264.9,1464.2h0M1265.4,1463.8h0M1265.8,1464.9h0M1266,1461.1h0M1266.4,1458.9h0M1266.8,1456.2h0M1267.1,1459h0M1267.6,1455.8h0M1267.8,1466.3h0M1268.5,1468h0M1268.8,1460.9h0M1269.1,1465.5h0M1269.3,1457.2h0M1269.9,1448.9h0M1270.3,1459.6h0M1270.7,1457.5h0M1271.1,1458.4h0M1271.5,1454.8h0M1271.6,1447.8h0M1272,1459.8h0M1272.6,1449.7h0M1273,1454.2h0M1273.2,1459.5h0M1273.5,1459.7h0M1274,1455.6h0M1274.4,1459h0M1274.7,1461.9h0M1275.2,1454.9h0M1275.6,1456.4h0M1275.8,1455h0M1276.3,1446.4h0M1276.6,1449h0M1277.2,1455.3h0M1277.5,1450.4h0M1277.9,1446.8h0M1278.2,1460.6h0M246.4,1489.5h0M354.7,1479.2h0M365.8,1479.2h0M403.8,1493.9h0M491.7,1478.2h0M655.1,1474.4h0M812.5,1424.8h0M1078.1,1430.3h0M1192.6,1433h0M687.8,1482h0M1227.3,1488.8h0M1178.3,1487.1h0M1166,1483.7h0" stroke="#000" stroke-width="6.2" stroke-linecap="round" fill="none"/>
<rect x="170.4" y="1541.1" width="1156.2" height="17.3" fill="#fff"/>
<rect x="170.4" y="1541.1" width="67.8" height="17.3" fill="#363636" stroke="#333" stroke-width="1.6"/>
<rect x="695.2" y="1541.1" width="197" height="17.3" fill="#363636" stroke="#333" stroke-width="1.6"/>
<rect x="986.2" y="1541.1" width="172.5" height="17.3" fill="#363636" stroke="#333" stroke-width="1.6"/>
<rect x="1239.2" y="1541.1" width="88" height="17.3" fill="#999"/>
<line x1="1239.2" y1="1541.1" x2="1239.2" y2="1558.4" stroke="#333" stroke-width="1.6"/>
<rect x="569.6" y="1539.9" width="51.3" height="18.5" fill="#efefef"/>
<path d="M569.6,1541.1 L573.6,1541.1 Q577.3,1542.1 582.3,1549.8 Q577.3,1557.4 573.6,1558.4 L569.6,1558.4 Z" fill="url(#hat)" stroke="#333" stroke-width="1.8"/>
<path d="M620.9,1541.1 L612.9,1541.1 Q596.3,1542.1 582.3,1549.8 Q596.3,1557.4 612.9,1558.4 L620.9,1558.4 Z" fill="url(#hat)" stroke="#333" stroke-width="1.8"/>
<circle cx="582.3" cy="1549.8" r="5.6" fill="#fff" stroke="#333" stroke-width="1.8"/>
<path d="M170.4,1541.1 L569.6,1541.1 M620.9,1541.1 L1326.6,1541.1 M170.4,1558.4 L569.6,1558.4 M620.9,1558.4 L1326.6,1558.4" stroke="#333" stroke-width="2.2" fill="none"/>
<path d="M170.4,1541.1 A70.514,8.650 0 0 0 170.4,1558.4" fill="#fff" stroke="#333" stroke-width="1.8"/>
<line x1="98.3" y1="1558.4" x2="1326.6" y2="1558.4" stroke="#333" stroke-width="2.2"/>
<line x1="99.3" y1="1558.4" x2="99.3" y2="1575.8" stroke="#333" stroke-width="2"/>
<text x="97.3" y="1606" font-size="31" text-anchor="middle" font-weight="normal" font-style="normal" fill="#1a1a1a" >0</text>
<line x1="303.6" y1="1558.4" x2="303.6" y2="1575.8" stroke="#333" stroke-width="2"/>
<text x="301.4" y="1606" font-size="31" text-anchor="middle" font-weight="normal" font-style="normal" fill="#1a1a1a" >5</text>
<line x1="508" y1="1558.4" x2="508" y2="1575.8" stroke="#333" stroke-width="2"/>
<text x="505.8" y="1606" font-size="31" text-anchor="middle" font-weight="normal" font-style="normal" fill="#1a1a1a" >10</text>
<line x1="712.3" y1="1558.4" x2="712.3" y2="1575.8" stroke="#333" stroke-width="2"/>
<text x="710.1" y="1606" font-size="31" text-anchor="middle" font-weight="normal" font-style="normal" fill="#1a1a1a" >15</text>
<line x1="916.7" y1="1558.4" x2="916.7" y2="1575.8" stroke="#333" stroke-width="2"/>
<text x="914.5" y="1606" font-size="31" text-anchor="middle" font-weight="normal" font-style="normal" fill="#1a1a1a" >20</text>
<line x1="1121" y1="1558.4" x2="1121" y2="1575.8" stroke="#333" stroke-width="2"/>
<text x="1118.8" y="1606" font-size="31" text-anchor="middle" font-weight="normal" font-style="normal" fill="#1a1a1a" >25</text>
<line x1="1325.1" y1="1558.4" x2="1325.1" y2="1575.8" stroke="#333" stroke-width="2"/>
<text x="1322.9" y="1606" font-size="31" text-anchor="middle" font-weight="normal" font-style="normal" fill="#1a1a1a" >30</text>
<text x="711.2" y="1650.1" font-size="31.4" text-anchor="middle" font-weight="normal" font-style="normal" fill="#1a1a1a" >Y chromosome coordinate (Mb)</text>
<line x1="99.3" y1="1386.9" x2="99.3" y2="1525.7" stroke="#333" stroke-width="2"/>
<line x1="81.5" y1="1524.7" x2="99.3" y2="1524.7" stroke="#333" stroke-width="2"/>
<text x="76.1" y="1535.1" font-size="29.5" text-anchor="end" font-weight="normal" font-style="normal" fill="#1a1a1a" >0</text>
<line x1="81.5" y1="1456.3" x2="99.3" y2="1456.3" stroke="#333" stroke-width="2"/>
<text x="76.1" y="1466.7" font-size="29.5" text-anchor="end" font-weight="normal" font-style="normal" fill="#1a1a1a" >2</text>
<line x1="81.5" y1="1387.9" x2="99.3" y2="1387.9" stroke="#333" stroke-width="2"/>
<text x="76.1" y="1398.3" font-size="29.5" text-anchor="end" font-weight="normal" font-style="normal" fill="#1a1a1a" >4</text>
<text transform="translate(38.3,1456.3) rotate(-90)" font-size="31.2" text-anchor="middle" fill="#1a1a1a" >Copy number</text>
<text x="99.6" y="1194.2" font-size="29.3" text-anchor="start" font-weight="normal" font-style="normal" fill="#1a1a1a" >TD</text>
<text x="100.1" y="1228.4" font-size="29.3" text-anchor="start" font-weight="normal" font-style="normal" fill="#1a1a1a" >D</text>
<text x="100.1" y="1262.4" font-size="29.3" text-anchor="start" font-weight="normal" font-style="normal" fill="#1a1a1a" >HH</text>
<text x="99.6" y="1296.4" font-size="29.3" text-anchor="start" font-weight="normal" font-style="normal" fill="#1a1a1a" >TT</text>
<text x="1.5" y="1173.8" font-size="47.5" text-anchor="start" font-weight="bold" font-style="normal" fill="#000" class="pl">c</text>
<text x="1321" y="1142" font-size="32.3" text-anchor="end" font-weight="normal" font-style="normal" fill="#1a1a1a" >PD13486a</text>
<text x="1321" y="1181.4" font-size="32.3" text-anchor="end" font-weight="normal" font-style="normal" fill="#1a1a1a" >Age: 37 y.o.</text>
<text x="1380.5" y="57.8" font-size="48" text-anchor="start" font-weight="bold" font-style="normal" fill="#000" class="pl">d</text>
<line x1="1575.7" y1="87.1" x2="1575.7" y2="459.2" stroke="#222" stroke-width="1.6"/>
<line x1="1562.2" y1="458.4" x2="1575.7" y2="458.4" stroke="#222" stroke-width="1.6"/>
<text x="1559.2" y="470.2" font-size="32.5" text-anchor="end" font-weight="normal" font-style="normal" fill="#1a1a1a" >0</text>
<line x1="1562.2" y1="365.8" x2="1575.7" y2="365.8" stroke="#222" stroke-width="1.6"/>
<text x="1559.2" y="377.6" font-size="32.5" text-anchor="end" font-weight="normal" font-style="normal" fill="#1a1a1a" >25</text>
<line x1="1562.2" y1="273.1" x2="1575.7" y2="273.1" stroke="#222" stroke-width="1.6"/>
<text x="1559.2" y="284.9" font-size="32.5" text-anchor="end" font-weight="normal" font-style="normal" fill="#1a1a1a" >50</text>
<line x1="1562.2" y1="180.5" x2="1575.7" y2="180.5" stroke="#222" stroke-width="1.6"/>
<text x="1559.2" y="192.3" font-size="32.5" text-anchor="end" font-weight="normal" font-style="normal" fill="#1a1a1a" >75</text>
<line x1="1562.2" y1="87.9" x2="1575.7" y2="87.9" stroke="#222" stroke-width="1.6"/>
<text x="1559.2" y="99.7" font-size="32.5" text-anchor="end" font-weight="normal" font-style="normal" fill="#1a1a1a" >100</text>
<rect x="1597.1" y="89.7" width="56.4" height="61.1" fill="#bd6bbd"/>
<rect x="1597.1" y="154.5" width="56.4" height="76.9" fill="#00b560"/>
<rect x="1597.1" y="235" width="56.4" height="93.4" fill="#0080e0"/>
<rect x="1597.1" y="332" width="56.4" height="124.9" fill="#ff4b2b"/>
<text x="1677" y="131.8" font-size="32.2" text-anchor="start" font-weight="normal" font-style="normal" fill="#1a1a1a" >Tandem duplication</text>
<text x="1677" y="207" font-size="32.2" text-anchor="start" font-weight="normal" font-style="normal" fill="#1a1a1a" >Deletion</text>
<text x="1677" y="294.7" font-size="32.2" text-anchor="start" font-weight="normal" font-style="normal" fill="#1a1a1a" >Tail-to-tail inversion</text>
<text x="1677" y="402.7" font-size="32.2" text-anchor="start" font-weight="normal" font-style="normal" fill="#1a1a1a" >Head-to-head inversion</text>
<text x="1581" y="504.5" font-size="32.2" fill="#1a1a1a"><tspan font-style="italic">n</tspan> = 22</text>
<text transform="translate(1452.5,268.5) rotate(-90)" font-size="32.7" text-anchor="middle" fill="#1a1a1a" >Intra-Y chromosome</text>
<text transform="translate(1491.5,268.5) rotate(-90)" font-size="32.7" text-anchor="middle" fill="#1a1a1a" >SV orientation (%)</text>
<text x="1381" y="613" font-size="47.5" text-anchor="start" font-weight="bold" font-style="normal" fill="#000" class="pl">e</text>
<line x1="1527.5" y1="633.8" x2="1527.5" y2="1007.9" stroke="#222" stroke-width="1.6"/>
<line x1="1527.5" y1="1007.1" x2="2177" y2="1007.1" stroke="#222" stroke-width="1.6"/>
<line x1="1531.5" y1="972.2" x2="2177" y2="972.2" stroke="#222" stroke-width="2.1" stroke-dasharray="2.4 4.5"/>
<line x1="1513" y1="972.2" x2="1527.5" y2="972.2" stroke="#222" stroke-width="1.6"/>
<text x="1511.5" y="983.8" font-size="32.5" text-anchor="end" font-weight="normal" font-style="normal" fill="#1a1a1a" >0</text>
<line x1="1513" y1="904.7" x2="1527.5" y2="904.7" stroke="#222" stroke-width="1.6"/>
<text x="1511.5" y="916.3" font-size="32.5" text-anchor="end" font-weight="normal" font-style="normal" fill="#1a1a1a" >10</text>
<line x1="1513" y1="837.2" x2="1527.5" y2="837.2" stroke="#222" stroke-width="1.6"/>
<text x="1511.5" y="848.8" font-size="32.5" text-anchor="end" font-weight="normal" font-style="normal" fill="#1a1a1a" >20</text>
<line x1="1513" y1="769.6" x2="1527.5" y2="769.6" stroke="#222" stroke-width="1.6"/>
<text x="1511.5" y="781.2" font-size="32.5" text-anchor="end" font-weight="normal" font-style="normal" fill="#1a1a1a" >30</text>
<line x1="1513" y1="702.1" x2="1527.5" y2="702.1" stroke="#222" stroke-width="1.6"/>
<text x="1511.5" y="713.7" font-size="32.5" text-anchor="end" font-weight="normal" font-style="normal" fill="#1a1a1a" >40</text>
<line x1="1513" y1="634.6" x2="1527.5" y2="634.6" stroke="#222" stroke-width="1.6"/>
<text x="1511.5" y="646.2" font-size="32.5" text-anchor="end" font-weight="normal" font-style="normal" fill="#1a1a1a" >50</text>
<circle cx="1555.7" cy="938.4" r="6.9" fill="#1d9a5f"/>
<circle cx="1583.9" cy="945.2" r="6.9" fill="#1d9a5f"/>
<circle cx="1612" cy="951.9" r="6.9" fill="#1d9a5f"/>
<circle cx="1640.2" cy="951.9" r="6.9" fill="#1d9a5f"/>
<circle cx="1668.3" cy="958.7" r="6.9" fill="#000"/>
<circle cx="1696.5" cy="958.7" r="6.9" fill="#000"/>
<circle cx="1724.7" cy="958.7" r="6.9" fill="#000"/>
<circle cx="1752.8" cy="958.7" r="6.9" fill="#000"/>
<circle cx="1781" cy="958.7" r="6.9" fill="#000"/>
<circle cx="1809.1" cy="965.4" r="6.9" fill="#000"/>
<circle cx="1837.3" cy="965.4" r="6.9" fill="#000"/>
<circle cx="1865.5" cy="965.4" r="6.9" fill="#000"/>
<circle cx="1893.6" cy="965.4" r="6.9" fill="#000"/>
<circle cx="1921.8" cy="972.2" r="6.9" fill="#000"/>
<circle cx="1949.9" cy="972.2" r="6.9" fill="#000"/>
<circle cx="1978.1" cy="965.4" r="6.9" fill="#000"/>
<circle cx="2006.3" cy="965.4" r="6.9" fill="#000"/>
<circle cx="2034.4" cy="951.9" r="6.9" fill="#f8553a"/>
<circle cx="2062.6" cy="938.4" r="6.9" fill="#f8553a"/>
<circle cx="2090.7" cy="897.9" r="6.9" fill="#f8553a"/>
<circle cx="2118.9" cy="789.9" r="6.9" fill="#f8553a"/>
<circle cx="2147.1" cy="762.9" r="6.9" fill="#f8553a"/>
<circle cx="1563" cy="677.9" r="9.9" fill="#1d9a5f"/>
<text x="1592" y="688.4" font-size="32.5" text-anchor="start" font-weight="normal" font-style="normal" fill="#1a1a1a" ><tspan font-size="28" dx="0">≥</tspan><tspan dx="1.8">3</tspan> bp microhomology</text>
<circle cx="1563" cy="732.2" r="9.9" fill="#000"/>
<text x="1592" y="742.7" font-size="32.5" text-anchor="start" font-weight="normal" font-style="normal" fill="#1a1a1a" >0-2 bp microhomology or insertion</text>
<circle cx="1563" cy="788.8" r="9.9" fill="#f8553a"/>
<text x="1592" y="799.3" font-size="32.5" text-anchor="start" font-weight="normal" font-style="normal" fill="#1a1a1a" ><tspan font-size="28" dx="0">≥</tspan><tspan dx="1.8">3</tspan> bp insertion</text>
<text x="1851" y="1049.5" font-size="32.5" text-anchor="middle" font-weight="normal" font-style="normal" fill="#1a1a1a" >Intra-chromosomal rearrangement junctions</text>
<text transform="translate(1452,815.5) rotate(-90)" font-size="32.5" text-anchor="middle" fill="#1a1a1a" >Length (bp)</text>
<text x="1387" y="1174" font-size="47.5" text-anchor="start" font-weight="bold" font-style="normal" fill="#000" class="pl">f</text>
<line x1="1526.4" y1="1189" x2="1526.4" y2="1419.6" stroke="#222" stroke-width="1.6"/>
<line x1="1526.4" y1="1418.8" x2="2148.2" y2="1418.8" stroke="#222" stroke-width="1.6"/>
<line x1="1513.9" y1="1418.8" x2="1526.4" y2="1418.8" stroke="#222" stroke-width="1.6"/>
<text x="1509.6" y="1428.2" font-size="30" text-anchor="end" font-weight="normal" font-style="normal" fill="#1a1a1a" >0</text>
<line x1="1513.9" y1="1342.5" x2="1526.4" y2="1342.5" stroke="#222" stroke-width="1.6"/>
<text x="1509.6" y="1351.9" font-size="30" text-anchor="end" font-weight="normal" font-style="normal" fill="#1a1a1a" >5</text>
<line x1="1513.9" y1="1266.1" x2="1526.4" y2="1266.1" stroke="#222" stroke-width="1.6"/>
<text x="1509.6" y="1275.5" font-size="30" text-anchor="end" font-weight="normal" font-style="normal" fill="#1a1a1a" >10</text>
<line x1="1513.9" y1="1189.8" x2="1526.4" y2="1189.8" stroke="#222" stroke-width="1.6"/>
<text x="1509.6" y="1199.2" font-size="30" text-anchor="end" font-weight="normal" font-style="normal" fill="#1a1a1a" >15</text>
<line x1="1526.4" y1="1418.8" x2="1526.4" y2="1425.8" stroke="#222" stroke-width="1.6"/>
<text x="1504.4" y="1463.3" font-size="31" fill="#1a1a1a">10<tspan font-size="20" dy="-11">2</tspan></text>
<line x1="1650.6" y1="1418.8" x2="1650.6" y2="1425.8" stroke="#222" stroke-width="1.6"/>
<text x="1628.6" y="1463.3" font-size="31" fill="#1a1a1a">10<tspan font-size="20" dy="-11">3</tspan></text>
<line x1="1774.8" y1="1418.8" x2="1774.8" y2="1425.8" stroke="#222" stroke-width="1.6"/>
<text x="1752.8" y="1463.3" font-size="31" fill="#1a1a1a">10<tspan font-size="20" dy="-11">4</tspan></text>
<line x1="1899" y1="1418.8" x2="1899" y2="1425.8" stroke="#222" stroke-width="1.6"/>
<text x="1877" y="1463.3" font-size="31" fill="#1a1a1a">10<tspan font-size="20" dy="-11">5</tspan></text>
<line x1="2023.2" y1="1418.8" x2="2023.2" y2="1425.8" stroke="#222" stroke-width="1.6"/>
<text x="2001.2" y="1463.3" font-size="31" fill="#1a1a1a">10<tspan font-size="20" dy="-11">6</tspan></text>
<line x1="2147.4" y1="1418.8" x2="2147.4" y2="1425.8" stroke="#222" stroke-width="1.6"/>
<text x="2125.4" y="1463.3" font-size="31" fill="#1a1a1a">10<tspan font-size="20" dy="-11">7</tspan></text>
<rect x="1589.4" y="1330.7" width="9.8" height="87.3" fill="#ff4b2b"/>
<rect x="1601.8" y="1330.7" width="9.8" height="87.3" fill="#ff4b2b"/>
<rect x="1614.3" y="1389.4" width="9.8" height="28.6" fill="#ff4b2b"/>
<rect x="1651.5" y="1360.1" width="9.8" height="57.9" fill="#ff4b2b"/>
<rect x="1726" y="1389.4" width="9.8" height="28.6" fill="#ff4b2b"/>
<rect x="1763.3" y="1389.4" width="9.8" height="28.6" fill="#ff4b2b"/>
<rect x="1775.7" y="1389.4" width="9.8" height="28.6" fill="#ff4b2b"/>
<rect x="1788.1" y="1360.1" width="9.8" height="57.9" fill="#ff4b2b"/>
<rect x="1800.6" y="1389.4" width="9.8" height="28.6" fill="#ff4b2b"/>
<rect x="1813" y="1389.4" width="9.8" height="28.6" fill="#ff4b2b"/>
<rect x="1825.4" y="1360.1" width="9.8" height="57.9" fill="#ff4b2b"/>
<rect x="1850.2" y="1389.4" width="9.8" height="28.6" fill="#ff4b2b"/>
<rect x="1875.1" y="1360.1" width="9.8" height="57.9" fill="#ff4b2b"/>
<rect x="1887.5" y="1389.4" width="9.8" height="28.6" fill="#ff4b2b"/>
<rect x="1899.9" y="1389.4" width="9.8" height="28.6" fill="#ff4b2b"/>
<rect x="1937.2" y="1389.4" width="9.8" height="28.6" fill="#ff4b2b"/>
<rect x="1949.6" y="1389.4" width="9.8" height="28.6" fill="#ff4b2b"/>
<rect x="1962" y="1360.1" width="9.8" height="57.9" fill="#ff4b2b"/>
<rect x="1974.4" y="1389.4" width="9.8" height="28.6" fill="#ff4b2b"/>
<rect x="1986.9" y="1389.4" width="9.8" height="28.6" fill="#ff4b2b"/>
<rect x="1999.3" y="1389.4" width="9.8" height="28.6" fill="#ff4b2b"/>
<rect x="2011.7" y="1301.4" width="9.8" height="116.6" fill="#ff4b2b"/>
<rect x="2036.5" y="1272" width="9.8" height="146" fill="#ff4b2b"/>
<rect x="2048.9" y="1301.4" width="9.8" height="116.6" fill="#ff4b2b"/>
<rect x="2061.4" y="1330.7" width="9.8" height="87.3" fill="#ff4b2b"/>
<rect x="2073.8" y="1389.4" width="9.8" height="28.6" fill="#ff4b2b"/>
<rect x="2086.2" y="1360.1" width="9.8" height="57.9" fill="#ff4b2b"/>
<rect x="2098.6" y="1360.1" width="9.8" height="57.9" fill="#ff4b2b"/>
<rect x="2111.1" y="1389.4" width="9.8" height="28.6" fill="#ff4b2b"/>
<text x="1551" y="1234.5" font-size="30.4" fill="#1a1a1a"><tspan font-style="italic">n</tspan> = 52</text>
<text x="1838.5" y="1505.4" font-size="30.4" text-anchor="middle" font-weight="normal" font-style="normal" fill="#1a1a1a" >Intra-DSB distance (bp)</text>
<text transform="translate(1451.5,1298.8) rotate(-90)" font-size="30.8" text-anchor="middle" fill="#1a1a1a" >Frequency (%)</text>
</svg>
</body></html>
